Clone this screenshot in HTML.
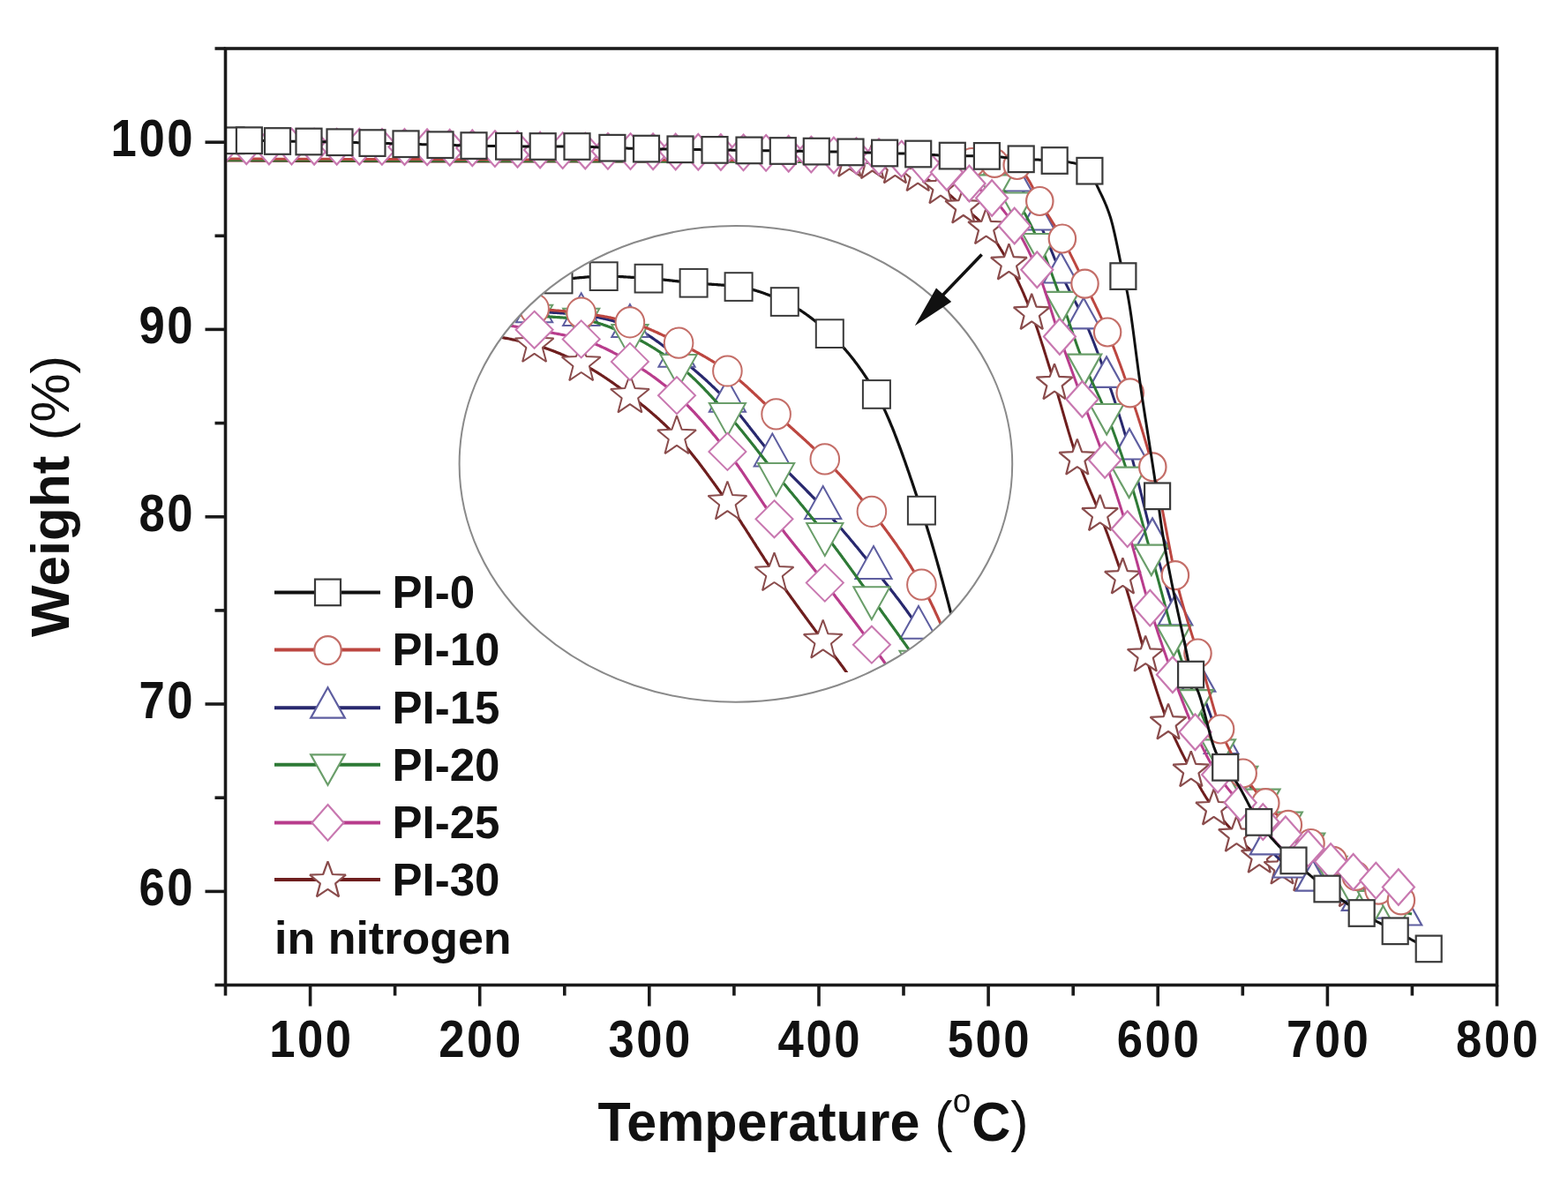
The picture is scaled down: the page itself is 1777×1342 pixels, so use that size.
<!DOCTYPE html>
<html><head><meta charset="utf-8"><title>TGA curves</title>
<style>html,body{margin:0;padding:0;background:#fff;}svg{display:block;}</style></head>
<body>
<svg width="1777" height="1342" viewBox="0 0 1777 1342">
<rect width="1777" height="1342" fill="#ffffff"/>
<defs>
<clipPath id="cp"><rect x="255.5" y="55.0" width="1441.0" height="1061.5"/></clipPath>
<clipPath id="ce"><ellipse cx="833.9" cy="525.9" rx="313.3" ry="269.8"/></clipPath>
<clipPath id="cr"><rect x="0" y="0" width="1777" height="762"/></clipPath>
</defs>
<g clip-path="url(#cp)">
<path d="M250.0,182.0 L251.0,182.0 L252.0,182.0 L253.0,182.0 L254.0,182.0 L255.0,182.0 L256.0,182.0 L257.0,182.0 L258.0,182.0 L259.0,182.0 L260.0,182.0 L261.0,182.0 L262.0,182.1 L263.0,182.1 L264.0,182.1 L265.0,182.1 L266.0,182.1 L267.0,182.1 L268.0,182.1 L269.0,182.1 L270.0,182.1 L271.0,182.1 L272.0,182.1 L273.0,182.1 L274.0,182.1 L275.0,182.1 L276.0,182.1 L277.0,182.1 L278.0,182.1 L279.0,182.1 L280.0,182.1 L281.0,182.1 L282.0,182.1 L283.0,182.1 L284.0,182.1 L285.0,182.2 L286.0,182.2 L287.0,182.2 L288.0,182.2 L289.0,182.2 L290.0,182.2 L291.0,182.2 L292.0,182.2 L293.0,182.2 L294.0,182.2 L295.0,182.2 L296.0,182.2 L297.0,182.2 L298.0,182.2 L299.0,182.2 L300.0,182.2 L301.0,182.2 L302.0,182.2 L303.0,182.2 L304.0,182.2 L305.0,182.2 L306.0,182.2 L307.0,182.2 L308.0,182.3 L309.0,182.3 L310.0,182.3 L311.0,182.3 L312.0,182.3 L313.0,182.3 L314.0,182.3 L315.0,182.3 L316.0,182.3 L317.0,182.3 L318.0,182.3 L319.0,182.3 L320.0,182.3 L321.0,182.3 L322.0,182.3 L323.0,182.3 L324.0,182.3 L325.0,182.3 L326.0,182.3 L327.0,182.3 L328.0,182.3 L329.0,182.3 L330.0,182.3 L331.0,182.3 L332.0,182.4 L333.0,182.4 L334.0,182.4 L335.0,182.4 L336.0,182.4 L337.0,182.4 L338.0,182.4 L339.0,182.4 L340.0,182.4 L341.0,182.4 L342.0,182.4 L343.0,182.4 L344.0,182.4 L345.0,182.4 L346.0,182.4 L347.0,182.4 L348.0,182.4 L349.0,182.4 L350.0,182.4 L351.0,182.4 L352.0,182.4 L353.0,182.4 L354.0,182.4 L355.0,182.4 L356.0,182.4 L357.0,182.4 L358.0,182.5 L359.0,182.5 L360.0,182.5 L361.0,182.5 L362.0,182.5 L363.0,182.5 L364.0,182.5 L365.0,182.5 L366.0,182.5 L367.0,182.5 L368.0,182.5 L369.0,182.5 L370.0,182.5 L371.0,182.5 L372.0,182.5 L373.0,182.5 L374.0,182.5 L375.0,182.5 L376.0,182.5 L377.0,182.5 L378.0,182.5 L379.0,182.5 L380.0,182.5 L381.0,182.5 L382.0,182.5 L383.0,182.5 L384.0,182.6 L385.0,182.6 L386.0,182.6 L387.0,182.6 L388.0,182.6 L389.0,182.6 L390.0,182.6 L391.0,182.6 L392.0,182.6 L393.0,182.6 L394.0,182.6 L395.0,182.6 L396.0,182.6 L397.0,182.6 L398.0,182.6 L399.0,182.6 L400.0,182.6 L401.0,182.6 L402.0,182.6 L403.0,182.6 L404.0,182.6 L405.0,182.6 L406.0,182.6 L407.0,182.6 L408.0,182.6 L409.0,182.6 L410.0,182.6 L411.0,182.6 L412.0,182.6 L413.0,182.7 L414.0,182.7 L415.0,182.7 L416.0,182.7 L417.0,182.7 L418.0,182.7 L419.0,182.7 L420.0,182.7 L421.0,182.7 L422.0,182.7 L423.0,182.7 L424.0,182.7 L425.0,182.7 L426.0,182.7 L427.0,182.7 L428.0,182.7 L429.0,182.7 L430.0,182.7 L431.0,182.7 L432.0,182.7 L433.0,182.7 L434.0,182.7 L435.0,182.7 L436.0,182.7 L437.0,182.7 L438.0,182.7 L439.0,182.7 L440.0,182.7 L441.0,182.7 L442.0,182.7 L443.0,182.7 L444.0,182.8 L445.0,182.8 L446.0,182.8 L447.0,182.8 L448.0,182.8 L449.0,182.8 L450.0,182.8 L451.0,182.8 L452.0,182.8 L453.0,182.8 L454.0,182.8 L455.0,182.8 L456.0,182.8 L457.0,182.8 L458.0,182.8 L459.0,182.8 L460.0,182.8 L461.0,182.8 L462.0,182.8 L463.0,182.8 L464.0,182.8 L465.0,182.8 L466.0,182.8 L467.0,182.8 L468.0,182.8 L469.0,182.8 L470.0,182.8 L471.0,182.8 L472.0,182.8 L473.0,182.8 L474.0,182.8 L475.0,182.8 L476.0,182.8 L477.0,182.8 L478.0,182.8 L479.0,182.8 L480.0,182.8 L481.0,182.8 L482.0,182.9 L483.0,182.9 L484.0,182.9 L485.0,182.9 L486.0,182.9 L487.0,182.9 L488.0,182.9 L489.0,182.9 L490.0,182.9 L491.0,182.9 L492.0,182.9 L493.0,182.9 L494.0,182.9 L495.0,182.9 L496.0,182.9 L497.0,182.9 L498.0,182.9 L499.0,182.9 L500.0,182.9 L501.0,182.9 L502.0,182.9 L503.0,182.9 L504.0,182.9 L505.0,182.9 L506.0,182.9 L507.0,182.9 L508.0,182.9 L509.0,182.9 L510.0,182.9 L511.0,182.9 L512.0,182.9 L513.0,182.9 L514.0,182.9 L515.0,182.9 L516.0,182.9 L517.0,182.9 L518.0,182.9 L519.0,182.9 L520.0,182.9 L521.0,182.9 L522.0,182.9 L523.0,182.9 L524.0,182.9 L525.0,182.9 L526.0,182.9 L527.0,182.9 L528.0,182.9 L529.0,182.9 L530.0,182.9 L531.0,182.9 L532.0,182.9 L533.0,182.9 L534.0,183.0 L535.0,183.0 L536.0,183.0 L537.0,183.0 L538.0,183.0 L539.0,183.0 L540.0,183.0 L541.0,183.0 L542.0,183.0 L543.0,183.0 L544.0,183.0 L545.0,183.0 L546.0,183.0 L547.0,183.0 L548.0,183.0 L549.0,183.0 L550.0,183.0 L551.0,183.0 L552.0,183.0 L553.0,183.0 L554.0,183.0 L555.0,183.0 L556.0,183.0 L557.0,183.0 L558.0,183.0 L559.0,183.0 L560.0,183.0 L561.0,183.0 L562.0,183.0 L563.0,183.0 L564.0,183.0 L565.0,183.0 L566.0,183.0 L567.0,183.0 L568.0,183.0 L569.0,183.0 L570.0,183.0 L571.0,183.0 L572.0,183.0 L573.0,183.0 L574.0,183.0 L575.0,183.0 L576.0,183.0 L577.0,183.0 L578.0,183.0 L579.0,183.0 L580.0,183.0 L581.0,183.0 L582.0,183.0 L583.0,183.0 L584.0,183.0 L585.0,183.0 L586.0,183.0 L587.0,183.0 L588.0,183.0 L589.0,183.0 L590.0,183.0 L591.0,183.0 L592.0,183.0 L593.0,183.0 L594.0,183.0 L595.0,183.0 L596.0,183.0 L597.0,183.0 L598.0,183.0 L599.0,183.0 L600.0,183.0 L601.0,183.0 L602.0,183.0 L603.0,183.0 L604.0,183.0 L605.0,183.0 L606.0,183.0 L607.0,183.0 L608.0,183.0 L609.0,183.0 L610.0,183.0 L611.0,183.0 L612.0,183.0 L613.0,183.0 L614.0,183.0 L615.0,183.0 L616.0,183.0 L617.0,183.0 L618.0,183.0 L619.0,183.0 L620.0,183.0 L621.0,183.0 L622.0,183.0 L623.0,183.0 L624.0,183.0 L625.0,183.0 L626.0,183.0 L627.0,183.0 L628.0,183.0 L629.0,183.0 L630.0,183.0 L631.0,183.0 L632.0,183.0 L633.0,183.0 L634.0,183.0 L635.0,183.0 L636.0,183.0 L637.0,183.0 L638.0,183.0 L639.0,183.0 L640.0,183.0 L641.0,183.0 L642.0,183.0 L643.0,183.0 L644.0,183.0 L645.0,183.0 L646.0,183.0 L647.0,183.0 L648.0,183.0 L649.0,183.0 L650.0,183.0 L651.0,183.0 L652.0,183.0 L653.0,183.0 L654.0,183.0 L655.0,183.0 L656.0,183.0 L657.0,183.0 L658.0,183.0 L659.0,183.0 L660.0,183.0 L661.0,183.0 L662.0,183.0 L663.0,183.0 L664.0,183.0 L665.0,183.0 L666.0,183.0 L667.0,183.0 L668.0,183.0 L669.0,183.0 L670.0,183.0 L671.0,183.0 L672.0,183.0 L673.0,183.0 L674.0,183.0 L675.0,183.0 L676.0,183.0 L677.0,183.0 L678.0,183.0 L679.0,183.0 L680.0,183.0 L681.0,183.0 L682.0,183.0 L683.0,183.0 L684.0,183.0 L685.0,183.0 L686.0,183.0 L687.0,183.0 L688.0,183.0 L689.0,183.0 L690.0,183.0 L691.0,183.0 L692.0,183.0 L693.0,183.0 L694.0,183.0 L695.0,183.0 L696.0,183.0 L697.0,183.0 L698.0,183.0 L699.0,183.0 L700.0,183.0 L701.0,183.0 L702.0,183.0 L703.0,183.0 L704.0,183.0 L705.0,183.0 L706.0,183.0 L707.0,183.0 L708.0,183.0 L709.0,183.0 L710.0,183.0 L711.0,183.0 L712.0,183.0 L713.0,183.0 L714.0,183.0 L715.0,183.0 L716.0,183.0 L717.0,183.0 L718.0,183.0 L719.0,183.0 L720.0,183.0 L721.0,183.0 L722.0,183.0 L723.0,183.0 L724.0,183.0 L725.0,183.0 L726.0,183.0 L727.0,183.0 L728.0,183.0 L729.0,183.0 L730.0,183.0 L731.0,183.0 L732.0,183.0 L733.0,183.0 L734.0,183.0 L735.0,183.0 L736.0,183.0 L737.0,183.0 L738.0,183.0 L739.0,183.0 L740.0,183.0 L741.0,183.0 L742.0,183.0 L743.0,183.0 L744.0,183.0 L745.0,183.0 L746.0,183.0 L747.0,183.0 L748.0,183.0 L749.0,183.0 L750.0,183.0 L751.0,183.0 L752.0,183.0 L753.0,183.0 L754.0,183.0 L755.0,183.0 L756.0,183.0 L757.0,183.0 L758.0,183.0 L759.0,183.0 L760.0,183.0 L761.0,183.0 L762.0,183.0 L763.0,183.0 L764.0,183.0 L765.0,183.0 L766.0,183.0 L767.0,183.0 L768.0,183.0 L769.0,183.0 L770.0,183.0 L771.0,183.0 L772.0,183.0 L773.0,183.0 L774.0,183.0 L775.0,183.0 L776.0,183.0 L777.0,183.0 L778.0,183.0 L779.0,183.0 L780.0,183.0 L781.0,183.0 L782.0,183.0 L783.0,183.0 L784.0,183.0 L785.0,183.0 L786.0,183.0 L787.0,183.0 L788.0,183.0 L789.0,183.0 L790.0,183.0 L791.0,183.0 L792.0,183.0 L793.0,183.0 L794.0,183.0 L795.0,183.0 L796.0,183.0 L797.0,183.0 L798.0,183.0 L799.0,183.0 L800.0,183.0 L801.0,183.0 L802.0,183.0 L803.0,183.0 L804.0,183.0 L805.0,183.0 L806.0,183.0 L807.0,183.0 L808.0,183.0 L809.0,183.0 L810.0,183.0 L811.0,183.0 L812.0,183.0 L813.0,183.0 L814.0,183.0 L815.0,183.0 L816.0,183.0 L817.0,183.0 L818.0,183.0 L819.0,183.0 L820.0,183.0 L821.0,183.0 L822.0,183.0 L823.0,183.0 L824.0,183.0 L825.0,183.0 L826.0,183.0 L827.0,183.0 L828.0,183.0 L829.0,183.0 L830.0,183.0 L831.0,183.0 L832.0,183.0 L833.0,183.0 L834.0,183.0 L835.0,183.0 L836.0,183.0 L837.0,183.0 L838.0,183.0 L839.0,183.0 L840.0,183.0 L841.0,183.0 L842.0,183.0 L843.0,183.0 L844.0,183.0 L845.0,183.0 L846.0,183.0 L847.0,183.0 L848.0,183.0 L849.0,183.0 L850.0,183.0 L851.0,183.0 L852.0,183.0 L853.0,183.0 L854.0,183.0 L855.0,183.0 L856.0,183.0 L857.0,183.0 L858.0,183.0 L859.0,183.0 L860.0,183.0 L861.0,183.0 L862.0,183.0 L863.0,183.0 L864.0,183.0 L865.0,183.0 L866.0,183.0 L867.0,183.0 L868.0,183.0 L869.0,183.0 L870.0,183.0 L871.0,183.0 L872.0,183.0 L873.0,183.0 L874.0,183.0 L875.0,183.0 L876.0,183.0 L877.0,183.0 L878.0,183.0 L879.0,183.0 L880.0,183.0 L881.0,183.0 L882.0,183.0 L883.0,183.0 L884.0,183.0 L885.0,183.0 L886.0,183.0 L887.0,183.0 L888.0,183.0 L889.0,183.0 L890.0,183.0 L891.0,183.0 L892.0,183.0 L893.0,183.0 L894.0,183.0 L895.0,183.0 L896.0,183.0 L897.0,183.0 L898.0,183.0 L899.0,183.0 L900.0,183.0 L901.0,183.0 L902.0,183.0 L903.0,183.0 L904.0,183.0 L905.0,183.0 L906.0,183.0 L907.0,183.0 L908.0,183.0 L909.0,182.9 L910.0,182.9 L911.0,182.9 L912.0,182.9 L913.0,182.9 L914.0,182.9 L915.0,182.8 L916.0,182.8 L917.0,182.8 L918.0,182.8 L919.0,182.8 L920.0,182.7 L921.0,182.7 L922.0,182.7 L923.0,182.7 L924.0,182.7 L925.0,182.6 L926.0,182.6 L927.0,182.6 L928.0,182.6 L929.0,182.5 L930.0,182.5 L931.0,182.5 L932.0,182.5 L933.0,182.4 L934.0,182.4 L935.0,182.4 L936.0,182.4 L937.0,182.3 L938.0,182.3 L939.0,182.3 L940.0,182.3 L941.0,182.2 L942.0,182.2 L943.0,182.2 L944.0,182.2 L945.0,182.2 L946.0,182.1 L947.0,182.1 L948.0,182.1 L949.0,182.1 L950.0,182.1 L951.0,182.1 L952.0,182.1 L953.0,182.0 L954.0,182.0 L955.0,182.0 L956.0,182.0 L957.0,182.0 L958.0,182.0 L959.0,182.0 L960.0,182.0 L961.0,182.0 L962.0,182.0 L963.0,182.0 L964.0,182.0 L965.0,182.1 L966.0,182.1 L967.0,182.2 L968.0,182.2 L969.0,182.3 L970.0,182.3 L971.0,182.4 L972.0,182.5 L973.0,182.6 L974.0,182.7 L975.0,182.8 L976.0,182.9 L977.0,183.0 L978.0,183.1 L979.0,183.2 L980.0,183.3 L981.0,183.4 L982.0,183.5 L983.0,183.6 L984.0,183.7 L985.0,183.8 L986.0,183.9 L987.0,184.0 L988.0,184.2 L989.0,184.3 L990.0,184.4 L991.0,184.6 L992.0,184.7 L993.0,184.9 L994.0,185.0 L995.0,185.2 L996.0,185.4 L997.0,185.6 L998.0,185.8 L999.0,186.0 L1000.0,186.2 L1001.0,186.4 L1002.0,186.6 L1003.0,186.8 L1004.0,187.0 L1005.0,187.3 L1006.0,187.5 L1007.0,187.7 L1008.0,187.9 L1009.0,188.2 L1010.0,188.4 L1011.0,188.7 L1012.0,188.9 L1013.0,189.1 L1014.0,189.4 L1015.0,189.7 L1016.0,189.9 L1017.0,190.2 L1018.0,190.5 L1019.0,190.8 L1020.0,191.1 L1021.0,191.4 L1022.0,191.7 L1023.0,192.0 L1024.0,192.3 L1025.0,192.6 L1026.0,193.0 L1027.0,193.3 L1028.0,193.7 L1029.0,194.0 L1030.0,194.4 L1031.0,194.7 L1032.0,195.1 L1033.0,195.5 L1034.0,195.8 L1035.0,196.2 L1036.0,196.6 L1037.0,197.0 L1038.0,197.4 L1039.0,197.8 L1040.0,198.2 L1041.0,198.7 L1042.0,199.1 L1043.0,199.5 L1044.0,200.0 L1045.0,200.5 L1046.0,200.9 L1047.0,201.4 L1048.0,201.9 L1049.0,202.4 L1050.0,202.9 L1051.0,203.4 L1052.0,203.9 L1053.0,204.5 L1054.0,205.0 L1055.0,205.6 L1056.0,206.1 L1057.0,206.7 L1058.0,207.3 L1059.0,207.9 L1060.0,208.5 L1061.0,209.1 L1062.0,209.7 L1063.0,210.4 L1064.0,211.0 L1065.0,211.7 L1066.0,212.4 L1067.0,213.1 L1068.0,213.8 L1069.0,214.6 L1070.0,215.4 L1071.0,216.2 L1072.0,217.0 L1073.0,217.9 L1074.0,218.7 L1075.0,219.6 L1076.0,220.5 L1077.0,221.4 L1078.0,222.3 L1079.0,223.2 L1080.0,224.1 L1081.0,225.0 L1082.0,225.9 L1083.0,226.9 L1084.0,227.8 L1085.0,228.7 L1086.0,229.6 L1087.0,230.5 L1088.0,231.4 L1089.0,232.3 L1090.0,233.2 L1091.0,234.0 L1092.0,234.9 L1093.0,235.7 L1094.0,236.6 L1095.0,237.4 L1096.0,238.2 L1097.0,239.0 L1098.0,239.8 L1099.0,240.6 L1100.0,241.5 L1101.0,242.3 L1102.0,243.1 L1103.0,243.9 L1104.0,244.8 L1105.0,245.7 L1106.0,246.5 L1107.0,247.4 L1108.0,248.3 L1109.0,249.3 L1110.0,250.2 L1111.0,251.2 L1112.0,252.2 L1113.0,253.2 L1114.0,254.2 L1115.0,255.3 L1116.0,256.5 L1117.0,257.6 L1118.0,258.8 L1119.0,260.0 L1120.0,261.3 L1121.0,262.6 L1122.0,264.0 L1123.0,265.3 L1124.0,266.7 L1125.0,268.2 L1126.0,269.6 L1127.0,271.1 L1128.0,272.6 L1129.0,274.2 L1130.0,275.8 L1131.0,277.3 L1132.0,279.0 L1133.0,280.6 L1134.0,282.3 L1135.0,283.9 L1136.0,285.6 L1137.0,287.3 L1138.0,289.0 L1139.0,290.8 L1140.0,292.5 L1141.0,294.3 L1142.0,296.1 L1143.0,297.9 L1144.0,299.7 L1145.0,301.5 L1146.0,303.4 L1147.0,305.3 L1148.0,307.3 L1149.0,309.2 L1150.0,311.2 L1151.0,313.3 L1152.0,315.3 L1153.0,317.4 L1154.0,319.5 L1155.0,321.6 L1156.0,323.8 L1157.0,326.0 L1158.0,328.2 L1159.0,330.5 L1160.0,332.7 L1161.0,335.1 L1162.0,337.4 L1163.0,339.8 L1164.0,342.1 L1165.0,344.6 L1166.0,347.0 L1167.0,349.5 L1168.0,352.0 L1169.0,354.6 L1170.0,357.3 L1171.0,360.0 L1172.0,362.7 L1173.0,365.6 L1174.0,368.4 L1175.0,371.4 L1176.0,374.3 L1177.0,377.3 L1178.0,380.4 L1179.0,383.5 L1180.0,386.6 L1181.0,389.7 L1182.0,392.8 L1183.0,396.0 L1184.0,399.2 L1185.0,402.4 L1186.0,405.6 L1187.0,408.8 L1188.0,412.0 L1189.0,415.2 L1190.0,418.4 L1191.0,421.6 L1192.0,424.8 L1193.0,428.0 L1194.0,431.2 L1195.0,434.4 L1196.0,437.7 L1197.0,441.1 L1198.0,444.4 L1199.0,447.8 L1200.0,451.3 L1201.0,454.7 L1202.0,458.2 L1203.0,461.7 L1204.0,465.1 L1205.0,468.6 L1206.0,472.1 L1207.0,475.6 L1208.0,479.0 L1209.0,482.5 L1210.0,485.9 L1211.0,489.3 L1212.0,492.6 L1213.0,495.9 L1214.0,499.2 L1215.0,502.4 L1216.0,505.6 L1217.0,508.6 L1218.0,511.7 L1219.0,514.6 L1220.0,517.5 L1221.0,520.3 L1222.0,523.1 L1223.0,525.7 L1224.0,528.4 L1225.0,531.0 L1226.0,533.5 L1227.0,536.0 L1228.0,538.5 L1229.0,541.0 L1230.0,543.4 L1231.0,545.8 L1232.0,548.2 L1233.0,550.5 L1234.0,552.9 L1235.0,555.2 L1236.0,557.5 L1237.0,559.9 L1238.0,562.2 L1239.0,564.6 L1240.0,566.9 L1241.0,569.3 L1242.0,571.7 L1243.0,574.1 L1244.0,576.6 L1245.0,579.0 L1246.0,581.6 L1247.0,584.1 L1248.0,586.7 L1249.0,589.3 L1250.0,592.0 L1251.0,594.6 L1252.0,597.3 L1253.0,600.0 L1254.0,602.6 L1255.0,605.3 L1256.0,608.0 L1257.0,610.7 L1258.0,613.4 L1259.0,616.2 L1260.0,618.9 L1261.0,621.7 L1262.0,624.5 L1263.0,627.3 L1264.0,630.1 L1265.0,632.9 L1266.0,635.8 L1267.0,638.7 L1268.0,641.6 L1269.0,644.5 L1270.0,647.5 L1271.0,650.4 L1272.0,653.4 L1273.0,656.5 L1274.0,659.5 L1275.0,662.6 L1276.0,665.7 L1277.0,668.9 L1278.0,672.2 L1279.0,675.5 L1280.0,678.9 L1281.0,682.3 L1282.0,685.8 L1283.0,689.3 L1284.0,692.8 L1285.0,696.4 L1286.0,700.0 L1287.0,703.6 L1288.0,707.1 L1289.0,710.7 L1290.0,714.3 L1291.0,717.9 L1292.0,721.5 L1293.0,725.0 L1294.0,728.5 L1295.0,732.0 L1296.0,735.4 L1297.0,738.8 L1298.0,742.1 L1299.0,745.4 L1300.0,748.6 L1301.0,751.8 L1302.0,755.1 L1303.0,758.3 L1304.0,761.5 L1305.0,764.7 L1306.0,767.9 L1307.0,771.0 L1308.0,774.2 L1309.0,777.3 L1310.0,780.5 L1311.0,783.6 L1312.0,786.6 L1313.0,789.6 L1314.0,792.6 L1315.0,795.6 L1316.0,798.5 L1317.0,801.3 L1318.0,804.1 L1319.0,806.9 L1320.0,809.6 L1321.0,812.2 L1322.0,814.7 L1323.0,817.2 L1324.0,819.7 L1325.0,822.1 L1326.0,824.5 L1327.0,826.8 L1328.0,829.1 L1329.0,831.4 L1330.0,833.6 L1331.0,835.8 L1332.0,838.0 L1333.0,840.1 L1334.0,842.2 L1335.0,844.3 L1336.0,846.4 L1337.0,848.4 L1338.0,850.5 L1339.0,852.5 L1340.0,854.5 L1341.0,856.4 L1342.0,858.4 L1343.0,860.4 L1344.0,862.3 L1345.0,864.2 L1346.0,866.2 L1347.0,868.1 L1348.0,870.0 L1349.0,871.9 L1350.0,873.8 L1351.0,875.7 L1352.0,877.6 L1353.0,879.5 L1354.0,881.4 L1355.0,883.3 L1356.0,885.1 L1357.0,887.0 L1358.0,888.8 L1359.0,890.6 L1360.0,892.4 L1361.0,894.1 L1362.0,895.9 L1363.0,897.6 L1364.0,899.3 L1365.0,900.9 L1366.0,902.5 L1367.0,904.1 L1368.0,905.7 L1369.0,907.2 L1370.0,908.7 L1371.0,910.2 L1372.0,911.6 L1373.0,913.0 L1374.0,914.4 L1375.0,915.7 L1376.0,917.1 L1377.0,918.4 L1378.0,919.7 L1379.0,921.0 L1380.0,922.2 L1381.0,923.5 L1382.0,924.7 L1383.0,925.9 L1384.0,927.1 L1385.0,928.3 L1386.0,929.5 L1387.0,930.6 L1388.0,931.8 L1389.0,932.9 L1390.0,934.1 L1391.0,935.2 L1392.0,936.3 L1393.0,937.4 L1394.0,938.6 L1395.0,939.7 L1396.0,940.8 L1397.0,941.9 L1398.0,943.0 L1399.0,944.2 L1400.0,945.3 L1401.0,946.4 L1402.0,947.6 L1403.0,948.7 L1404.0,949.8 L1405.0,951.0 L1406.0,952.1 L1407.0,953.2 L1408.0,954.3 L1409.0,955.3 L1410.0,956.4 L1411.0,957.5 L1412.0,958.5 L1413.0,959.5 L1414.0,960.5 L1415.0,961.4 L1416.0,962.4 L1417.0,963.3 L1418.0,964.1 L1419.0,965.0 L1420.0,965.8 L1421.0,966.6 L1422.0,967.3 L1423.0,968.0 L1424.0,968.7 L1425.0,969.4 L1426.0,970.1 L1427.0,970.8 L1428.0,971.4 L1429.0,972.1 L1430.0,972.7 L1431.0,973.3 L1432.0,974.0 L1433.0,974.6 L1434.0,975.1 L1435.0,975.7 L1436.0,976.3 L1437.0,976.8 L1438.0,977.4 L1439.0,977.9 L1440.0,978.4 L1441.0,978.9 L1442.0,979.4 L1443.0,979.8 L1444.0,980.3 L1445.0,980.7 L1446.0,981.2 L1447.0,981.6 L1448.0,982.0 L1449.0,982.4 L1450.0,982.8 L1451.0,983.1 L1452.0,983.5 L1453.0,983.8 L1454.0,984.2 L1455.0,984.5 L1456.0,984.8 L1457.0,985.1 L1458.0,985.4 L1459.0,985.7 L1460.0,986.0 L1461.0,986.2 L1462.0,986.5 L1463.0,986.8 L1464.0,987.1 L1465.0,987.3 L1466.0,987.6 L1467.0,987.9 L1468.0,988.2 L1469.0,988.5 L1470.0,988.8 L1471.0,989.1 L1472.0,989.4 L1473.0,989.7 L1474.0,990.0 L1475.0,990.3 L1476.0,990.7 L1477.0,991.0 L1478.0,991.3 L1479.0,991.7 L1480.0,992.0 L1481.0,992.3 L1482.0,992.7 L1483.0,993.0 L1484.0,993.4 L1485.0,993.7 L1486.0,994.1 L1487.0,994.4 L1488.0,994.8 L1489.0,995.1 L1490.0,995.5 L1491.0,995.8 L1492.0,996.2 L1493.0,996.5 L1494.0,996.9 L1495.0,997.3 L1496.0,997.6 L1497.0,998.0 L1498.0,998.3 L1499.0,998.7 L1500.0,999.0 L1501.0,999.3 L1502.0,999.7 L1503.0,1000.0 L1504.0,1000.4 L1505.0,1000.7 L1506.0,1001.1 L1507.0,1001.5 L1508.0,1001.8 L1509.0,1002.2 L1510.0,1002.5 L1511.0,1002.9 L1512.0,1003.2 L1513.0,1003.6 L1514.0,1003.9 L1515.0,1004.3 L1516.0,1004.6 L1517.0,1005.0 L1518.0,1005.3 L1519.0,1005.7 L1520.0,1006.0 L1521.0,1006.3 L1522.0,1006.7 L1523.0,1007.0 L1524.0,1007.3 L1525.0,1007.7 L1526.0,1008.0 L1527.0,1008.3 L1528.0,1008.7 L1529.0,1009.0 L1530.0,1009.3 L1531.0,1009.6 L1532.0,1010.0 L1533.0,1010.3 L1534.0,1010.6 L1535.0,1010.9 L1536.0,1011.2 L1537.0,1011.6 L1538.0,1011.9 L1539.0,1012.2 L1540.0,1012.5 L1541.0,1012.8 L1542.0,1013.1 L1543.0,1013.4 L1544.0,1013.7 L1545.0,1014.0 L1546.0,1014.3 L1547.0,1014.6 L1548.0,1014.9 L1549.0,1015.2 L1550.0,1015.5 L1551.0,1015.7 L1552.0,1016.0 L1553.0,1016.3 L1554.0,1016.5 L1555.0,1016.8 L1556.0,1017.0 L1557.0,1017.3 L1558.0,1017.5 L1559.0,1017.8 L1560.0,1018.0 L1561.0,1018.3 L1562.0,1018.5 L1563.0,1018.7 L1564.0,1019.0 L1565.0,1019.2 L1566.0,1019.4 L1567.0,1019.7 L1568.0,1019.9 L1569.0,1020.1 L1570.0,1020.3 L1571.0,1020.5 L1572.0,1020.8 L1573.0,1021.0 L1574.0,1021.2 L1575.0,1021.4 L1576.0,1021.6 L1577.0,1021.8 L1578.0,1022.0 L1579.0,1022.2 L1580.0,1022.4 L1581.0,1022.6 L1582.0,1022.8 L1583.0,1023.0 L1584.0,1023.2 L1585.0,1023.4 L1586.0,1023.6 L1587.0,1023.8 L1588.0,1023.9 L1589.0,1024.1 L1590.0,1024.3 L1591.0,1024.5 L1592.0,1024.7 L1593.0,1024.8 L1594.0,1025.0 L1595.0,1025.2 L1596.0,1025.3 L1597.0,1025.5 L1598.0,1025.7 L1599.0,1025.8 L1600.0,1026.0" fill="none" stroke="#6e1e1e" stroke-width="3"/>
<polygon points="962.8,159.9 968.1,174.5 983.2,175.2 971.4,184.9 975.4,199.9 962.8,191.3 950.2,199.9 954.2,184.9 942.4,175.2 957.5,174.5" fill="#fff" stroke="#8a4c4c" stroke-width="2.2" stroke-linejoin="bevel"/>
<polygon points="988.6,162.1 993.9,176.7 1009.0,177.4 997.2,187.1 1001.2,202.2 988.6,193.5 976.0,202.2 980.0,187.1 968.2,177.4 983.3,176.7" fill="#fff" stroke="#8a4c4c" stroke-width="2.2" stroke-linejoin="bevel"/>
<polygon points="1014.4,167.4 1019.7,182.0 1034.8,182.7 1023.0,192.4 1027.0,207.4 1014.4,198.8 1001.8,207.4 1005.8,192.4 994.0,182.7 1009.1,182.0" fill="#fff" stroke="#8a4c4c" stroke-width="2.2" stroke-linejoin="bevel"/>
<polygon points="1040.2,176.2 1045.5,190.8 1060.6,191.5 1048.8,201.2 1052.8,216.2 1040.2,207.6 1027.6,216.2 1031.6,201.2 1019.8,191.5 1034.9,190.8" fill="#fff" stroke="#8a4c4c" stroke-width="2.2" stroke-linejoin="bevel"/>
<polygon points="1066.0,190.2 1071.3,204.8 1086.4,205.5 1074.6,215.2 1078.6,230.3 1066.0,221.7 1053.4,230.3 1057.4,215.2 1045.6,205.5 1060.7,204.8" fill="#fff" stroke="#8a4c4c" stroke-width="2.2" stroke-linejoin="bevel"/>
<polygon points="1091.8,212.6 1097.1,227.2 1112.2,227.9 1100.4,237.6 1104.4,252.6 1091.8,244.0 1079.2,252.6 1083.2,237.6 1071.4,227.9 1086.5,227.2" fill="#fff" stroke="#8a4c4c" stroke-width="2.2" stroke-linejoin="bevel"/>
<polygon points="1117.6,236.2 1122.9,250.8 1138.0,251.5 1126.2,261.2 1130.2,276.2 1117.6,267.6 1105.0,276.2 1109.0,261.2 1097.2,251.5 1112.3,250.8" fill="#fff" stroke="#8a4c4c" stroke-width="2.2" stroke-linejoin="bevel"/>
<polygon points="1143.4,276.4 1148.7,291.1 1163.8,291.8 1152.0,301.5 1156.0,316.5 1143.4,307.9 1130.8,316.5 1134.8,301.5 1123.0,291.8 1138.1,291.1" fill="#fff" stroke="#8a4c4c" stroke-width="2.2" stroke-linejoin="bevel"/>
<polygon points="1169.2,333.0 1174.5,347.6 1189.6,348.3 1177.8,358.0 1181.8,373.1 1169.2,364.4 1156.6,373.1 1160.6,358.0 1148.8,348.3 1163.9,347.6" fill="#fff" stroke="#8a4c4c" stroke-width="2.2" stroke-linejoin="bevel"/>
<polygon points="1195.0,412.3 1200.3,426.9 1215.4,427.6 1203.6,437.3 1207.6,452.3 1195.0,443.7 1182.4,452.3 1186.4,437.3 1174.6,427.6 1189.7,426.9" fill="#fff" stroke="#8a4c4c" stroke-width="2.2" stroke-linejoin="bevel"/>
<polygon points="1220.8,497.6 1226.1,512.2 1241.2,512.9 1229.4,522.6 1233.4,537.7 1220.8,529.1 1208.2,537.7 1212.2,522.6 1200.4,512.9 1215.5,512.2" fill="#fff" stroke="#8a4c4c" stroke-width="2.2" stroke-linejoin="bevel"/>
<polygon points="1246.6,560.9 1251.9,575.6 1267.0,576.2 1255.2,586.0 1259.2,601.0 1246.6,592.4 1234.0,601.0 1238.0,586.0 1226.2,576.2 1241.3,575.6" fill="#fff" stroke="#8a4c4c" stroke-width="2.2" stroke-linejoin="bevel"/>
<polygon points="1272.4,632.5 1277.7,647.1 1292.8,647.8 1281.0,657.5 1285.0,672.6 1272.4,663.9 1259.8,672.6 1263.8,657.5 1252.0,647.8 1267.1,647.1" fill="#fff" stroke="#8a4c4c" stroke-width="2.2" stroke-linejoin="bevel"/>
<polygon points="1298.2,720.7 1303.5,735.3 1318.6,736.0 1306.8,745.7 1310.8,760.7 1298.2,752.1 1285.6,760.7 1289.6,745.7 1277.8,736.0 1292.9,735.3" fill="#fff" stroke="#8a4c4c" stroke-width="2.2" stroke-linejoin="bevel"/>
<polygon points="1324.0,797.5 1329.3,812.2 1344.4,812.8 1332.6,822.6 1336.6,837.6 1324.0,829.0 1311.4,837.6 1315.4,822.6 1303.6,812.8 1318.7,812.2" fill="#fff" stroke="#8a4c4c" stroke-width="2.2" stroke-linejoin="bevel"/>
<polygon points="1349.8,851.3 1355.1,865.9 1370.2,866.6 1358.4,876.3 1362.4,891.4 1349.8,882.7 1337.2,891.4 1341.2,876.3 1329.4,866.6 1344.5,865.9" fill="#fff" stroke="#8a4c4c" stroke-width="2.2" stroke-linejoin="bevel"/>
<polygon points="1375.6,894.4 1380.9,909.0 1396.0,909.7 1384.2,919.4 1388.2,934.5 1375.6,925.8 1363.0,934.5 1367.0,919.4 1355.2,909.7 1370.3,909.0" fill="#fff" stroke="#8a4c4c" stroke-width="2.2" stroke-linejoin="bevel"/>
<polygon points="1401.4,924.8 1406.7,939.4 1421.8,940.1 1410.0,949.8 1414.0,964.8 1401.4,956.2 1388.8,964.8 1392.8,949.8 1381.0,940.1 1396.1,939.4" fill="#fff" stroke="#8a4c4c" stroke-width="2.2" stroke-linejoin="bevel"/>
<polygon points="1427.2,948.8 1432.5,963.4 1447.6,964.1 1435.8,973.8 1439.8,988.8 1427.2,980.2 1414.6,988.8 1418.6,973.8 1406.8,964.1 1421.9,963.4" fill="#fff" stroke="#8a4c4c" stroke-width="2.2" stroke-linejoin="bevel"/>
<polygon points="1453.0,961.7 1458.3,976.3 1473.4,977.0 1461.6,986.7 1465.6,1001.7 1453.0,993.1 1440.4,1001.7 1444.4,986.7 1432.6,977.0 1447.7,976.3" fill="#fff" stroke="#8a4c4c" stroke-width="2.2" stroke-linejoin="bevel"/>
<polygon points="1478.8,969.5 1484.1,984.1 1499.2,984.8 1487.4,994.5 1491.4,1009.5 1478.8,1000.9 1466.2,1009.5 1470.2,994.5 1458.4,984.8 1473.5,984.1" fill="#fff" stroke="#8a4c4c" stroke-width="2.2" stroke-linejoin="bevel"/>
<polygon points="1504.6,978.5 1509.9,993.1 1525.0,993.8 1513.2,1003.5 1517.2,1018.5 1504.6,1009.9 1492.0,1018.5 1496.0,1003.5 1484.2,993.8 1499.3,993.1" fill="#fff" stroke="#8a4c4c" stroke-width="2.2" stroke-linejoin="bevel"/>
<polygon points="1530.4,987.3 1535.7,1001.9 1550.8,1002.6 1539.0,1012.3 1543.0,1027.4 1530.4,1018.7 1517.8,1027.4 1521.8,1012.3 1510.0,1002.6 1525.1,1001.9" fill="#fff" stroke="#8a4c4c" stroke-width="2.2" stroke-linejoin="bevel"/>
<polygon points="1556.2,994.9 1561.5,1009.6 1576.6,1010.2 1564.8,1020.0 1568.8,1035.0 1556.2,1026.4 1543.6,1035.0 1547.6,1020.0 1535.8,1010.2 1550.9,1009.6" fill="#fff" stroke="#8a4c4c" stroke-width="2.2" stroke-linejoin="bevel"/>
<polygon points="1582.0,1000.7 1587.3,1015.3 1602.4,1016.0 1590.6,1025.7 1594.6,1040.7 1582.0,1032.1 1569.4,1040.7 1573.4,1025.7 1561.6,1016.0 1576.7,1015.3" fill="#fff" stroke="#8a4c4c" stroke-width="2.2" stroke-linejoin="bevel"/>
<path d="M250.0,181.0 L251.0,181.0 L252.0,181.0 L253.0,181.0 L254.0,181.0 L255.0,181.0 L256.0,181.0 L257.0,181.0 L258.0,181.0 L259.0,181.0 L260.0,181.0 L261.0,181.0 L262.0,181.0 L263.0,181.0 L264.0,181.0 L265.0,181.0 L266.0,181.0 L267.0,181.0 L268.0,181.0 L269.0,181.0 L270.0,181.1 L271.0,181.1 L272.0,181.1 L273.0,181.1 L274.0,181.1 L275.0,181.1 L276.0,181.1 L277.0,181.1 L278.0,181.1 L279.0,181.1 L280.0,181.1 L281.0,181.1 L282.0,181.1 L283.0,181.1 L284.0,181.1 L285.0,181.1 L286.0,181.1 L287.0,181.1 L288.0,181.1 L289.0,181.1 L290.0,181.1 L291.0,181.1 L292.0,181.1 L293.0,181.1 L294.0,181.1 L295.0,181.1 L296.0,181.1 L297.0,181.1 L298.0,181.1 L299.0,181.1 L300.0,181.1 L301.0,181.1 L302.0,181.1 L303.0,181.1 L304.0,181.1 L305.0,181.1 L306.0,181.1 L307.0,181.2 L308.0,181.2 L309.0,181.2 L310.0,181.2 L311.0,181.2 L312.0,181.2 L313.0,181.2 L314.0,181.2 L315.0,181.2 L316.0,181.2 L317.0,181.2 L318.0,181.2 L319.0,181.2 L320.0,181.2 L321.0,181.2 L322.0,181.2 L323.0,181.2 L324.0,181.2 L325.0,181.2 L326.0,181.2 L327.0,181.2 L328.0,181.2 L329.0,181.2 L330.0,181.2 L331.0,181.2 L332.0,181.2 L333.0,181.2 L334.0,181.2 L335.0,181.2 L336.0,181.2 L337.0,181.2 L338.0,181.2 L339.0,181.2 L340.0,181.2 L341.0,181.2 L342.0,181.2 L343.0,181.2 L344.0,181.3 L345.0,181.3 L346.0,181.3 L347.0,181.3 L348.0,181.3 L349.0,181.3 L350.0,181.3 L351.0,181.3 L352.0,181.3 L353.0,181.3 L354.0,181.3 L355.0,181.3 L356.0,181.3 L357.0,181.3 L358.0,181.3 L359.0,181.3 L360.0,181.3 L361.0,181.3 L362.0,181.3 L363.0,181.3 L364.0,181.3 L365.0,181.3 L366.0,181.3 L367.0,181.3 L368.0,181.3 L369.0,181.3 L370.0,181.3 L371.0,181.3 L372.0,181.3 L373.0,181.3 L374.0,181.3 L375.0,181.3 L376.0,181.3 L377.0,181.3 L378.0,181.3 L379.0,181.3 L380.0,181.4 L381.0,181.4 L382.0,181.4 L383.0,181.4 L384.0,181.4 L385.0,181.4 L386.0,181.4 L387.0,181.4 L388.0,181.4 L389.0,181.4 L390.0,181.4 L391.0,181.4 L392.0,181.4 L393.0,181.4 L394.0,181.4 L395.0,181.4 L396.0,181.4 L397.0,181.4 L398.0,181.4 L399.0,181.4 L400.0,181.4 L401.0,181.4 L402.0,181.4 L403.0,181.4 L404.0,181.4 L405.0,181.4 L406.0,181.4 L407.0,181.4 L408.0,181.4 L409.0,181.4 L410.0,181.4 L411.0,181.4 L412.0,181.4 L413.0,181.4 L414.0,181.4 L415.0,181.5 L416.0,181.5 L417.0,181.5 L418.0,181.5 L419.0,181.5 L420.0,181.5 L421.0,181.5 L422.0,181.5 L423.0,181.5 L424.0,181.5 L425.0,181.5 L426.0,181.5 L427.0,181.5 L428.0,181.5 L429.0,181.5 L430.0,181.5 L431.0,181.5 L432.0,181.5 L433.0,181.5 L434.0,181.5 L435.0,181.5 L436.0,181.5 L437.0,181.5 L438.0,181.5 L439.0,181.5 L440.0,181.5 L441.0,181.5 L442.0,181.5 L443.0,181.5 L444.0,181.5 L445.0,181.5 L446.0,181.5 L447.0,181.5 L448.0,181.5 L449.0,181.5 L450.0,181.6 L451.0,181.6 L452.0,181.6 L453.0,181.6 L454.0,181.6 L455.0,181.6 L456.0,181.6 L457.0,181.6 L458.0,181.6 L459.0,181.6 L460.0,181.6 L461.0,181.6 L462.0,181.6 L463.0,181.6 L464.0,181.6 L465.0,181.6 L466.0,181.6 L467.0,181.6 L468.0,181.6 L469.0,181.6 L470.0,181.6 L471.0,181.6 L472.0,181.6 L473.0,181.6 L474.0,181.6 L475.0,181.6 L476.0,181.6 L477.0,181.6 L478.0,181.6 L479.0,181.6 L480.0,181.6 L481.0,181.6 L482.0,181.6 L483.0,181.6 L484.0,181.7 L485.0,181.7 L486.0,181.7 L487.0,181.7 L488.0,181.7 L489.0,181.7 L490.0,181.7 L491.0,181.7 L492.0,181.7 L493.0,181.7 L494.0,181.7 L495.0,181.7 L496.0,181.7 L497.0,181.7 L498.0,181.7 L499.0,181.7 L500.0,181.7 L501.0,181.7 L502.0,181.7 L503.0,181.7 L504.0,181.7 L505.0,181.7 L506.0,181.7 L507.0,181.7 L508.0,181.7 L509.0,181.7 L510.0,181.7 L511.0,181.7 L512.0,181.7 L513.0,181.7 L514.0,181.7 L515.0,181.7 L516.0,181.7 L517.0,181.7 L518.0,181.8 L519.0,181.8 L520.0,181.8 L521.0,181.8 L522.0,181.8 L523.0,181.8 L524.0,181.8 L525.0,181.8 L526.0,181.8 L527.0,181.8 L528.0,181.8 L529.0,181.8 L530.0,181.8 L531.0,181.8 L532.0,181.8 L533.0,181.8 L534.0,181.8 L535.0,181.8 L536.0,181.8 L537.0,181.8 L538.0,181.8 L539.0,181.8 L540.0,181.8 L541.0,181.8 L542.0,181.8 L543.0,181.8 L544.0,181.8 L545.0,181.8 L546.0,181.8 L547.0,181.8 L548.0,181.8 L549.0,181.8 L550.0,181.8 L551.0,181.9 L552.0,181.9 L553.0,181.9 L554.0,181.9 L555.0,181.9 L556.0,181.9 L557.0,181.9 L558.0,181.9 L559.0,181.9 L560.0,181.9 L561.0,181.9 L562.0,181.9 L563.0,181.9 L564.0,181.9 L565.0,181.9 L566.0,181.9 L567.0,181.9 L568.0,181.9 L569.0,181.9 L570.0,181.9 L571.0,181.9 L572.0,181.9 L573.0,181.9 L574.0,181.9 L575.0,181.9 L576.0,181.9 L577.0,181.9 L578.0,181.9 L579.0,181.9 L580.0,181.9 L581.0,181.9 L582.0,181.9 L583.0,181.9 L584.0,182.0 L585.0,182.0 L586.0,182.0 L587.0,182.0 L588.0,182.0 L589.0,182.0 L590.0,182.0 L591.0,182.0 L592.0,182.0 L593.0,182.0 L594.0,182.0 L595.0,182.0 L596.0,182.0 L597.0,182.0 L598.0,182.0 L599.0,182.0 L600.0,182.0 L601.0,182.0 L602.0,182.0 L603.0,182.0 L604.0,182.0 L605.0,182.0 L606.0,182.0 L607.0,182.0 L608.0,182.0 L609.0,182.0 L610.0,182.0 L611.0,182.0 L612.0,182.0 L613.0,182.0 L614.0,182.0 L615.0,182.0 L616.0,182.0 L617.0,182.1 L618.0,182.1 L619.0,182.1 L620.0,182.1 L621.0,182.1 L622.0,182.1 L623.0,182.1 L624.0,182.1 L625.0,182.1 L626.0,182.1 L627.0,182.1 L628.0,182.1 L629.0,182.1 L630.0,182.1 L631.0,182.1 L632.0,182.1 L633.0,182.1 L634.0,182.1 L635.0,182.1 L636.0,182.1 L637.0,182.1 L638.0,182.1 L639.0,182.1 L640.0,182.1 L641.0,182.1 L642.0,182.1 L643.0,182.1 L644.0,182.1 L645.0,182.1 L646.0,182.1 L647.0,182.1 L648.0,182.1 L649.0,182.1 L650.0,182.1 L651.0,182.1 L652.0,182.1 L653.0,182.2 L654.0,182.2 L655.0,182.2 L656.0,182.2 L657.0,182.2 L658.0,182.2 L659.0,182.2 L660.0,182.2 L661.0,182.2 L662.0,182.2 L663.0,182.2 L664.0,182.2 L665.0,182.2 L666.0,182.2 L667.0,182.2 L668.0,182.2 L669.0,182.2 L670.0,182.2 L671.0,182.2 L672.0,182.2 L673.0,182.2 L674.0,182.2 L675.0,182.2 L676.0,182.2 L677.0,182.2 L678.0,182.2 L679.0,182.2 L680.0,182.2 L681.0,182.2 L682.0,182.2 L683.0,182.2 L684.0,182.2 L685.0,182.2 L686.0,182.2 L687.0,182.2 L688.0,182.2 L689.0,182.2 L690.0,182.2 L691.0,182.3 L692.0,182.3 L693.0,182.3 L694.0,182.3 L695.0,182.3 L696.0,182.3 L697.0,182.3 L698.0,182.3 L699.0,182.3 L700.0,182.3 L701.0,182.3 L702.0,182.3 L703.0,182.3 L704.0,182.3 L705.0,182.3 L706.0,182.3 L707.0,182.3 L708.0,182.3 L709.0,182.3 L710.0,182.3 L711.0,182.3 L712.0,182.3 L713.0,182.3 L714.0,182.3 L715.0,182.3 L716.0,182.3 L717.0,182.3 L718.0,182.3 L719.0,182.3 L720.0,182.3 L721.0,182.3 L722.0,182.3 L723.0,182.3 L724.0,182.3 L725.0,182.3 L726.0,182.3 L727.0,182.3 L728.0,182.3 L729.0,182.4 L730.0,182.4 L731.0,182.4 L732.0,182.4 L733.0,182.4 L734.0,182.4 L735.0,182.4 L736.0,182.4 L737.0,182.4 L738.0,182.4 L739.0,182.4 L740.0,182.4 L741.0,182.4 L742.0,182.4 L743.0,182.4 L744.0,182.4 L745.0,182.4 L746.0,182.4 L747.0,182.4 L748.0,182.4 L749.0,182.4 L750.0,182.4 L751.0,182.4 L752.0,182.4 L753.0,182.4 L754.0,182.4 L755.0,182.4 L756.0,182.4 L757.0,182.4 L758.0,182.4 L759.0,182.4 L760.0,182.4 L761.0,182.4 L762.0,182.4 L763.0,182.4 L764.0,182.5 L765.0,182.5 L766.0,182.5 L767.0,182.5 L768.0,182.5 L769.0,182.5 L770.0,182.5 L771.0,182.5 L772.0,182.5 L773.0,182.5 L774.0,182.5 L775.0,182.5 L776.0,182.5 L777.0,182.5 L778.0,182.5 L779.0,182.5 L780.0,182.5 L781.0,182.5 L782.0,182.5 L783.0,182.5 L784.0,182.5 L785.0,182.5 L786.0,182.5 L787.0,182.5 L788.0,182.5 L789.0,182.5 L790.0,182.5 L791.0,182.5 L792.0,182.5 L793.0,182.5 L794.0,182.5 L795.0,182.5 L796.0,182.6 L797.0,182.6 L798.0,182.6 L799.0,182.6 L800.0,182.6 L801.0,182.6 L802.0,182.6 L803.0,182.6 L804.0,182.6 L805.0,182.6 L806.0,182.6 L807.0,182.6 L808.0,182.6 L809.0,182.6 L810.0,182.6 L811.0,182.6 L812.0,182.6 L813.0,182.6 L814.0,182.6 L815.0,182.6 L816.0,182.6 L817.0,182.6 L818.0,182.6 L819.0,182.6 L820.0,182.6 L821.0,182.6 L822.0,182.6 L823.0,182.6 L824.0,182.7 L825.0,182.7 L826.0,182.7 L827.0,182.7 L828.0,182.7 L829.0,182.7 L830.0,182.7 L831.0,182.7 L832.0,182.7 L833.0,182.7 L834.0,182.7 L835.0,182.7 L836.0,182.7 L837.0,182.7 L838.0,182.7 L839.0,182.7 L840.0,182.7 L841.0,182.7 L842.0,182.7 L843.0,182.7 L844.0,182.7 L845.0,182.7 L846.0,182.7 L847.0,182.7 L848.0,182.7 L849.0,182.8 L850.0,182.8 L851.0,182.8 L852.0,182.8 L853.0,182.8 L854.0,182.8 L855.0,182.8 L856.0,182.8 L857.0,182.8 L858.0,182.8 L859.0,182.8 L860.0,182.8 L861.0,182.8 L862.0,182.8 L863.0,182.8 L864.0,182.8 L865.0,182.8 L866.0,182.8 L867.0,182.8 L868.0,182.8 L869.0,182.8 L870.0,182.8 L871.0,182.9 L872.0,182.9 L873.0,182.9 L874.0,182.9 L875.0,182.9 L876.0,182.9 L877.0,182.9 L878.0,182.9 L879.0,182.9 L880.0,182.9 L881.0,182.9 L882.0,182.9 L883.0,182.9 L884.0,182.9 L885.0,182.9 L886.0,182.9 L887.0,182.9 L888.0,182.9 L889.0,182.9 L890.0,182.9 L891.0,183.0 L892.0,183.0 L893.0,183.0 L894.0,183.0 L895.0,183.0 L896.0,183.0 L897.0,183.0 L898.0,183.0 L899.0,183.0 L900.0,183.0 L901.0,183.0 L902.0,183.0 L903.0,183.0 L904.0,183.0 L905.0,183.0 L906.0,183.0 L907.0,183.0 L908.0,183.0 L909.0,183.1 L910.0,183.1 L911.0,183.1 L912.0,183.1 L913.0,183.1 L914.0,183.1 L915.0,183.1 L916.0,183.1 L917.0,183.1 L918.0,183.1 L919.0,183.1 L920.0,183.1 L921.0,183.1 L922.0,183.1 L923.0,183.2 L924.0,183.2 L925.0,183.2 L926.0,183.2 L927.0,183.2 L928.0,183.2 L929.0,183.2 L930.0,183.2 L931.0,183.2 L932.0,183.2 L933.0,183.2 L934.0,183.3 L935.0,183.3 L936.0,183.3 L937.0,183.3 L938.0,183.3 L939.0,183.3 L940.0,183.3 L941.0,183.3 L942.0,183.3 L943.0,183.3 L944.0,183.3 L945.0,183.4 L946.0,183.4 L947.0,183.4 L948.0,183.4 L949.0,183.4 L950.0,183.4 L951.0,183.4 L952.0,183.4 L953.0,183.4 L954.0,183.5 L955.0,183.5 L956.0,183.5 L957.0,183.5 L958.0,183.5 L959.0,183.5 L960.0,183.5 L961.0,183.5 L962.0,183.5 L963.0,183.6 L964.0,183.6 L965.0,183.6 L966.0,183.6 L967.0,183.6 L968.0,183.6 L969.0,183.6 L970.0,183.6 L971.0,183.6 L972.0,183.7 L973.0,183.7 L974.0,183.7 L975.0,183.7 L976.0,183.7 L977.0,183.7 L978.0,183.7 L979.0,183.7 L980.0,183.8 L981.0,183.8 L982.0,183.8 L983.0,183.8 L984.0,183.8 L985.0,183.8 L986.0,183.8 L987.0,183.8 L988.0,183.8 L989.0,183.9 L990.0,183.9 L991.0,183.9 L992.0,183.9 L993.0,183.9 L994.0,183.9 L995.0,183.9 L996.0,183.9 L997.0,184.0 L998.0,184.0 L999.0,184.0 L1000.0,184.0 L1001.0,184.0 L1002.0,184.0 L1003.0,184.0 L1004.0,184.1 L1005.0,184.1 L1006.0,184.1 L1007.0,184.1 L1008.0,184.1 L1009.0,184.1 L1010.0,184.1 L1011.0,184.1 L1012.0,184.1 L1013.0,184.2 L1014.0,184.2 L1015.0,184.2 L1016.0,184.2 L1017.0,184.2 L1018.0,184.2 L1019.0,184.2 L1020.0,184.2 L1021.0,184.3 L1022.0,184.3 L1023.0,184.3 L1024.0,184.3 L1025.0,184.3 L1026.0,184.3 L1027.0,184.3 L1028.0,184.4 L1029.0,184.4 L1030.0,184.4 L1031.0,184.4 L1032.0,184.4 L1033.0,184.4 L1034.0,184.4 L1035.0,184.5 L1036.0,184.5 L1037.0,184.5 L1038.0,184.5 L1039.0,184.5 L1040.0,184.5 L1041.0,184.6 L1042.0,184.6 L1043.0,184.6 L1044.0,184.6 L1045.0,184.6 L1046.0,184.7 L1047.0,184.7 L1048.0,184.7 L1049.0,184.7 L1050.0,184.7 L1051.0,184.8 L1052.0,184.8 L1053.0,184.8 L1054.0,184.8 L1055.0,184.9 L1056.0,184.9 L1057.0,184.9 L1058.0,184.9 L1059.0,185.0 L1060.0,185.0 L1061.0,185.0 L1062.0,185.1 L1063.0,185.1 L1064.0,185.1 L1065.0,185.2 L1066.0,185.2 L1067.0,185.3 L1068.0,185.3 L1069.0,185.4 L1070.0,185.4 L1071.0,185.5 L1072.0,185.5 L1073.0,185.6 L1074.0,185.7 L1075.0,185.7 L1076.0,185.8 L1077.0,185.9 L1078.0,185.9 L1079.0,186.0 L1080.0,186.1 L1081.0,186.2 L1082.0,186.2 L1083.0,186.3 L1084.0,186.4 L1085.0,186.5 L1086.0,186.6 L1087.0,186.7 L1088.0,186.8 L1089.0,186.9 L1090.0,186.9 L1091.0,187.0 L1092.0,187.1 L1093.0,187.2 L1094.0,187.3 L1095.0,187.5 L1096.0,187.6 L1097.0,187.7 L1098.0,187.8 L1099.0,187.9 L1100.0,188.0 L1101.0,188.1 L1102.0,188.2 L1103.0,188.4 L1104.0,188.5 L1105.0,188.7 L1106.0,188.8 L1107.0,189.0 L1108.0,189.1 L1109.0,189.3 L1110.0,189.5 L1111.0,189.7 L1112.0,189.9 L1113.0,190.1 L1114.0,190.3 L1115.0,190.5 L1116.0,190.7 L1117.0,190.9 L1118.0,191.2 L1119.0,191.4 L1120.0,191.7 L1121.0,191.9 L1122.0,192.2 L1123.0,192.4 L1124.0,192.7 L1125.0,193.0 L1126.0,193.3 L1127.0,193.6 L1128.0,193.9 L1129.0,194.2 L1130.0,194.6 L1131.0,194.9 L1132.0,195.3 L1133.0,195.6 L1134.0,196.0 L1135.0,196.5 L1136.0,196.9 L1137.0,197.3 L1138.0,197.8 L1139.0,198.3 L1140.0,198.8 L1141.0,199.3 L1142.0,199.8 L1143.0,200.4 L1144.0,201.0 L1145.0,201.6 L1146.0,202.2 L1147.0,202.9 L1148.0,203.6 L1149.0,204.3 L1150.0,205.0 L1151.0,205.8 L1152.0,206.7 L1153.0,207.8 L1154.0,208.9 L1155.0,210.2 L1156.0,211.5 L1157.0,212.9 L1158.0,214.4 L1159.0,216.0 L1160.0,217.7 L1161.0,219.4 L1162.0,221.2 L1163.0,223.0 L1164.0,224.9 L1165.0,226.8 L1166.0,228.8 L1167.0,230.8 L1168.0,232.8 L1169.0,234.8 L1170.0,236.9 L1171.0,238.9 L1172.0,241.0 L1173.0,243.0 L1174.0,245.0 L1175.0,247.0 L1176.0,249.0 L1177.0,251.0 L1178.0,253.0 L1179.0,255.1 L1180.0,257.2 L1181.0,259.4 L1182.0,261.6 L1183.0,263.8 L1184.0,266.1 L1185.0,268.4 L1186.0,270.8 L1187.0,273.2 L1188.0,275.6 L1189.0,278.0 L1190.0,280.4 L1191.0,282.8 L1192.0,285.3 L1193.0,287.7 L1194.0,290.1 L1195.0,292.6 L1196.0,295.0 L1197.0,297.4 L1198.0,299.8 L1199.0,302.1 L1200.0,304.4 L1201.0,306.7 L1202.0,309.0 L1203.0,311.2 L1204.0,313.4 L1205.0,315.6 L1206.0,317.7 L1207.0,319.7 L1208.0,321.7 L1209.0,323.7 L1210.0,325.7 L1211.0,327.7 L1212.0,329.6 L1213.0,331.5 L1214.0,333.4 L1215.0,335.3 L1216.0,337.2 L1217.0,339.1 L1218.0,341.0 L1219.0,342.9 L1220.0,344.8 L1221.0,346.7 L1222.0,348.6 L1223.0,350.6 L1224.0,352.6 L1225.0,354.6 L1226.0,356.6 L1227.0,358.7 L1228.0,360.8 L1229.0,363.0 L1230.0,365.2 L1231.0,367.5 L1232.0,369.8 L1233.0,372.1 L1234.0,374.4 L1235.0,376.8 L1236.0,379.3 L1237.0,381.7 L1238.0,384.2 L1239.0,386.7 L1240.0,389.3 L1241.0,391.9 L1242.0,394.5 L1243.0,397.1 L1244.0,399.7 L1245.0,402.4 L1246.0,405.1 L1247.0,407.8 L1248.0,410.6 L1249.0,413.3 L1250.0,416.1 L1251.0,418.9 L1252.0,421.7 L1253.0,424.5 L1254.0,427.4 L1255.0,430.2 L1256.0,433.1 L1257.0,436.0 L1258.0,438.9 L1259.0,441.8 L1260.0,444.8 L1261.0,447.8 L1262.0,450.8 L1263.0,453.8 L1264.0,456.8 L1265.0,459.9 L1266.0,463.0 L1267.0,466.1 L1268.0,469.3 L1269.0,472.4 L1270.0,475.6 L1271.0,478.8 L1272.0,482.1 L1273.0,485.4 L1274.0,488.7 L1275.0,492.0 L1276.0,495.3 L1277.0,498.7 L1278.0,502.1 L1279.0,505.6 L1280.0,509.0 L1281.0,512.5 L1282.0,516.0 L1283.0,519.6 L1284.0,523.2 L1285.0,526.9 L1286.0,530.7 L1287.0,534.6 L1288.0,538.5 L1289.0,542.5 L1290.0,546.5 L1291.0,550.5 L1292.0,554.6 L1293.0,558.6 L1294.0,562.7 L1295.0,566.8 L1296.0,570.9 L1297.0,575.0 L1298.0,579.1 L1299.0,583.2 L1300.0,587.2 L1301.0,591.2 L1302.0,595.1 L1303.0,599.0 L1304.0,602.9 L1305.0,606.7 L1306.0,610.4 L1307.0,614.0 L1308.0,617.6 L1309.0,621.1 L1310.0,624.7 L1311.0,628.2 L1312.0,631.6 L1313.0,635.1 L1314.0,638.5 L1315.0,641.9 L1316.0,645.3 L1317.0,648.7 L1318.0,652.0 L1319.0,655.3 L1320.0,658.7 L1321.0,661.9 L1322.0,665.2 L1323.0,668.4 L1324.0,671.7 L1325.0,674.9 L1326.0,678.1 L1327.0,681.3 L1328.0,684.4 L1329.0,687.6 L1330.0,690.7 L1331.0,693.8 L1332.0,696.9 L1333.0,700.0 L1334.0,703.1 L1335.0,706.1 L1336.0,709.1 L1337.0,712.2 L1338.0,715.1 L1339.0,718.1 L1340.0,721.1 L1341.0,724.0 L1342.0,726.9 L1343.0,729.8 L1344.0,732.7 L1345.0,735.6 L1346.0,738.5 L1347.0,741.3 L1348.0,744.2 L1349.0,747.0 L1350.0,749.8 L1351.0,752.6 L1352.0,755.5 L1353.0,758.3 L1354.0,761.1 L1355.0,763.8 L1356.0,766.6 L1357.0,769.4 L1358.0,772.2 L1359.0,775.0 L1360.0,777.8 L1361.0,780.6 L1362.0,783.4 L1363.0,786.1 L1364.0,788.9 L1365.0,791.7 L1366.0,794.5 L1367.0,797.2 L1368.0,800.0 L1369.0,802.8 L1370.0,805.5 L1371.0,808.2 L1372.0,811.0 L1373.0,813.7 L1374.0,816.4 L1375.0,819.1 L1376.0,821.8 L1377.0,824.4 L1378.0,827.1 L1379.0,829.7 L1380.0,832.3 L1381.0,834.9 L1382.0,837.4 L1383.0,840.0 L1384.0,842.5 L1385.0,845.0 L1386.0,847.5 L1387.0,849.9 L1388.0,852.4 L1389.0,854.8 L1390.0,857.3 L1391.0,859.7 L1392.0,862.1 L1393.0,864.5 L1394.0,866.9 L1395.0,869.2 L1396.0,871.6 L1397.0,873.9 L1398.0,876.3 L1399.0,878.6 L1400.0,880.9 L1401.0,883.1 L1402.0,885.4 L1403.0,887.6 L1404.0,889.9 L1405.0,892.1 L1406.0,894.3 L1407.0,896.5 L1408.0,898.6 L1409.0,900.8 L1410.0,902.9 L1411.0,905.0 L1412.0,907.1 L1413.0,909.2 L1414.0,911.4 L1415.0,913.6 L1416.0,915.8 L1417.0,918.0 L1418.0,920.2 L1419.0,922.4 L1420.0,924.6 L1421.0,926.8 L1422.0,929.0 L1423.0,931.2 L1424.0,933.3 L1425.0,935.5 L1426.0,937.6 L1427.0,939.7 L1428.0,941.8 L1429.0,943.8 L1430.0,945.8 L1431.0,947.8 L1432.0,949.7 L1433.0,951.6 L1434.0,953.4 L1435.0,955.2 L1436.0,956.9 L1437.0,958.5 L1438.0,960.1 L1439.0,961.6 L1440.0,963.1 L1441.0,964.4 L1442.0,965.7 L1443.0,966.9 L1444.0,968.0 L1445.0,969.0 L1446.0,970.1 L1447.0,971.1 L1448.0,972.0 L1449.0,972.9 L1450.0,973.8 L1451.0,974.7 L1452.0,975.6 L1453.0,976.4 L1454.0,977.2 L1455.0,978.0 L1456.0,978.8 L1457.0,979.5 L1458.0,980.3 L1459.0,981.0 L1460.0,981.7 L1461.0,982.4 L1462.0,983.0 L1463.0,983.7 L1464.0,984.3 L1465.0,985.0 L1466.0,985.6 L1467.0,986.2 L1468.0,986.8 L1469.0,987.4 L1470.0,988.0 L1471.0,988.6 L1472.0,989.2 L1473.0,989.8 L1474.0,990.4 L1475.0,991.0 L1476.0,991.6 L1477.0,992.2 L1478.0,992.7 L1479.0,993.3 L1480.0,993.9 L1481.0,994.4 L1482.0,995.0 L1483.0,995.5 L1484.0,996.0 L1485.0,996.6 L1486.0,997.1 L1487.0,997.6 L1488.0,998.1 L1489.0,998.6 L1490.0,999.1 L1491.0,999.6 L1492.0,1000.1 L1493.0,1000.6 L1494.0,1001.1 L1495.0,1001.6 L1496.0,1002.0 L1497.0,1002.5 L1498.0,1003.0 L1499.0,1003.4 L1500.0,1003.9 L1501.0,1004.4 L1502.0,1004.8 L1503.0,1005.3 L1504.0,1005.7 L1505.0,1006.2 L1506.0,1006.6 L1507.0,1007.0 L1508.0,1007.5 L1509.0,1007.9 L1510.0,1008.3 L1511.0,1008.8 L1512.0,1009.2 L1513.0,1009.6 L1514.0,1010.0 L1515.0,1010.5 L1516.0,1010.9 L1517.0,1011.3 L1518.0,1011.7 L1519.0,1012.2 L1520.0,1012.6 L1521.0,1013.0 L1522.0,1013.4 L1523.0,1013.8 L1524.0,1014.2 L1525.0,1014.7 L1526.0,1015.1 L1527.0,1015.5 L1528.0,1015.9 L1529.0,1016.3 L1530.0,1016.6 L1531.0,1017.0 L1532.0,1017.4 L1533.0,1017.8 L1534.0,1018.2 L1535.0,1018.6 L1536.0,1019.0 L1537.0,1019.3 L1538.0,1019.7 L1539.0,1020.1 L1540.0,1020.4 L1541.0,1020.8 L1542.0,1021.2 L1543.0,1021.5 L1544.0,1021.9 L1545.0,1022.2 L1546.0,1022.6 L1547.0,1023.0 L1548.0,1023.3 L1549.0,1023.7 L1550.0,1024.0 L1551.0,1024.3 L1552.0,1024.7 L1553.0,1025.0 L1554.0,1025.4 L1555.0,1025.7 L1556.0,1026.0 L1557.0,1026.4 L1558.0,1026.7 L1559.0,1027.0 L1560.0,1027.3 L1561.0,1027.7 L1562.0,1028.0 L1563.0,1028.3 L1564.0,1028.6 L1565.0,1028.9 L1566.0,1029.2 L1567.0,1029.6 L1568.0,1029.9 L1569.0,1030.2 L1570.0,1030.5 L1571.0,1030.8 L1572.0,1031.1 L1573.0,1031.4 L1574.0,1031.7 L1575.0,1032.0 L1576.0,1032.3 L1577.0,1032.6 L1578.0,1032.9 L1579.0,1033.2 L1580.0,1033.5 L1581.0,1033.8 L1582.0,1034.1 L1583.0,1034.4 L1584.0,1034.7 L1585.0,1035.0 L1586.0,1035.3 L1587.0,1035.5 L1588.0,1035.8 L1589.0,1036.1 L1590.0,1036.4 L1591.0,1036.7 L1592.0,1037.0 L1593.0,1037.3 L1594.0,1037.5 L1595.0,1037.8 L1596.0,1038.1 L1597.0,1038.4 L1598.0,1038.6 L1599.0,1038.9 L1600.0,1039.2" fill="none" stroke="#28286e" stroke-width="3"/>
<polygon points="1124.0,169.7 1143.2,204.2 1104.8,204.2" fill="#fff" stroke="#5e5ea0" stroke-width="2.2" stroke-linejoin="miter"/>
<polygon points="1150.0,182.0 1169.2,216.5 1130.8,216.5" fill="#fff" stroke="#5e5ea0" stroke-width="2.2" stroke-linejoin="miter"/>
<polygon points="1176.0,226.0 1195.2,260.5 1156.8,260.5" fill="#fff" stroke="#5e5ea0" stroke-width="2.2" stroke-linejoin="miter"/>
<polygon points="1202.0,286.0 1221.2,320.5 1182.8,320.5" fill="#fff" stroke="#5e5ea0" stroke-width="2.2" stroke-linejoin="miter"/>
<polygon points="1228.0,337.8 1247.2,372.3 1208.8,372.3" fill="#fff" stroke="#5e5ea0" stroke-width="2.2" stroke-linejoin="miter"/>
<polygon points="1254.0,404.4 1273.2,438.9 1234.8,438.9" fill="#fff" stroke="#5e5ea0" stroke-width="2.2" stroke-linejoin="miter"/>
<polygon points="1280.0,486.0 1299.2,520.5 1260.8,520.5" fill="#fff" stroke="#5e5ea0" stroke-width="2.2" stroke-linejoin="miter"/>
<polygon points="1306.0,587.4 1325.2,621.9 1286.8,621.9" fill="#fff" stroke="#5e5ea0" stroke-width="2.2" stroke-linejoin="miter"/>
<polygon points="1332.0,673.9 1351.2,708.4 1312.8,708.4" fill="#fff" stroke="#5e5ea0" stroke-width="2.2" stroke-linejoin="miter"/>
<polygon points="1358.0,749.2 1377.2,783.7 1338.8,783.7" fill="#fff" stroke="#5e5ea0" stroke-width="2.2" stroke-linejoin="miter"/>
<polygon points="1384.0,819.5 1403.2,854.0 1364.8,854.0" fill="#fff" stroke="#5e5ea0" stroke-width="2.2" stroke-linejoin="miter"/>
<polygon points="1410.0,879.9 1429.2,914.4 1390.8,914.4" fill="#fff" stroke="#5e5ea0" stroke-width="2.2" stroke-linejoin="miter"/>
<polygon points="1436.0,933.9 1455.2,968.4 1416.8,968.4" fill="#fff" stroke="#5e5ea0" stroke-width="2.2" stroke-linejoin="miter"/>
<polygon points="1462.0,960.0 1481.2,994.5 1442.8,994.5" fill="#fff" stroke="#5e5ea0" stroke-width="2.2" stroke-linejoin="miter"/>
<polygon points="1488.0,975.1 1507.2,1009.6 1468.8,1009.6" fill="#fff" stroke="#5e5ea0" stroke-width="2.2" stroke-linejoin="miter"/>
<polygon points="1514.0,987.0 1533.2,1021.5 1494.8,1021.5" fill="#fff" stroke="#5e5ea0" stroke-width="2.2" stroke-linejoin="miter"/>
<polygon points="1540.0,997.4 1559.2,1031.9 1520.8,1031.9" fill="#fff" stroke="#5e5ea0" stroke-width="2.2" stroke-linejoin="miter"/>
<polygon points="1566.0,1006.2 1585.2,1040.7 1546.8,1040.7" fill="#fff" stroke="#5e5ea0" stroke-width="2.2" stroke-linejoin="miter"/>
<polygon points="1592.0,1014.0 1611.2,1048.5 1572.8,1048.5" fill="#fff" stroke="#5e5ea0" stroke-width="2.2" stroke-linejoin="miter"/>
<path d="M250.0,181.5 L251.0,181.5 L252.0,181.5 L253.0,181.5 L254.0,181.5 L255.0,181.5 L256.0,181.5 L257.0,181.5 L258.0,181.5 L259.0,181.5 L260.0,181.5 L261.0,181.5 L262.0,181.5 L263.0,181.5 L264.0,181.5 L265.0,181.5 L266.0,181.5 L267.0,181.5 L268.0,181.5 L269.0,181.5 L270.0,181.6 L271.0,181.6 L272.0,181.6 L273.0,181.6 L274.0,181.6 L275.0,181.6 L276.0,181.6 L277.0,181.6 L278.0,181.6 L279.0,181.6 L280.0,181.6 L281.0,181.6 L282.0,181.6 L283.0,181.6 L284.0,181.6 L285.0,181.6 L286.0,181.6 L287.0,181.6 L288.0,181.6 L289.0,181.6 L290.0,181.6 L291.0,181.6 L292.0,181.6 L293.0,181.6 L294.0,181.6 L295.0,181.6 L296.0,181.6 L297.0,181.6 L298.0,181.6 L299.0,181.6 L300.0,181.6 L301.0,181.6 L302.0,181.6 L303.0,181.6 L304.0,181.6 L305.0,181.6 L306.0,181.6 L307.0,181.7 L308.0,181.7 L309.0,181.7 L310.0,181.7 L311.0,181.7 L312.0,181.7 L313.0,181.7 L314.0,181.7 L315.0,181.7 L316.0,181.7 L317.0,181.7 L318.0,181.7 L319.0,181.7 L320.0,181.7 L321.0,181.7 L322.0,181.7 L323.0,181.7 L324.0,181.7 L325.0,181.7 L326.0,181.7 L327.0,181.7 L328.0,181.7 L329.0,181.7 L330.0,181.7 L331.0,181.7 L332.0,181.7 L333.0,181.7 L334.0,181.7 L335.0,181.7 L336.0,181.7 L337.0,181.7 L338.0,181.7 L339.0,181.7 L340.0,181.7 L341.0,181.7 L342.0,181.7 L343.0,181.7 L344.0,181.8 L345.0,181.8 L346.0,181.8 L347.0,181.8 L348.0,181.8 L349.0,181.8 L350.0,181.8 L351.0,181.8 L352.0,181.8 L353.0,181.8 L354.0,181.8 L355.0,181.8 L356.0,181.8 L357.0,181.8 L358.0,181.8 L359.0,181.8 L360.0,181.8 L361.0,181.8 L362.0,181.8 L363.0,181.8 L364.0,181.8 L365.0,181.8 L366.0,181.8 L367.0,181.8 L368.0,181.8 L369.0,181.8 L370.0,181.8 L371.0,181.8 L372.0,181.8 L373.0,181.8 L374.0,181.8 L375.0,181.8 L376.0,181.8 L377.0,181.8 L378.0,181.8 L379.0,181.8 L380.0,181.9 L381.0,181.9 L382.0,181.9 L383.0,181.9 L384.0,181.9 L385.0,181.9 L386.0,181.9 L387.0,181.9 L388.0,181.9 L389.0,181.9 L390.0,181.9 L391.0,181.9 L392.0,181.9 L393.0,181.9 L394.0,181.9 L395.0,181.9 L396.0,181.9 L397.0,181.9 L398.0,181.9 L399.0,181.9 L400.0,181.9 L401.0,181.9 L402.0,181.9 L403.0,181.9 L404.0,181.9 L405.0,181.9 L406.0,181.9 L407.0,181.9 L408.0,181.9 L409.0,181.9 L410.0,181.9 L411.0,181.9 L412.0,181.9 L413.0,181.9 L414.0,181.9 L415.0,182.0 L416.0,182.0 L417.0,182.0 L418.0,182.0 L419.0,182.0 L420.0,182.0 L421.0,182.0 L422.0,182.0 L423.0,182.0 L424.0,182.0 L425.0,182.0 L426.0,182.0 L427.0,182.0 L428.0,182.0 L429.0,182.0 L430.0,182.0 L431.0,182.0 L432.0,182.0 L433.0,182.0 L434.0,182.0 L435.0,182.0 L436.0,182.0 L437.0,182.0 L438.0,182.0 L439.0,182.0 L440.0,182.0 L441.0,182.0 L442.0,182.0 L443.0,182.0 L444.0,182.0 L445.0,182.0 L446.0,182.0 L447.0,182.0 L448.0,182.0 L449.0,182.0 L450.0,182.1 L451.0,182.1 L452.0,182.1 L453.0,182.1 L454.0,182.1 L455.0,182.1 L456.0,182.1 L457.0,182.1 L458.0,182.1 L459.0,182.1 L460.0,182.1 L461.0,182.1 L462.0,182.1 L463.0,182.1 L464.0,182.1 L465.0,182.1 L466.0,182.1 L467.0,182.1 L468.0,182.1 L469.0,182.1 L470.0,182.1 L471.0,182.1 L472.0,182.1 L473.0,182.1 L474.0,182.1 L475.0,182.1 L476.0,182.1 L477.0,182.1 L478.0,182.1 L479.0,182.1 L480.0,182.1 L481.0,182.1 L482.0,182.1 L483.0,182.1 L484.0,182.2 L485.0,182.2 L486.0,182.2 L487.0,182.2 L488.0,182.2 L489.0,182.2 L490.0,182.2 L491.0,182.2 L492.0,182.2 L493.0,182.2 L494.0,182.2 L495.0,182.2 L496.0,182.2 L497.0,182.2 L498.0,182.2 L499.0,182.2 L500.0,182.2 L501.0,182.2 L502.0,182.2 L503.0,182.2 L504.0,182.2 L505.0,182.2 L506.0,182.2 L507.0,182.2 L508.0,182.2 L509.0,182.2 L510.0,182.2 L511.0,182.2 L512.0,182.2 L513.0,182.2 L514.0,182.2 L515.0,182.2 L516.0,182.2 L517.0,182.2 L518.0,182.3 L519.0,182.3 L520.0,182.3 L521.0,182.3 L522.0,182.3 L523.0,182.3 L524.0,182.3 L525.0,182.3 L526.0,182.3 L527.0,182.3 L528.0,182.3 L529.0,182.3 L530.0,182.3 L531.0,182.3 L532.0,182.3 L533.0,182.3 L534.0,182.3 L535.0,182.3 L536.0,182.3 L537.0,182.3 L538.0,182.3 L539.0,182.3 L540.0,182.3 L541.0,182.3 L542.0,182.3 L543.0,182.3 L544.0,182.3 L545.0,182.3 L546.0,182.3 L547.0,182.3 L548.0,182.3 L549.0,182.3 L550.0,182.3 L551.0,182.4 L552.0,182.4 L553.0,182.4 L554.0,182.4 L555.0,182.4 L556.0,182.4 L557.0,182.4 L558.0,182.4 L559.0,182.4 L560.0,182.4 L561.0,182.4 L562.0,182.4 L563.0,182.4 L564.0,182.4 L565.0,182.4 L566.0,182.4 L567.0,182.4 L568.0,182.4 L569.0,182.4 L570.0,182.4 L571.0,182.4 L572.0,182.4 L573.0,182.4 L574.0,182.4 L575.0,182.4 L576.0,182.4 L577.0,182.4 L578.0,182.4 L579.0,182.4 L580.0,182.4 L581.0,182.4 L582.0,182.4 L583.0,182.4 L584.0,182.5 L585.0,182.5 L586.0,182.5 L587.0,182.5 L588.0,182.5 L589.0,182.5 L590.0,182.5 L591.0,182.5 L592.0,182.5 L593.0,182.5 L594.0,182.5 L595.0,182.5 L596.0,182.5 L597.0,182.5 L598.0,182.5 L599.0,182.5 L600.0,182.5 L601.0,182.5 L602.0,182.5 L603.0,182.5 L604.0,182.5 L605.0,182.5 L606.0,182.5 L607.0,182.5 L608.0,182.5 L609.0,182.5 L610.0,182.5 L611.0,182.5 L612.0,182.5 L613.0,182.5 L614.0,182.5 L615.0,182.5 L616.0,182.5 L617.0,182.6 L618.0,182.6 L619.0,182.6 L620.0,182.6 L621.0,182.6 L622.0,182.6 L623.0,182.6 L624.0,182.6 L625.0,182.6 L626.0,182.6 L627.0,182.6 L628.0,182.6 L629.0,182.6 L630.0,182.6 L631.0,182.6 L632.0,182.6 L633.0,182.6 L634.0,182.6 L635.0,182.6 L636.0,182.6 L637.0,182.6 L638.0,182.6 L639.0,182.6 L640.0,182.6 L641.0,182.6 L642.0,182.6 L643.0,182.6 L644.0,182.6 L645.0,182.6 L646.0,182.6 L647.0,182.6 L648.0,182.6 L649.0,182.6 L650.0,182.6 L651.0,182.6 L652.0,182.6 L653.0,182.6 L654.0,182.6 L655.0,182.7 L656.0,182.7 L657.0,182.7 L658.0,182.7 L659.0,182.7 L660.0,182.7 L661.0,182.7 L662.0,182.7 L663.0,182.7 L664.0,182.7 L665.0,182.7 L666.0,182.7 L667.0,182.7 L668.0,182.7 L669.0,182.7 L670.0,182.7 L671.0,182.7 L672.0,182.7 L673.0,182.7 L674.0,182.7 L675.0,182.7 L676.0,182.7 L677.0,182.7 L678.0,182.7 L679.0,182.7 L680.0,182.7 L681.0,182.7 L682.0,182.7 L683.0,182.7 L684.0,182.7 L685.0,182.7 L686.0,182.7 L687.0,182.7 L688.0,182.7 L689.0,182.7 L690.0,182.7 L691.0,182.7 L692.0,182.7 L693.0,182.7 L694.0,182.7 L695.0,182.7 L696.0,182.8 L697.0,182.8 L698.0,182.8 L699.0,182.8 L700.0,182.8 L701.0,182.8 L702.0,182.8 L703.0,182.8 L704.0,182.8 L705.0,182.8 L706.0,182.8 L707.0,182.8 L708.0,182.8 L709.0,182.8 L710.0,182.8 L711.0,182.8 L712.0,182.8 L713.0,182.8 L714.0,182.8 L715.0,182.8 L716.0,182.8 L717.0,182.8 L718.0,182.8 L719.0,182.8 L720.0,182.8 L721.0,182.8 L722.0,182.8 L723.0,182.8 L724.0,182.8 L725.0,182.8 L726.0,182.8 L727.0,182.8 L728.0,182.8 L729.0,182.8 L730.0,182.8 L731.0,182.8 L732.0,182.8 L733.0,182.8 L734.0,182.8 L735.0,182.8 L736.0,182.8 L737.0,182.9 L738.0,182.9 L739.0,182.9 L740.0,182.9 L741.0,182.9 L742.0,182.9 L743.0,182.9 L744.0,182.9 L745.0,182.9 L746.0,182.9 L747.0,182.9 L748.0,182.9 L749.0,182.9 L750.0,182.9 L751.0,182.9 L752.0,182.9 L753.0,182.9 L754.0,182.9 L755.0,182.9 L756.0,182.9 L757.0,182.9 L758.0,182.9 L759.0,182.9 L760.0,182.9 L761.0,182.9 L762.0,182.9 L763.0,182.9 L764.0,182.9 L765.0,182.9 L766.0,182.9 L767.0,182.9 L768.0,182.9 L769.0,182.9 L770.0,182.9 L771.0,182.9 L772.0,182.9 L773.0,183.0 L774.0,183.0 L775.0,183.0 L776.0,183.0 L777.0,183.0 L778.0,183.0 L779.0,183.0 L780.0,183.0 L781.0,183.0 L782.0,183.0 L783.0,183.0 L784.0,183.0 L785.0,183.0 L786.0,183.0 L787.0,183.0 L788.0,183.0 L789.0,183.0 L790.0,183.0 L791.0,183.0 L792.0,183.0 L793.0,183.0 L794.0,183.0 L795.0,183.0 L796.0,183.0 L797.0,183.0 L798.0,183.0 L799.0,183.0 L800.0,183.0 L801.0,183.0 L802.0,183.0 L803.0,183.0 L804.0,183.1 L805.0,183.1 L806.0,183.1 L807.0,183.1 L808.0,183.1 L809.0,183.1 L810.0,183.1 L811.0,183.1 L812.0,183.1 L813.0,183.1 L814.0,183.1 L815.0,183.1 L816.0,183.1 L817.0,183.1 L818.0,183.1 L819.0,183.1 L820.0,183.1 L821.0,183.1 L822.0,183.1 L823.0,183.1 L824.0,183.1 L825.0,183.1 L826.0,183.1 L827.0,183.1 L828.0,183.1 L829.0,183.1 L830.0,183.1 L831.0,183.2 L832.0,183.2 L833.0,183.2 L834.0,183.2 L835.0,183.2 L836.0,183.2 L837.0,183.2 L838.0,183.2 L839.0,183.2 L840.0,183.2 L841.0,183.2 L842.0,183.2 L843.0,183.2 L844.0,183.2 L845.0,183.2 L846.0,183.2 L847.0,183.2 L848.0,183.2 L849.0,183.2 L850.0,183.2 L851.0,183.2 L852.0,183.2 L853.0,183.2 L854.0,183.3 L855.0,183.3 L856.0,183.3 L857.0,183.3 L858.0,183.3 L859.0,183.3 L860.0,183.3 L861.0,183.3 L862.0,183.3 L863.0,183.3 L864.0,183.3 L865.0,183.3 L866.0,183.3 L867.0,183.3 L868.0,183.3 L869.0,183.3 L870.0,183.3 L871.0,183.3 L872.0,183.3 L873.0,183.3 L874.0,183.4 L875.0,183.4 L876.0,183.4 L877.0,183.4 L878.0,183.4 L879.0,183.4 L880.0,183.4 L881.0,183.4 L882.0,183.4 L883.0,183.4 L884.0,183.4 L885.0,183.4 L886.0,183.4 L887.0,183.4 L888.0,183.4 L889.0,183.4 L890.0,183.4 L891.0,183.4 L892.0,183.5 L893.0,183.5 L894.0,183.5 L895.0,183.5 L896.0,183.5 L897.0,183.5 L898.0,183.5 L899.0,183.5 L900.0,183.5 L901.0,183.5 L902.0,183.5 L903.0,183.5 L904.0,183.5 L905.0,183.5 L906.0,183.5 L907.0,183.5 L908.0,183.6 L909.0,183.6 L910.0,183.6 L911.0,183.6 L912.0,183.6 L913.0,183.6 L914.0,183.6 L915.0,183.6 L916.0,183.6 L917.0,183.6 L918.0,183.6 L919.0,183.6 L920.0,183.7 L921.0,183.7 L922.0,183.7 L923.0,183.7 L924.0,183.7 L925.0,183.7 L926.0,183.7 L927.0,183.7 L928.0,183.7 L929.0,183.8 L930.0,183.8 L931.0,183.8 L932.0,183.8 L933.0,183.8 L934.0,183.8 L935.0,183.8 L936.0,183.8 L937.0,183.8 L938.0,183.9 L939.0,183.9 L940.0,183.9 L941.0,183.9 L942.0,183.9 L943.0,183.9 L944.0,183.9 L945.0,184.0 L946.0,184.0 L947.0,184.0 L948.0,184.0 L949.0,184.0 L950.0,184.0 L951.0,184.0 L952.0,184.1 L953.0,184.1 L954.0,184.1 L955.0,184.1 L956.0,184.1 L957.0,184.1 L958.0,184.1 L959.0,184.2 L960.0,184.2 L961.0,184.2 L962.0,184.2 L963.0,184.2 L964.0,184.3 L965.0,184.3 L966.0,184.3 L967.0,184.3 L968.0,184.3 L969.0,184.3 L970.0,184.4 L971.0,184.4 L972.0,184.4 L973.0,184.4 L974.0,184.4 L975.0,184.5 L976.0,184.5 L977.0,184.5 L978.0,184.5 L979.0,184.5 L980.0,184.6 L981.0,184.6 L982.0,184.6 L983.0,184.6 L984.0,184.6 L985.0,184.7 L986.0,184.7 L987.0,184.7 L988.0,184.7 L989.0,184.7 L990.0,184.8 L991.0,184.8 L992.0,184.8 L993.0,184.8 L994.0,184.9 L995.0,184.9 L996.0,184.9 L997.0,184.9 L998.0,185.0 L999.0,185.0 L1000.0,185.0 L1001.0,185.0 L1002.0,185.0 L1003.0,185.1 L1004.0,185.1 L1005.0,185.1 L1006.0,185.2 L1007.0,185.2 L1008.0,185.2 L1009.0,185.2 L1010.0,185.3 L1011.0,185.3 L1012.0,185.3 L1013.0,185.4 L1014.0,185.4 L1015.0,185.4 L1016.0,185.5 L1017.0,185.5 L1018.0,185.5 L1019.0,185.6 L1020.0,185.6 L1021.0,185.7 L1022.0,185.7 L1023.0,185.7 L1024.0,185.8 L1025.0,185.8 L1026.0,185.9 L1027.0,185.9 L1028.0,186.0 L1029.0,186.0 L1030.0,186.1 L1031.0,186.1 L1032.0,186.2 L1033.0,186.2 L1034.0,186.3 L1035.0,186.3 L1036.0,186.4 L1037.0,186.4 L1038.0,186.5 L1039.0,186.5 L1040.0,186.6 L1041.0,186.6 L1042.0,186.7 L1043.0,186.8 L1044.0,186.8 L1045.0,186.9 L1046.0,187.0 L1047.0,187.0 L1048.0,187.1 L1049.0,187.2 L1050.0,187.2 L1051.0,187.3 L1052.0,187.4 L1053.0,187.4 L1054.0,187.5 L1055.0,187.6 L1056.0,187.7 L1057.0,187.8 L1058.0,187.8 L1059.0,187.9 L1060.0,188.0 L1061.0,188.1 L1062.0,188.2 L1063.0,188.3 L1064.0,188.4 L1065.0,188.5 L1066.0,188.6 L1067.0,188.8 L1068.0,188.9 L1069.0,189.0 L1070.0,189.2 L1071.0,189.3 L1072.0,189.5 L1073.0,189.6 L1074.0,189.8 L1075.0,190.0 L1076.0,190.2 L1077.0,190.4 L1078.0,190.5 L1079.0,190.7 L1080.0,191.0 L1081.0,191.2 L1082.0,191.4 L1083.0,191.6 L1084.0,191.8 L1085.0,192.0 L1086.0,192.3 L1087.0,192.5 L1088.0,192.8 L1089.0,193.0 L1090.0,193.3 L1091.0,193.5 L1092.0,193.8 L1093.0,194.0 L1094.0,194.3 L1095.0,194.6 L1096.0,194.9 L1097.0,195.1 L1098.0,195.4 L1099.0,195.7 L1100.0,196.0 L1101.0,196.3 L1102.0,196.6 L1103.0,197.0 L1104.0,197.3 L1105.0,197.7 L1106.0,198.1 L1107.0,198.5 L1108.0,199.0 L1109.0,199.4 L1110.0,199.9 L1111.0,200.4 L1112.0,200.8 L1113.0,201.3 L1114.0,201.9 L1115.0,202.4 L1116.0,202.9 L1117.0,203.5 L1118.0,204.0 L1119.0,204.6 L1120.0,205.2 L1121.0,205.8 L1122.0,206.4 L1123.0,206.9 L1124.0,207.6 L1125.0,208.2 L1126.0,208.8 L1127.0,209.4 L1128.0,210.0 L1129.0,210.6 L1130.0,211.2 L1131.0,211.9 L1132.0,212.5 L1133.0,213.2 L1134.0,213.8 L1135.0,214.5 L1136.0,215.2 L1137.0,215.9 L1138.0,216.6 L1139.0,217.3 L1140.0,218.1 L1141.0,218.8 L1142.0,219.6 L1143.0,220.4 L1144.0,221.3 L1145.0,222.1 L1146.0,223.0 L1147.0,223.9 L1148.0,224.9 L1149.0,225.8 L1150.0,226.8 L1151.0,227.8 L1152.0,228.9 L1153.0,230.0 L1154.0,231.2 L1155.0,232.4 L1156.0,233.7 L1157.0,235.1 L1158.0,236.6 L1159.0,238.1 L1160.0,239.7 L1161.0,241.4 L1162.0,243.1 L1163.0,244.9 L1164.0,246.8 L1165.0,248.6 L1166.0,250.6 L1167.0,252.5 L1168.0,254.5 L1169.0,256.6 L1170.0,258.6 L1171.0,260.7 L1172.0,262.9 L1173.0,265.0 L1174.0,267.1 L1175.0,269.3 L1176.0,271.5 L1177.0,273.7 L1178.0,275.8 L1179.0,278.0 L1180.0,280.2 L1181.0,282.5 L1182.0,284.8 L1183.0,287.2 L1184.0,289.6 L1185.0,292.1 L1186.0,294.6 L1187.0,297.2 L1188.0,299.8 L1189.0,302.4 L1190.0,305.1 L1191.0,307.8 L1192.0,310.5 L1193.0,313.2 L1194.0,316.0 L1195.0,318.7 L1196.0,321.5 L1197.0,324.3 L1198.0,327.0 L1199.0,329.8 L1200.0,332.5 L1201.0,335.3 L1202.0,338.0 L1203.0,340.7 L1204.0,343.5 L1205.0,346.3 L1206.0,349.2 L1207.0,352.0 L1208.0,354.9 L1209.0,357.9 L1210.0,360.8 L1211.0,363.7 L1212.0,366.7 L1213.0,369.6 L1214.0,372.6 L1215.0,375.5 L1216.0,378.4 L1217.0,381.3 L1218.0,384.2 L1219.0,387.1 L1220.0,389.9 L1221.0,392.7 L1222.0,395.4 L1223.0,398.2 L1224.0,400.8 L1225.0,403.4 L1226.0,406.0 L1227.0,408.5 L1228.0,411.0 L1229.0,413.4 L1230.0,415.7 L1231.0,418.1 L1232.0,420.3 L1233.0,422.6 L1234.0,424.8 L1235.0,427.0 L1236.0,429.2 L1237.0,431.4 L1238.0,433.5 L1239.0,435.7 L1240.0,437.8 L1241.0,439.9 L1242.0,442.1 L1243.0,444.2 L1244.0,446.3 L1245.0,448.5 L1246.0,450.7 L1247.0,452.9 L1248.0,455.1 L1249.0,457.3 L1250.0,459.6 L1251.0,461.9 L1252.0,464.2 L1253.0,466.6 L1254.0,469.0 L1255.0,471.5 L1256.0,474.0 L1257.0,476.6 L1258.0,479.2 L1259.0,481.8 L1260.0,484.4 L1261.0,487.1 L1262.0,489.8 L1263.0,492.5 L1264.0,495.3 L1265.0,498.1 L1266.0,500.9 L1267.0,503.7 L1268.0,506.6 L1269.0,509.5 L1270.0,512.4 L1271.0,515.3 L1272.0,518.3 L1273.0,521.2 L1274.0,524.2 L1275.0,527.3 L1276.0,530.3 L1277.0,533.4 L1278.0,536.5 L1279.0,539.6 L1280.0,542.7 L1281.0,545.8 L1282.0,549.0 L1283.0,552.2 L1284.0,555.4 L1285.0,558.7 L1286.0,562.1 L1287.0,565.5 L1288.0,568.9 L1289.0,572.3 L1290.0,575.8 L1291.0,579.3 L1292.0,582.9 L1293.0,586.4 L1294.0,590.0 L1295.0,593.6 L1296.0,597.2 L1297.0,600.9 L1298.0,604.5 L1299.0,608.1 L1300.0,611.8 L1301.0,615.4 L1302.0,619.0 L1303.0,622.7 L1304.0,626.3 L1305.0,629.9 L1306.0,633.4 L1307.0,637.0 L1308.0,640.6 L1309.0,644.2 L1310.0,647.8 L1311.0,651.5 L1312.0,655.1 L1313.0,658.8 L1314.0,662.5 L1315.0,666.3 L1316.0,670.0 L1317.0,673.7 L1318.0,677.4 L1319.0,681.1 L1320.0,684.8 L1321.0,688.5 L1322.0,692.2 L1323.0,695.8 L1324.0,699.4 L1325.0,703.0 L1326.0,706.6 L1327.0,710.1 L1328.0,713.5 L1329.0,716.9 L1330.0,720.3 L1331.0,723.6 L1332.0,726.8 L1333.0,730.0 L1334.0,733.1 L1335.0,736.2 L1336.0,739.3 L1337.0,742.4 L1338.0,745.4 L1339.0,748.4 L1340.0,751.4 L1341.0,754.3 L1342.0,757.3 L1343.0,760.1 L1344.0,763.0 L1345.0,765.9 L1346.0,768.7 L1347.0,771.5 L1348.0,774.2 L1349.0,776.9 L1350.0,779.6 L1351.0,782.3 L1352.0,784.9 L1353.0,787.5 L1354.0,790.1 L1355.0,792.6 L1356.0,795.1 L1357.0,797.6 L1358.0,800.0 L1359.0,802.4 L1360.0,804.8 L1361.0,807.2 L1362.0,809.7 L1363.0,812.1 L1364.0,814.4 L1365.0,816.8 L1366.0,819.2 L1367.0,821.5 L1368.0,823.8 L1369.0,826.1 L1370.0,828.4 L1371.0,830.6 L1372.0,832.8 L1373.0,834.9 L1374.0,837.0 L1375.0,839.1 L1376.0,841.1 L1377.0,843.1 L1378.0,845.0 L1379.0,846.8 L1380.0,848.6 L1381.0,850.3 L1382.0,851.9 L1383.0,853.5 L1384.0,855.0 L1385.0,856.4 L1386.0,857.8 L1387.0,859.2 L1388.0,860.5 L1389.0,861.8 L1390.0,863.1 L1391.0,864.3 L1392.0,865.5 L1393.0,866.7 L1394.0,867.9 L1395.0,869.0 L1396.0,870.1 L1397.0,871.2 L1398.0,872.3 L1399.0,873.3 L1400.0,874.4 L1401.0,875.4 L1402.0,876.4 L1403.0,877.4 L1404.0,878.4 L1405.0,879.3 L1406.0,880.3 L1407.0,881.2 L1408.0,882.2 L1409.0,883.2 L1410.0,884.1 L1411.0,885.1 L1412.0,886.0 L1413.0,887.0 L1414.0,887.9 L1415.0,888.9 L1416.0,889.9 L1417.0,890.8 L1418.0,891.8 L1419.0,892.8 L1420.0,893.9 L1421.0,894.9 L1422.0,895.9 L1423.0,897.0 L1424.0,898.1 L1425.0,899.2 L1426.0,900.3 L1427.0,901.3 L1428.0,902.4 L1429.0,903.5 L1430.0,904.6 L1431.0,905.8 L1432.0,906.9 L1433.0,908.0 L1434.0,909.1 L1435.0,910.2 L1436.0,911.3 L1437.0,912.4 L1438.0,913.4 L1439.0,914.5 L1440.0,915.6 L1441.0,916.7 L1442.0,917.8 L1443.0,918.8 L1444.0,919.9 L1445.0,920.9 L1446.0,922.0 L1447.0,923.0 L1448.0,924.0 L1449.0,925.0 L1450.0,926.0 L1451.0,927.0 L1452.0,927.9 L1453.0,928.9 L1454.0,929.8 L1455.0,930.8 L1456.0,931.7 L1457.0,932.6 L1458.0,933.5 L1459.0,934.4 L1460.0,935.3 L1461.0,936.2 L1462.0,937.1 L1463.0,938.0 L1464.0,938.9 L1465.0,939.8 L1466.0,940.7 L1467.0,941.6 L1468.0,942.5 L1469.0,943.4 L1470.0,944.3 L1471.0,945.2 L1472.0,946.2 L1473.0,947.1 L1474.0,948.1 L1475.0,949.0 L1476.0,950.0 L1477.0,951.0 L1478.0,952.0 L1479.0,953.0 L1480.0,954.0 L1481.0,955.1 L1482.0,956.1 L1483.0,957.1 L1484.0,958.2 L1485.0,959.3 L1486.0,960.3 L1487.0,961.4 L1488.0,962.4 L1489.0,963.5 L1490.0,964.6 L1491.0,965.6 L1492.0,966.7 L1493.0,967.8 L1494.0,968.8 L1495.0,969.9 L1496.0,970.9 L1497.0,971.9 L1498.0,973.0 L1499.0,974.0 L1500.0,975.0 L1501.0,976.0 L1502.0,977.0 L1503.0,978.0 L1504.0,979.0 L1505.0,980.1 L1506.0,981.1 L1507.0,982.1 L1508.0,983.1 L1509.0,984.1 L1510.0,985.1 L1511.0,986.1 L1512.0,987.1 L1513.0,988.1 L1514.0,989.1 L1515.0,990.1 L1516.0,991.1 L1517.0,992.0 L1518.0,993.0 L1519.0,993.9 L1520.0,994.8 L1521.0,995.7 L1522.0,996.6 L1523.0,997.5 L1524.0,998.3 L1525.0,999.2 L1526.0,1000.0 L1527.0,1000.8 L1528.0,1001.6 L1529.0,1002.4 L1530.0,1003.2 L1531.0,1004.0 L1532.0,1004.7 L1533.0,1005.5 L1534.0,1006.3 L1535.0,1007.0 L1536.0,1007.8 L1537.0,1008.5 L1538.0,1009.3 L1539.0,1010.0 L1540.0,1010.7 L1541.0,1011.4 L1542.0,1012.1 L1543.0,1012.8 L1544.0,1013.4 L1545.0,1014.1 L1546.0,1014.8 L1547.0,1015.4 L1548.0,1016.0 L1549.0,1016.6 L1550.0,1017.2 L1551.0,1017.8 L1552.0,1018.4 L1553.0,1018.9 L1554.0,1019.5 L1555.0,1020.0 L1556.0,1020.5 L1557.0,1021.0 L1558.0,1021.5 L1559.0,1022.0 L1560.0,1022.5 L1561.0,1023.0 L1562.0,1023.5 L1563.0,1023.9 L1564.0,1024.4 L1565.0,1024.8 L1566.0,1025.3 L1567.0,1025.7 L1568.0,1026.1 L1569.0,1026.6 L1570.0,1027.0 L1571.0,1027.4 L1572.0,1027.8 L1573.0,1028.2 L1574.0,1028.6 L1575.0,1028.9 L1576.0,1029.3 L1577.0,1029.7 L1578.0,1030.0 L1579.0,1030.4 L1580.0,1030.7 L1581.0,1031.1 L1582.0,1031.4 L1583.0,1031.7 L1584.0,1032.0 L1585.0,1032.3 L1586.0,1032.6 L1587.0,1032.9 L1588.0,1033.2 L1589.0,1033.4 L1590.0,1033.7 L1591.0,1034.0 L1592.0,1034.2 L1593.0,1034.5 L1594.0,1034.7 L1595.0,1034.9 L1596.0,1035.2 L1597.0,1035.4 L1598.0,1035.6 L1599.0,1035.8 L1600.0,1036.0" fill="none" stroke="#2e7a36" stroke-width="3"/>
<polygon points="1102.4,219.8 1121.7,185.3 1083.2,185.3" fill="#fff" stroke="#6a9e6a" stroke-width="2.2" stroke-linejoin="miter"/>
<polygon points="1127.7,232.8 1147.0,198.3 1108.5,198.3" fill="#fff" stroke="#6a9e6a" stroke-width="2.2" stroke-linejoin="miter"/>
<polygon points="1153.0,253.0 1172.2,218.5 1133.8,218.5" fill="#fff" stroke="#6a9e6a" stroke-width="2.2" stroke-linejoin="miter"/>
<polygon points="1178.3,299.5 1197.5,265.0 1159.0,265.0" fill="#fff" stroke="#6a9e6a" stroke-width="2.2" stroke-linejoin="miter"/>
<polygon points="1203.6,365.4 1222.8,330.9 1184.3,330.9" fill="#fff" stroke="#6a9e6a" stroke-width="2.2" stroke-linejoin="miter"/>
<polygon points="1228.9,436.1 1248.2,401.6 1209.7,401.6" fill="#fff" stroke="#6a9e6a" stroke-width="2.2" stroke-linejoin="miter"/>
<polygon points="1254.2,492.5 1273.5,458.0 1235.0,458.0" fill="#fff" stroke="#6a9e6a" stroke-width="2.2" stroke-linejoin="miter"/>
<polygon points="1279.5,564.1 1298.8,529.6 1260.2,529.6" fill="#fff" stroke="#6a9e6a" stroke-width="2.2" stroke-linejoin="miter"/>
<polygon points="1304.8,652.1 1324.0,617.6 1285.5,617.6" fill="#fff" stroke="#6a9e6a" stroke-width="2.2" stroke-linejoin="miter"/>
<polygon points="1330.1,743.6 1349.3,709.1 1310.8,709.1" fill="#fff" stroke="#6a9e6a" stroke-width="2.2" stroke-linejoin="miter"/>
<polygon points="1355.4,816.6 1374.7,782.1 1336.2,782.1" fill="#fff" stroke="#6a9e6a" stroke-width="2.2" stroke-linejoin="miter"/>
<polygon points="1380.7,872.8 1400.0,838.3 1361.5,838.3" fill="#fff" stroke="#6a9e6a" stroke-width="2.2" stroke-linejoin="miter"/>
<polygon points="1406.0,903.3 1425.2,868.8 1386.8,868.8" fill="#fff" stroke="#6a9e6a" stroke-width="2.2" stroke-linejoin="miter"/>
<polygon points="1431.3,929.1 1450.5,894.6 1412.0,894.6" fill="#fff" stroke="#6a9e6a" stroke-width="2.2" stroke-linejoin="miter"/>
<polygon points="1456.6,955.2 1475.8,920.7 1437.3,920.7" fill="#fff" stroke="#6a9e6a" stroke-width="2.2" stroke-linejoin="miter"/>
<polygon points="1481.9,979.0 1501.2,944.5 1462.7,944.5" fill="#fff" stroke="#6a9e6a" stroke-width="2.2" stroke-linejoin="miter"/>
<polygon points="1507.2,1005.3 1526.5,970.8 1488.0,970.8" fill="#fff" stroke="#6a9e6a" stroke-width="2.2" stroke-linejoin="miter"/>
<polygon points="1532.5,1028.1 1551.8,993.6 1513.2,993.6" fill="#fff" stroke="#6a9e6a" stroke-width="2.2" stroke-linejoin="miter"/>
<polygon points="1557.8,1044.4 1577.0,1009.9 1538.5,1009.9" fill="#fff" stroke="#6a9e6a" stroke-width="2.2" stroke-linejoin="miter"/>
<polygon points="1583.1,1054.7 1602.3,1020.2 1563.8,1020.2" fill="#fff" stroke="#6a9e6a" stroke-width="2.2" stroke-linejoin="miter"/>
<path d="M250.0,180.0 L251.0,180.0 L252.0,180.0 L253.0,180.0 L254.0,180.0 L255.0,180.0 L256.0,180.0 L257.0,180.0 L258.0,180.0 L259.0,180.0 L260.0,180.0 L261.0,180.0 L262.0,180.0 L263.0,180.0 L264.0,180.0 L265.0,180.0 L266.0,180.0 L267.0,180.0 L268.0,180.0 L269.0,180.0 L270.0,180.1 L271.0,180.1 L272.0,180.1 L273.0,180.1 L274.0,180.1 L275.0,180.1 L276.0,180.1 L277.0,180.1 L278.0,180.1 L279.0,180.1 L280.0,180.1 L281.0,180.1 L282.0,180.1 L283.0,180.1 L284.0,180.1 L285.0,180.1 L286.0,180.1 L287.0,180.1 L288.0,180.1 L289.0,180.1 L290.0,180.1 L291.0,180.1 L292.0,180.1 L293.0,180.1 L294.0,180.1 L295.0,180.1 L296.0,180.1 L297.0,180.1 L298.0,180.1 L299.0,180.1 L300.0,180.1 L301.0,180.1 L302.0,180.1 L303.0,180.1 L304.0,180.1 L305.0,180.1 L306.0,180.1 L307.0,180.2 L308.0,180.2 L309.0,180.2 L310.0,180.2 L311.0,180.2 L312.0,180.2 L313.0,180.2 L314.0,180.2 L315.0,180.2 L316.0,180.2 L317.0,180.2 L318.0,180.2 L319.0,180.2 L320.0,180.2 L321.0,180.2 L322.0,180.2 L323.0,180.2 L324.0,180.2 L325.0,180.2 L326.0,180.2 L327.0,180.2 L328.0,180.2 L329.0,180.2 L330.0,180.2 L331.0,180.2 L332.0,180.2 L333.0,180.2 L334.0,180.2 L335.0,180.2 L336.0,180.2 L337.0,180.2 L338.0,180.2 L339.0,180.2 L340.0,180.2 L341.0,180.2 L342.0,180.2 L343.0,180.2 L344.0,180.3 L345.0,180.3 L346.0,180.3 L347.0,180.3 L348.0,180.3 L349.0,180.3 L350.0,180.3 L351.0,180.3 L352.0,180.3 L353.0,180.3 L354.0,180.3 L355.0,180.3 L356.0,180.3 L357.0,180.3 L358.0,180.3 L359.0,180.3 L360.0,180.3 L361.0,180.3 L362.0,180.3 L363.0,180.3 L364.0,180.3 L365.0,180.3 L366.0,180.3 L367.0,180.3 L368.0,180.3 L369.0,180.3 L370.0,180.3 L371.0,180.3 L372.0,180.3 L373.0,180.3 L374.0,180.3 L375.0,180.3 L376.0,180.3 L377.0,180.3 L378.0,180.3 L379.0,180.3 L380.0,180.4 L381.0,180.4 L382.0,180.4 L383.0,180.4 L384.0,180.4 L385.0,180.4 L386.0,180.4 L387.0,180.4 L388.0,180.4 L389.0,180.4 L390.0,180.4 L391.0,180.4 L392.0,180.4 L393.0,180.4 L394.0,180.4 L395.0,180.4 L396.0,180.4 L397.0,180.4 L398.0,180.4 L399.0,180.4 L400.0,180.4 L401.0,180.4 L402.0,180.4 L403.0,180.4 L404.0,180.4 L405.0,180.4 L406.0,180.4 L407.0,180.4 L408.0,180.4 L409.0,180.4 L410.0,180.4 L411.0,180.4 L412.0,180.4 L413.0,180.4 L414.0,180.4 L415.0,180.5 L416.0,180.5 L417.0,180.5 L418.0,180.5 L419.0,180.5 L420.0,180.5 L421.0,180.5 L422.0,180.5 L423.0,180.5 L424.0,180.5 L425.0,180.5 L426.0,180.5 L427.0,180.5 L428.0,180.5 L429.0,180.5 L430.0,180.5 L431.0,180.5 L432.0,180.5 L433.0,180.5 L434.0,180.5 L435.0,180.5 L436.0,180.5 L437.0,180.5 L438.0,180.5 L439.0,180.5 L440.0,180.5 L441.0,180.5 L442.0,180.5 L443.0,180.5 L444.0,180.5 L445.0,180.5 L446.0,180.5 L447.0,180.5 L448.0,180.5 L449.0,180.5 L450.0,180.6 L451.0,180.6 L452.0,180.6 L453.0,180.6 L454.0,180.6 L455.0,180.6 L456.0,180.6 L457.0,180.6 L458.0,180.6 L459.0,180.6 L460.0,180.6 L461.0,180.6 L462.0,180.6 L463.0,180.6 L464.0,180.6 L465.0,180.6 L466.0,180.6 L467.0,180.6 L468.0,180.6 L469.0,180.6 L470.0,180.6 L471.0,180.6 L472.0,180.6 L473.0,180.6 L474.0,180.6 L475.0,180.6 L476.0,180.6 L477.0,180.6 L478.0,180.6 L479.0,180.6 L480.0,180.6 L481.0,180.6 L482.0,180.6 L483.0,180.6 L484.0,180.7 L485.0,180.7 L486.0,180.7 L487.0,180.7 L488.0,180.7 L489.0,180.7 L490.0,180.7 L491.0,180.7 L492.0,180.7 L493.0,180.7 L494.0,180.7 L495.0,180.7 L496.0,180.7 L497.0,180.7 L498.0,180.7 L499.0,180.7 L500.0,180.7 L501.0,180.7 L502.0,180.7 L503.0,180.7 L504.0,180.7 L505.0,180.7 L506.0,180.7 L507.0,180.7 L508.0,180.7 L509.0,180.7 L510.0,180.7 L511.0,180.7 L512.0,180.7 L513.0,180.7 L514.0,180.7 L515.0,180.7 L516.0,180.7 L517.0,180.7 L518.0,180.8 L519.0,180.8 L520.0,180.8 L521.0,180.8 L522.0,180.8 L523.0,180.8 L524.0,180.8 L525.0,180.8 L526.0,180.8 L527.0,180.8 L528.0,180.8 L529.0,180.8 L530.0,180.8 L531.0,180.8 L532.0,180.8 L533.0,180.8 L534.0,180.8 L535.0,180.8 L536.0,180.8 L537.0,180.8 L538.0,180.8 L539.0,180.8 L540.0,180.8 L541.0,180.8 L542.0,180.8 L543.0,180.8 L544.0,180.8 L545.0,180.8 L546.0,180.8 L547.0,180.8 L548.0,180.8 L549.0,180.8 L550.0,180.8 L551.0,180.9 L552.0,180.9 L553.0,180.9 L554.0,180.9 L555.0,180.9 L556.0,180.9 L557.0,180.9 L558.0,180.9 L559.0,180.9 L560.0,180.9 L561.0,180.9 L562.0,180.9 L563.0,180.9 L564.0,180.9 L565.0,180.9 L566.0,180.9 L567.0,180.9 L568.0,180.9 L569.0,180.9 L570.0,180.9 L571.0,180.9 L572.0,180.9 L573.0,180.9 L574.0,180.9 L575.0,180.9 L576.0,180.9 L577.0,180.9 L578.0,180.9 L579.0,180.9 L580.0,180.9 L581.0,180.9 L582.0,180.9 L583.0,180.9 L584.0,181.0 L585.0,181.0 L586.0,181.0 L587.0,181.0 L588.0,181.0 L589.0,181.0 L590.0,181.0 L591.0,181.0 L592.0,181.0 L593.0,181.0 L594.0,181.0 L595.0,181.0 L596.0,181.0 L597.0,181.0 L598.0,181.0 L599.0,181.0 L600.0,181.0 L601.0,181.0 L602.0,181.0 L603.0,181.0 L604.0,181.0 L605.0,181.0 L606.0,181.0 L607.0,181.0 L608.0,181.0 L609.0,181.0 L610.0,181.0 L611.0,181.0 L612.0,181.0 L613.0,181.0 L614.0,181.0 L615.0,181.0 L616.0,181.0 L617.0,181.1 L618.0,181.1 L619.0,181.1 L620.0,181.1 L621.0,181.1 L622.0,181.1 L623.0,181.1 L624.0,181.1 L625.0,181.1 L626.0,181.1 L627.0,181.1 L628.0,181.1 L629.0,181.1 L630.0,181.1 L631.0,181.1 L632.0,181.1 L633.0,181.1 L634.0,181.1 L635.0,181.1 L636.0,181.1 L637.0,181.1 L638.0,181.1 L639.0,181.1 L640.0,181.1 L641.0,181.1 L642.0,181.1 L643.0,181.1 L644.0,181.1 L645.0,181.1 L646.0,181.1 L647.0,181.1 L648.0,181.1 L649.0,181.1 L650.0,181.1 L651.0,181.1 L652.0,181.1 L653.0,181.2 L654.0,181.2 L655.0,181.2 L656.0,181.2 L657.0,181.2 L658.0,181.2 L659.0,181.2 L660.0,181.2 L661.0,181.2 L662.0,181.2 L663.0,181.2 L664.0,181.2 L665.0,181.2 L666.0,181.2 L667.0,181.2 L668.0,181.2 L669.0,181.2 L670.0,181.2 L671.0,181.2 L672.0,181.2 L673.0,181.2 L674.0,181.2 L675.0,181.2 L676.0,181.2 L677.0,181.2 L678.0,181.2 L679.0,181.2 L680.0,181.2 L681.0,181.2 L682.0,181.2 L683.0,181.2 L684.0,181.2 L685.0,181.2 L686.0,181.2 L687.0,181.2 L688.0,181.2 L689.0,181.2 L690.0,181.2 L691.0,181.3 L692.0,181.3 L693.0,181.3 L694.0,181.3 L695.0,181.3 L696.0,181.3 L697.0,181.3 L698.0,181.3 L699.0,181.3 L700.0,181.3 L701.0,181.3 L702.0,181.3 L703.0,181.3 L704.0,181.3 L705.0,181.3 L706.0,181.3 L707.0,181.3 L708.0,181.3 L709.0,181.3 L710.0,181.3 L711.0,181.3 L712.0,181.3 L713.0,181.3 L714.0,181.3 L715.0,181.3 L716.0,181.3 L717.0,181.3 L718.0,181.3 L719.0,181.3 L720.0,181.3 L721.0,181.3 L722.0,181.3 L723.0,181.3 L724.0,181.3 L725.0,181.3 L726.0,181.3 L727.0,181.3 L728.0,181.3 L729.0,181.4 L730.0,181.4 L731.0,181.4 L732.0,181.4 L733.0,181.4 L734.0,181.4 L735.0,181.4 L736.0,181.4 L737.0,181.4 L738.0,181.4 L739.0,181.4 L740.0,181.4 L741.0,181.4 L742.0,181.4 L743.0,181.4 L744.0,181.4 L745.0,181.4 L746.0,181.4 L747.0,181.4 L748.0,181.4 L749.0,181.4 L750.0,181.4 L751.0,181.4 L752.0,181.4 L753.0,181.4 L754.0,181.4 L755.0,181.4 L756.0,181.4 L757.0,181.4 L758.0,181.4 L759.0,181.4 L760.0,181.4 L761.0,181.4 L762.0,181.4 L763.0,181.4 L764.0,181.5 L765.0,181.5 L766.0,181.5 L767.0,181.5 L768.0,181.5 L769.0,181.5 L770.0,181.5 L771.0,181.5 L772.0,181.5 L773.0,181.5 L774.0,181.5 L775.0,181.5 L776.0,181.5 L777.0,181.5 L778.0,181.5 L779.0,181.5 L780.0,181.5 L781.0,181.5 L782.0,181.5 L783.0,181.5 L784.0,181.5 L785.0,181.5 L786.0,181.5 L787.0,181.5 L788.0,181.5 L789.0,181.5 L790.0,181.5 L791.0,181.5 L792.0,181.5 L793.0,181.5 L794.0,181.5 L795.0,181.5 L796.0,181.6 L797.0,181.6 L798.0,181.6 L799.0,181.6 L800.0,181.6 L801.0,181.6 L802.0,181.6 L803.0,181.6 L804.0,181.6 L805.0,181.6 L806.0,181.6 L807.0,181.6 L808.0,181.6 L809.0,181.6 L810.0,181.6 L811.0,181.6 L812.0,181.6 L813.0,181.6 L814.0,181.6 L815.0,181.6 L816.0,181.6 L817.0,181.6 L818.0,181.6 L819.0,181.6 L820.0,181.6 L821.0,181.6 L822.0,181.6 L823.0,181.6 L824.0,181.7 L825.0,181.7 L826.0,181.7 L827.0,181.7 L828.0,181.7 L829.0,181.7 L830.0,181.7 L831.0,181.7 L832.0,181.7 L833.0,181.7 L834.0,181.7 L835.0,181.7 L836.0,181.7 L837.0,181.7 L838.0,181.7 L839.0,181.7 L840.0,181.7 L841.0,181.7 L842.0,181.7 L843.0,181.7 L844.0,181.7 L845.0,181.7 L846.0,181.7 L847.0,181.7 L848.0,181.7 L849.0,181.8 L850.0,181.8 L851.0,181.8 L852.0,181.8 L853.0,181.8 L854.0,181.8 L855.0,181.8 L856.0,181.8 L857.0,181.8 L858.0,181.8 L859.0,181.8 L860.0,181.8 L861.0,181.8 L862.0,181.8 L863.0,181.8 L864.0,181.8 L865.0,181.8 L866.0,181.8 L867.0,181.8 L868.0,181.8 L869.0,181.8 L870.0,181.8 L871.0,181.9 L872.0,181.9 L873.0,181.9 L874.0,181.9 L875.0,181.9 L876.0,181.9 L877.0,181.9 L878.0,181.9 L879.0,181.9 L880.0,181.9 L881.0,181.9 L882.0,181.9 L883.0,181.9 L884.0,181.9 L885.0,181.9 L886.0,181.9 L887.0,181.9 L888.0,181.9 L889.0,181.9 L890.0,181.9 L891.0,182.0 L892.0,182.0 L893.0,182.0 L894.0,182.0 L895.0,182.0 L896.0,182.0 L897.0,182.0 L898.0,182.0 L899.0,182.0 L900.0,182.0 L901.0,182.0 L902.0,182.0 L903.0,182.0 L904.0,182.0 L905.0,182.0 L906.0,182.0 L907.0,182.0 L908.0,182.0 L909.0,182.1 L910.0,182.1 L911.0,182.1 L912.0,182.1 L913.0,182.1 L914.0,182.1 L915.0,182.1 L916.0,182.1 L917.0,182.1 L918.0,182.1 L919.0,182.1 L920.0,182.1 L921.0,182.2 L922.0,182.2 L923.0,182.2 L924.0,182.2 L925.0,182.2 L926.0,182.2 L927.0,182.2 L928.0,182.2 L929.0,182.2 L930.0,182.2 L931.0,182.2 L932.0,182.3 L933.0,182.3 L934.0,182.3 L935.0,182.3 L936.0,182.3 L937.0,182.3 L938.0,182.3 L939.0,182.3 L940.0,182.3 L941.0,182.4 L942.0,182.4 L943.0,182.4 L944.0,182.4 L945.0,182.4 L946.0,182.4 L947.0,182.4 L948.0,182.4 L949.0,182.4 L950.0,182.5 L951.0,182.5 L952.0,182.5 L953.0,182.5 L954.0,182.5 L955.0,182.5 L956.0,182.5 L957.0,182.5 L958.0,182.5 L959.0,182.6 L960.0,182.6 L961.0,182.6 L962.0,182.6 L963.0,182.6 L964.0,182.6 L965.0,182.6 L966.0,182.6 L967.0,182.7 L968.0,182.7 L969.0,182.7 L970.0,182.7 L971.0,182.7 L972.0,182.7 L973.0,182.7 L974.0,182.7 L975.0,182.7 L976.0,182.8 L977.0,182.8 L978.0,182.8 L979.0,182.8 L980.0,182.8 L981.0,182.8 L982.0,182.8 L983.0,182.8 L984.0,182.8 L985.0,182.9 L986.0,182.9 L987.0,182.9 L988.0,182.9 L989.0,182.9 L990.0,182.9 L991.0,182.9 L992.0,182.9 L993.0,182.9 L994.0,182.9 L995.0,183.0 L996.0,183.0 L997.0,183.0 L998.0,183.0 L999.0,183.0 L1000.0,183.0 L1001.0,183.0 L1002.0,183.0 L1003.0,183.0 L1004.0,183.0 L1005.0,183.0 L1006.0,183.1 L1007.0,183.1 L1008.0,183.1 L1009.0,183.1 L1010.0,183.1 L1011.0,183.1 L1012.0,183.1 L1013.0,183.1 L1014.0,183.1 L1015.0,183.1 L1016.0,183.1 L1017.0,183.1 L1018.0,183.1 L1019.0,183.2 L1020.0,183.2 L1021.0,183.2 L1022.0,183.2 L1023.0,183.2 L1024.0,183.2 L1025.0,183.2 L1026.0,183.2 L1027.0,183.2 L1028.0,183.2 L1029.0,183.2 L1030.0,183.2 L1031.0,183.2 L1032.0,183.3 L1033.0,183.3 L1034.0,183.3 L1035.0,183.3 L1036.0,183.3 L1037.0,183.3 L1038.0,183.3 L1039.0,183.3 L1040.0,183.3 L1041.0,183.3 L1042.0,183.3 L1043.0,183.3 L1044.0,183.4 L1045.0,183.4 L1046.0,183.4 L1047.0,183.4 L1048.0,183.4 L1049.0,183.4 L1050.0,183.4 L1051.0,183.4 L1052.0,183.4 L1053.0,183.4 L1054.0,183.4 L1055.0,183.5 L1056.0,183.5 L1057.0,183.5 L1058.0,183.5 L1059.0,183.5 L1060.0,183.5 L1061.0,183.5 L1062.0,183.5 L1063.0,183.5 L1064.0,183.5 L1065.0,183.6 L1066.0,183.6 L1067.0,183.6 L1068.0,183.6 L1069.0,183.6 L1070.0,183.6 L1071.0,183.6 L1072.0,183.6 L1073.0,183.6 L1074.0,183.6 L1075.0,183.7 L1076.0,183.7 L1077.0,183.7 L1078.0,183.7 L1079.0,183.7 L1080.0,183.7 L1081.0,183.7 L1082.0,183.7 L1083.0,183.7 L1084.0,183.8 L1085.0,183.8 L1086.0,183.8 L1087.0,183.8 L1088.0,183.8 L1089.0,183.8 L1090.0,183.8 L1091.0,183.9 L1092.0,183.9 L1093.0,183.9 L1094.0,183.9 L1095.0,183.9 L1096.0,183.9 L1097.0,183.9 L1098.0,184.0 L1099.0,184.0 L1100.0,184.0 L1101.0,184.0 L1102.0,184.0 L1103.0,184.1 L1104.0,184.1 L1105.0,184.1 L1106.0,184.1 L1107.0,184.2 L1108.0,184.2 L1109.0,184.2 L1110.0,184.2 L1111.0,184.3 L1112.0,184.3 L1113.0,184.3 L1114.0,184.4 L1115.0,184.4 L1116.0,184.4 L1117.0,184.5 L1118.0,184.5 L1119.0,184.5 L1120.0,184.6 L1121.0,184.6 L1122.0,184.6 L1123.0,184.7 L1124.0,184.7 L1125.0,184.8 L1126.0,184.8 L1127.0,184.9 L1128.0,184.9 L1129.0,185.0 L1130.0,185.0 L1131.0,185.0 L1132.0,185.1 L1133.0,185.1 L1134.0,185.2 L1135.0,185.2 L1136.0,185.3 L1137.0,185.3 L1138.0,185.4 L1139.0,185.5 L1140.0,185.5 L1141.0,185.6 L1142.0,185.7 L1143.0,185.8 L1144.0,185.8 L1145.0,185.9 L1146.0,186.0 L1147.0,186.2 L1148.0,186.3 L1149.0,186.4 L1150.0,186.6 L1151.0,186.7 L1152.0,186.9 L1153.0,187.1 L1154.0,187.5 L1155.0,188.2 L1156.0,189.2 L1157.0,190.3 L1158.0,191.7 L1159.0,193.1 L1160.0,194.7 L1161.0,196.4 L1162.0,198.1 L1163.0,199.8 L1164.0,201.4 L1165.0,203.0 L1166.0,204.6 L1167.0,206.3 L1168.0,208.1 L1169.0,209.9 L1170.0,211.8 L1171.0,213.8 L1172.0,215.8 L1173.0,217.8 L1174.0,219.8 L1175.0,221.8 L1176.0,223.7 L1177.0,225.6 L1178.0,227.5 L1179.0,229.2 L1180.0,231.0 L1181.0,232.7 L1182.0,234.4 L1183.0,236.1 L1184.0,237.7 L1185.0,239.4 L1186.0,241.0 L1187.0,242.6 L1188.0,244.2 L1189.0,245.8 L1190.0,247.4 L1191.0,249.0 L1192.0,250.6 L1193.0,252.2 L1194.0,253.8 L1195.0,255.4 L1196.0,257.1 L1197.0,258.7 L1198.0,260.4 L1199.0,262.0 L1200.0,263.7 L1201.0,265.4 L1202.0,267.2 L1203.0,268.9 L1204.0,270.7 L1205.0,272.5 L1206.0,274.4 L1207.0,276.2 L1208.0,278.1 L1209.0,280.0 L1210.0,281.9 L1211.0,283.9 L1212.0,285.8 L1213.0,287.8 L1214.0,289.8 L1215.0,291.8 L1216.0,293.8 L1217.0,295.8 L1218.0,297.9 L1219.0,299.9 L1220.0,302.0 L1221.0,304.0 L1222.0,306.1 L1223.0,308.1 L1224.0,310.2 L1225.0,312.3 L1226.0,314.3 L1227.0,316.4 L1228.0,318.5 L1229.0,320.5 L1230.0,322.6 L1231.0,324.6 L1232.0,326.7 L1233.0,328.7 L1234.0,330.8 L1235.0,332.8 L1236.0,334.9 L1237.0,336.9 L1238.0,339.0 L1239.0,341.1 L1240.0,343.1 L1241.0,345.2 L1242.0,347.3 L1243.0,349.4 L1244.0,351.5 L1245.0,353.7 L1246.0,355.8 L1247.0,358.0 L1248.0,360.2 L1249.0,362.4 L1250.0,364.7 L1251.0,366.9 L1252.0,369.2 L1253.0,371.5 L1254.0,373.9 L1255.0,376.3 L1256.0,378.7 L1257.0,381.1 L1258.0,383.5 L1259.0,386.0 L1260.0,388.5 L1261.0,391.0 L1262.0,393.6 L1263.0,396.2 L1264.0,398.8 L1265.0,401.4 L1266.0,404.0 L1267.0,406.7 L1268.0,409.4 L1269.0,412.1 L1270.0,414.8 L1271.0,417.6 L1272.0,420.3 L1273.0,423.1 L1274.0,426.0 L1275.0,428.8 L1276.0,431.7 L1277.0,434.5 L1278.0,437.5 L1279.0,440.4 L1280.0,443.3 L1281.0,446.3 L1282.0,449.3 L1283.0,452.3 L1284.0,455.3 L1285.0,458.3 L1286.0,461.3 L1287.0,464.4 L1288.0,467.4 L1289.0,470.5 L1290.0,473.6 L1291.0,476.8 L1292.0,479.9 L1293.0,483.1 L1294.0,486.3 L1295.0,489.6 L1296.0,492.9 L1297.0,496.2 L1298.0,499.6 L1299.0,503.0 L1300.0,506.4 L1301.0,509.9 L1302.0,513.5 L1303.0,517.1 L1304.0,520.7 L1305.0,524.4 L1306.0,528.1 L1307.0,531.9 L1308.0,535.8 L1309.0,539.7 L1310.0,543.7 L1311.0,547.9 L1312.0,552.3 L1313.0,556.8 L1314.0,561.5 L1315.0,566.3 L1316.0,571.3 L1317.0,576.3 L1318.0,581.4 L1319.0,586.6 L1320.0,591.9 L1321.0,597.1 L1322.0,602.4 L1323.0,607.7 L1324.0,613.0 L1325.0,618.2 L1326.0,623.4 L1327.0,628.5 L1328.0,633.6 L1329.0,638.5 L1330.0,643.4 L1331.0,648.0 L1332.0,652.6 L1333.0,657.0 L1334.0,661.2 L1335.0,665.2 L1336.0,669.1 L1337.0,672.9 L1338.0,676.6 L1339.0,680.3 L1340.0,683.8 L1341.0,687.4 L1342.0,690.8 L1343.0,694.2 L1344.0,697.6 L1345.0,700.9 L1346.0,704.2 L1347.0,707.4 L1348.0,710.6 L1349.0,713.8 L1350.0,716.9 L1351.0,720.1 L1352.0,723.2 L1353.0,726.3 L1354.0,729.5 L1355.0,732.6 L1356.0,735.7 L1357.0,738.9 L1358.0,742.0 L1359.0,745.2 L1360.0,748.5 L1361.0,751.7 L1362.0,755.0 L1363.0,758.3 L1364.0,761.8 L1365.0,765.2 L1366.0,768.7 L1367.0,772.3 L1368.0,775.9 L1369.0,779.5 L1370.0,783.1 L1371.0,786.7 L1372.0,790.2 L1373.0,793.8 L1374.0,797.3 L1375.0,800.8 L1376.0,804.3 L1377.0,807.7 L1378.0,811.0 L1379.0,814.2 L1380.0,817.4 L1381.0,820.5 L1382.0,823.4 L1383.0,826.3 L1384.0,829.0 L1385.0,831.6 L1386.0,834.0 L1387.0,836.3 L1388.0,838.6 L1389.0,840.8 L1390.0,843.0 L1391.0,845.1 L1392.0,847.2 L1393.0,849.2 L1394.0,851.2 L1395.0,853.2 L1396.0,855.1 L1397.0,856.9 L1398.0,858.8 L1399.0,860.5 L1400.0,862.3 L1401.0,864.0 L1402.0,865.7 L1403.0,867.4 L1404.0,869.0 L1405.0,870.7 L1406.0,872.3 L1407.0,873.8 L1408.0,875.4 L1409.0,876.9 L1410.0,878.5 L1411.0,880.0 L1412.0,881.5 L1413.0,883.0 L1414.0,884.5 L1415.0,885.9 L1416.0,887.3 L1417.0,888.7 L1418.0,890.1 L1419.0,891.5 L1420.0,892.8 L1421.0,894.1 L1422.0,895.4 L1423.0,896.7 L1424.0,898.0 L1425.0,899.3 L1426.0,900.5 L1427.0,901.7 L1428.0,902.9 L1429.0,904.1 L1430.0,905.3 L1431.0,906.5 L1432.0,907.6 L1433.0,908.8 L1434.0,909.9 L1435.0,911.0 L1436.0,912.1 L1437.0,913.2 L1438.0,914.2 L1439.0,915.3 L1440.0,916.3 L1441.0,917.3 L1442.0,918.3 L1443.0,919.3 L1444.0,920.3 L1445.0,921.3 L1446.0,922.3 L1447.0,923.2 L1448.0,924.1 L1449.0,925.1 L1450.0,926.0 L1451.0,926.9 L1452.0,927.8 L1453.0,928.7 L1454.0,929.7 L1455.0,930.5 L1456.0,931.4 L1457.0,932.3 L1458.0,933.2 L1459.0,934.1 L1460.0,935.0 L1461.0,935.9 L1462.0,936.8 L1463.0,937.6 L1464.0,938.5 L1465.0,939.3 L1466.0,940.2 L1467.0,941.0 L1468.0,941.9 L1469.0,942.7 L1470.0,943.5 L1471.0,944.4 L1472.0,945.2 L1473.0,946.0 L1474.0,946.8 L1475.0,947.6 L1476.0,948.4 L1477.0,949.2 L1478.0,950.0 L1479.0,950.8 L1480.0,951.6 L1481.0,952.4 L1482.0,953.2 L1483.0,954.0 L1484.0,954.8 L1485.0,955.6 L1486.0,956.4 L1487.0,957.2 L1488.0,958.0 L1489.0,958.8 L1490.0,959.6 L1491.0,960.4 L1492.0,961.2 L1493.0,962.0 L1494.0,962.8 L1495.0,963.6 L1496.0,964.4 L1497.0,965.1 L1498.0,965.9 L1499.0,966.7 L1500.0,967.5 L1501.0,968.3 L1502.0,969.1 L1503.0,969.8 L1504.0,970.6 L1505.0,971.4 L1506.0,972.1 L1507.0,972.9 L1508.0,973.6 L1509.0,974.4 L1510.0,975.1 L1511.0,975.8 L1512.0,976.6 L1513.0,977.3 L1514.0,978.0 L1515.0,978.7 L1516.0,979.4 L1517.0,980.1 L1518.0,980.8 L1519.0,981.5 L1520.0,982.1 L1521.0,982.8 L1522.0,983.5 L1523.0,984.1 L1524.0,984.8 L1525.0,985.5 L1526.0,986.1 L1527.0,986.8 L1528.0,987.4 L1529.0,988.1 L1530.0,988.7 L1531.0,989.3 L1532.0,990.0 L1533.0,990.6 L1534.0,991.2 L1535.0,991.9 L1536.0,992.5 L1537.0,993.1 L1538.0,993.7 L1539.0,994.4 L1540.0,995.0 L1541.0,995.6 L1542.0,996.3 L1543.0,996.9 L1544.0,997.5 L1545.0,998.2 L1546.0,998.8 L1547.0,999.4 L1548.0,1000.1 L1549.0,1000.7 L1550.0,1001.3 L1551.0,1002.0 L1552.0,1002.6 L1553.0,1003.2 L1554.0,1003.8 L1555.0,1004.4 L1556.0,1005.0 L1557.0,1005.6 L1558.0,1006.2 L1559.0,1006.8 L1560.0,1007.3 L1561.0,1007.9 L1562.0,1008.4 L1563.0,1009.0 L1564.0,1009.5 L1565.0,1010.0 L1566.0,1010.5 L1567.0,1011.0 L1568.0,1011.5 L1569.0,1012.0 L1570.0,1012.5 L1571.0,1012.9 L1572.0,1013.4 L1573.0,1013.9 L1574.0,1014.4 L1575.0,1014.8 L1576.0,1015.3 L1577.0,1015.7 L1578.0,1016.2 L1579.0,1016.6 L1580.0,1017.1 L1581.0,1017.5 L1582.0,1017.9 L1583.0,1018.4 L1584.0,1018.8 L1585.0,1019.2 L1586.0,1019.6 L1587.0,1020.0 L1588.0,1020.4 L1589.0,1020.8 L1590.0,1021.2 L1591.0,1021.6 L1592.0,1021.9 L1593.0,1022.3 L1594.0,1022.6 L1595.0,1023.0 L1596.0,1023.3 L1597.0,1023.7 L1598.0,1024.0" fill="none" stroke="#bc4640" stroke-width="3"/>
<ellipse cx="1101.5" cy="184.0" rx="15.2" ry="16.0" fill="#fff" stroke="#c46e68" stroke-width="2.2"/>
<ellipse cx="1127.1" cy="184.9" rx="15.2" ry="16.0" fill="#fff" stroke="#c46e68" stroke-width="2.2"/>
<ellipse cx="1152.7" cy="187.0" rx="15.2" ry="16.0" fill="#fff" stroke="#c46e68" stroke-width="2.2"/>
<ellipse cx="1178.3" cy="228.0" rx="15.2" ry="16.0" fill="#fff" stroke="#c46e68" stroke-width="2.2"/>
<ellipse cx="1203.9" cy="270.5" rx="15.2" ry="16.0" fill="#fff" stroke="#c46e68" stroke-width="2.2"/>
<ellipse cx="1229.5" cy="321.6" rx="15.2" ry="16.0" fill="#fff" stroke="#c46e68" stroke-width="2.2"/>
<ellipse cx="1255.1" cy="376.5" rx="15.2" ry="16.0" fill="#fff" stroke="#c46e68" stroke-width="2.2"/>
<ellipse cx="1280.7" cy="445.4" rx="15.2" ry="16.0" fill="#fff" stroke="#c46e68" stroke-width="2.2"/>
<ellipse cx="1306.3" cy="529.3" rx="15.2" ry="16.0" fill="#fff" stroke="#c46e68" stroke-width="2.2"/>
<ellipse cx="1331.9" cy="652.1" rx="15.2" ry="16.0" fill="#fff" stroke="#c46e68" stroke-width="2.2"/>
<ellipse cx="1357.5" cy="740.5" rx="15.2" ry="16.0" fill="#fff" stroke="#c46e68" stroke-width="2.2"/>
<ellipse cx="1383.1" cy="826.5" rx="15.2" ry="16.0" fill="#fff" stroke="#c46e68" stroke-width="2.2"/>
<ellipse cx="1408.7" cy="876.5" rx="15.2" ry="16.0" fill="#fff" stroke="#c46e68" stroke-width="2.2"/>
<ellipse cx="1434.3" cy="910.2" rx="15.2" ry="16.0" fill="#fff" stroke="#c46e68" stroke-width="2.2"/>
<ellipse cx="1459.9" cy="934.9" rx="15.2" ry="16.0" fill="#fff" stroke="#c46e68" stroke-width="2.2"/>
<ellipse cx="1485.5" cy="956.0" rx="15.2" ry="16.0" fill="#fff" stroke="#c46e68" stroke-width="2.2"/>
<ellipse cx="1511.1" cy="975.9" rx="15.2" ry="16.0" fill="#fff" stroke="#c46e68" stroke-width="2.2"/>
<ellipse cx="1536.7" cy="992.9" rx="15.2" ry="16.0" fill="#fff" stroke="#c46e68" stroke-width="2.2"/>
<ellipse cx="1562.3" cy="1008.6" rx="15.2" ry="16.0" fill="#fff" stroke="#c46e68" stroke-width="2.2"/>
<ellipse cx="1587.9" cy="1020.4" rx="15.2" ry="16.0" fill="#fff" stroke="#c46e68" stroke-width="2.2"/>
<path d="M250.0,165.5 L251.0,165.5 L252.0,165.5 L253.0,165.5 L254.0,165.5 L255.0,165.6 L256.0,165.6 L257.0,165.6 L258.0,165.6 L259.0,165.6 L260.0,165.6 L261.0,165.6 L262.0,165.6 L263.0,165.7 L264.0,165.7 L265.0,165.7 L266.0,165.7 L267.0,165.7 L268.0,165.7 L269.0,165.7 L270.0,165.7 L271.0,165.7 L272.0,165.8 L273.0,165.8 L274.0,165.8 L275.0,165.8 L276.0,165.8 L277.0,165.8 L278.0,165.8 L279.0,165.8 L280.0,165.8 L281.0,165.9 L282.0,165.9 L283.0,165.9 L284.0,165.9 L285.0,165.9 L286.0,165.9 L287.0,165.9 L288.0,165.9 L289.0,165.9 L290.0,165.9 L291.0,165.9 L292.0,165.9 L293.0,166.0 L294.0,166.0 L295.0,166.0 L296.0,166.0 L297.0,166.0 L298.0,166.0 L299.0,166.0 L300.0,166.0 L301.0,166.0 L302.0,166.0 L303.0,166.0 L304.0,166.0 L305.0,166.0 L306.0,166.0 L307.0,166.0 L308.0,166.0 L309.0,166.0 L310.0,166.0 L311.0,166.1 L312.0,166.1 L313.0,166.1 L314.0,166.1 L315.0,166.1 L316.0,166.1 L317.0,166.1 L318.0,166.1 L319.0,166.1 L320.0,166.1 L321.0,166.1 L322.0,166.1 L323.0,166.1 L324.0,166.1 L325.0,166.1 L326.0,166.1 L327.0,166.1 L328.0,166.1 L329.0,166.1 L330.0,166.1 L331.0,166.1 L332.0,166.1 L333.0,166.1 L334.0,166.1 L335.0,166.1 L336.0,166.1 L337.0,166.1 L338.0,166.2 L339.0,166.2 L340.0,166.2 L341.0,166.2 L342.0,166.2 L343.0,166.2 L344.0,166.2 L345.0,166.2 L346.0,166.2 L347.0,166.2 L348.0,166.2 L349.0,166.2 L350.0,166.2 L351.0,166.2 L352.0,166.2 L353.0,166.2 L354.0,166.2 L355.0,166.2 L356.0,166.2 L357.0,166.2 L358.0,166.2 L359.0,166.2 L360.0,166.2 L361.0,166.2 L362.0,166.2 L363.0,166.2 L364.0,166.2 L365.0,166.2 L366.0,166.2 L367.0,166.2 L368.0,166.2 L369.0,166.2 L370.0,166.2 L371.0,166.2 L372.0,166.2 L373.0,166.2 L374.0,166.2 L375.0,166.2 L376.0,166.2 L377.0,166.2 L378.0,166.2 L379.0,166.2 L380.0,166.2 L381.0,166.3 L382.0,166.3 L383.0,166.3 L384.0,166.3 L385.0,166.3 L386.0,166.3 L387.0,166.3 L388.0,166.3 L389.0,166.3 L390.0,166.3 L391.0,166.3 L392.0,166.3 L393.0,166.3 L394.0,166.3 L395.0,166.3 L396.0,166.3 L397.0,166.3 L398.0,166.3 L399.0,166.3 L400.0,166.3 L401.0,166.3 L402.0,166.3 L403.0,166.3 L404.0,166.3 L405.0,166.3 L406.0,166.3 L407.0,166.3 L408.0,166.3 L409.0,166.3 L410.0,166.3 L411.0,166.3 L412.0,166.3 L413.0,166.3 L414.0,166.3 L415.0,166.3 L416.0,166.3 L417.0,166.3 L418.0,166.3 L419.0,166.3 L420.0,166.3 L421.0,166.3 L422.0,166.3 L423.0,166.3 L424.0,166.4 L425.0,166.4 L426.0,166.4 L427.0,166.4 L428.0,166.4 L429.0,166.4 L430.0,166.4 L431.0,166.4 L432.0,166.4 L433.0,166.4 L434.0,166.4 L435.0,166.4 L436.0,166.4 L437.0,166.4 L438.0,166.4 L439.0,166.4 L440.0,166.4 L441.0,166.4 L442.0,166.4 L443.0,166.4 L444.0,166.4 L445.0,166.4 L446.0,166.4 L447.0,166.4 L448.0,166.4 L449.0,166.4 L450.0,166.5 L451.0,166.5 L452.0,166.5 L453.0,166.5 L454.0,166.5 L455.0,166.5 L456.0,166.5 L457.0,166.5 L458.0,166.5 L459.0,166.5 L460.0,166.5 L461.0,166.5 L462.0,166.5 L463.0,166.5 L464.0,166.5 L465.0,166.5 L466.0,166.5 L467.0,166.5 L468.0,166.6 L469.0,166.6 L470.0,166.6 L471.0,166.6 L472.0,166.6 L473.0,166.6 L474.0,166.6 L475.0,166.6 L476.0,166.6 L477.0,166.6 L478.0,166.7 L479.0,166.7 L480.0,166.7 L481.0,166.7 L482.0,166.7 L483.0,166.7 L484.0,166.7 L485.0,166.8 L486.0,166.8 L487.0,166.8 L488.0,166.8 L489.0,166.8 L490.0,166.8 L491.0,166.9 L492.0,166.9 L493.0,166.9 L494.0,166.9 L495.0,166.9 L496.0,166.9 L497.0,167.0 L498.0,167.0 L499.0,167.0 L500.0,167.0 L501.0,167.0 L502.0,167.1 L503.0,167.1 L504.0,167.1 L505.0,167.1 L506.0,167.1 L507.0,167.2 L508.0,167.2 L509.0,167.2 L510.0,167.2 L511.0,167.2 L512.0,167.3 L513.0,167.3 L514.0,167.3 L515.0,167.3 L516.0,167.4 L517.0,167.4 L518.0,167.4 L519.0,167.4 L520.0,167.4 L521.0,167.5 L522.0,167.5 L523.0,167.5 L524.0,167.5 L525.0,167.6 L526.0,167.6 L527.0,167.6 L528.0,167.6 L529.0,167.7 L530.0,167.7 L531.0,167.7 L532.0,167.7 L533.0,167.8 L534.0,167.8 L535.0,167.8 L536.0,167.9 L537.0,167.9 L538.0,167.9 L539.0,167.9 L540.0,168.0 L541.0,168.0 L542.0,168.0 L543.0,168.0 L544.0,168.1 L545.0,168.1 L546.0,168.1 L547.0,168.2 L548.0,168.2 L549.0,168.2 L550.0,168.2 L551.0,168.3 L552.0,168.3 L553.0,168.3 L554.0,168.4 L555.0,168.4 L556.0,168.4 L557.0,168.4 L558.0,168.5 L559.0,168.5 L560.0,168.5 L561.0,168.6 L562.0,168.6 L563.0,168.6 L564.0,168.6 L565.0,168.7 L566.0,168.7 L567.0,168.7 L568.0,168.8 L569.0,168.8 L570.0,168.8 L571.0,168.8 L572.0,168.9 L573.0,168.9 L574.0,168.9 L575.0,169.0 L576.0,169.0 L577.0,169.0 L578.0,169.0 L579.0,169.1 L580.0,169.1 L581.0,169.1 L582.0,169.2 L583.0,169.2 L584.0,169.2 L585.0,169.3 L586.0,169.3 L587.0,169.3 L588.0,169.3 L589.0,169.4 L590.0,169.4 L591.0,169.4 L592.0,169.5 L593.0,169.5 L594.0,169.5 L595.0,169.5 L596.0,169.6 L597.0,169.6 L598.0,169.6 L599.0,169.6 L600.0,169.7 L601.0,169.7 L602.0,169.7 L603.0,169.8 L604.0,169.8 L605.0,169.8 L606.0,169.8 L607.0,169.9 L608.0,169.9 L609.0,169.9 L610.0,169.9 L611.0,170.0 L612.0,170.0 L613.0,170.0 L614.0,170.0 L615.0,170.1 L616.0,170.1 L617.0,170.1 L618.0,170.2 L619.0,170.2 L620.0,170.2 L621.0,170.2 L622.0,170.2 L623.0,170.3 L624.0,170.3 L625.0,170.3 L626.0,170.3 L627.0,170.4 L628.0,170.4 L629.0,170.4 L630.0,170.4 L631.0,170.5 L632.0,170.5 L633.0,170.5 L634.0,170.5 L635.0,170.5 L636.0,170.6 L637.0,170.6 L638.0,170.6 L639.0,170.6 L640.0,170.7 L641.0,170.7 L642.0,170.7 L643.0,170.7 L644.0,170.7 L645.0,170.7 L646.0,170.8 L647.0,170.8 L648.0,170.8 L649.0,170.8 L650.0,170.8 L651.0,170.9 L652.0,170.9 L653.0,170.9 L654.0,170.9 L655.0,170.9 L656.0,170.9 L657.0,171.0 L658.0,171.0 L659.0,171.0 L660.0,171.0 L661.0,171.0 L662.0,171.0 L663.0,171.0 L664.0,171.1 L665.0,171.1 L666.0,171.1 L667.0,171.1 L668.0,171.1 L669.0,171.1 L670.0,171.1 L671.0,171.1 L672.0,171.2 L673.0,171.2 L674.0,171.2 L675.0,171.2 L676.0,171.2 L677.0,171.2 L678.0,171.2 L679.0,171.2 L680.0,171.3 L681.0,171.3 L682.0,171.3 L683.0,171.3 L684.0,171.3 L685.0,171.3 L686.0,171.3 L687.0,171.3 L688.0,171.3 L689.0,171.4 L690.0,171.4 L691.0,171.4 L692.0,171.4 L693.0,171.4 L694.0,171.4 L695.0,171.4 L696.0,171.4 L697.0,171.4 L698.0,171.5 L699.0,171.5 L700.0,171.5 L701.0,171.5 L702.0,171.5 L703.0,171.5 L704.0,171.5 L705.0,171.5 L706.0,171.5 L707.0,171.5 L708.0,171.6 L709.0,171.6 L710.0,171.6 L711.0,171.6 L712.0,171.6 L713.0,171.6 L714.0,171.6 L715.0,171.6 L716.0,171.6 L717.0,171.6 L718.0,171.6 L719.0,171.6 L720.0,171.7 L721.0,171.7 L722.0,171.7 L723.0,171.7 L724.0,171.7 L725.0,171.7 L726.0,171.7 L727.0,171.7 L728.0,171.7 L729.0,171.7 L730.0,171.7 L731.0,171.7 L732.0,171.8 L733.0,171.8 L734.0,171.8 L735.0,171.8 L736.0,171.8 L737.0,171.8 L738.0,171.8 L739.0,171.8 L740.0,171.8 L741.0,171.8 L742.0,171.8 L743.0,171.8 L744.0,171.9 L745.0,171.9 L746.0,171.9 L747.0,171.9 L748.0,171.9 L749.0,171.9 L750.0,171.9 L751.0,171.9 L752.0,171.9 L753.0,171.9 L754.0,171.9 L755.0,171.9 L756.0,172.0 L757.0,172.0 L758.0,172.0 L759.0,172.0 L760.0,172.0 L761.0,172.0 L762.0,172.0 L763.0,172.0 L764.0,172.0 L765.0,172.0 L766.0,172.0 L767.0,172.0 L768.0,172.0 L769.0,172.1 L770.0,172.1 L771.0,172.1 L772.0,172.1 L773.0,172.1 L774.0,172.1 L775.0,172.1 L776.0,172.1 L777.0,172.1 L778.0,172.1 L779.0,172.1 L780.0,172.2 L781.0,172.2 L782.0,172.2 L783.0,172.2 L784.0,172.2 L785.0,172.2 L786.0,172.2 L787.0,172.2 L788.0,172.2 L789.0,172.2 L790.0,172.2 L791.0,172.3 L792.0,172.3 L793.0,172.3 L794.0,172.3 L795.0,172.3 L796.0,172.3 L797.0,172.3 L798.0,172.3 L799.0,172.3 L800.0,172.3 L801.0,172.4 L802.0,172.4 L803.0,172.4 L804.0,172.4 L805.0,172.4 L806.0,172.4 L807.0,172.4 L808.0,172.4 L809.0,172.4 L810.0,172.4 L811.0,172.5 L812.0,172.5 L813.0,172.5 L814.0,172.5 L815.0,172.5 L816.0,172.5 L817.0,172.5 L818.0,172.5 L819.0,172.6 L820.0,172.6 L821.0,172.6 L822.0,172.6 L823.0,172.6 L824.0,172.6 L825.0,172.6 L826.0,172.6 L827.0,172.7 L828.0,172.7 L829.0,172.7 L830.0,172.7 L831.0,172.7 L832.0,172.7 L833.0,172.7 L834.0,172.8 L835.0,172.8 L836.0,172.8 L837.0,172.8 L838.0,172.8 L839.0,172.8 L840.0,172.8 L841.0,172.9 L842.0,172.9 L843.0,172.9 L844.0,172.9 L845.0,172.9 L846.0,172.9 L847.0,173.0 L848.0,173.0 L849.0,173.0 L850.0,173.0 L851.0,173.0 L852.0,173.0 L853.0,173.1 L854.0,173.1 L855.0,173.1 L856.0,173.1 L857.0,173.1 L858.0,173.2 L859.0,173.2 L860.0,173.2 L861.0,173.2 L862.0,173.2 L863.0,173.3 L864.0,173.3 L865.0,173.3 L866.0,173.3 L867.0,173.4 L868.0,173.4 L869.0,173.4 L870.0,173.4 L871.0,173.5 L872.0,173.5 L873.0,173.5 L874.0,173.5 L875.0,173.6 L876.0,173.6 L877.0,173.6 L878.0,173.7 L879.0,173.7 L880.0,173.7 L881.0,173.8 L882.0,173.8 L883.0,173.8 L884.0,173.8 L885.0,173.9 L886.0,173.9 L887.0,173.9 L888.0,174.0 L889.0,174.0 L890.0,174.0 L891.0,174.1 L892.0,174.1 L893.0,174.1 L894.0,174.2 L895.0,174.2 L896.0,174.2 L897.0,174.3 L898.0,174.3 L899.0,174.3 L900.0,174.4 L901.0,174.4 L902.0,174.5 L903.0,174.5 L904.0,174.5 L905.0,174.6 L906.0,174.6 L907.0,174.6 L908.0,174.7 L909.0,174.7 L910.0,174.7 L911.0,174.8 L912.0,174.8 L913.0,174.8 L914.0,174.9 L915.0,174.9 L916.0,175.0 L917.0,175.0 L918.0,175.0 L919.0,175.1 L920.0,175.1 L921.0,175.1 L922.0,175.2 L923.0,175.2 L924.0,175.3 L925.0,175.3 L926.0,175.3 L927.0,175.4 L928.0,175.4 L929.0,175.4 L930.0,175.5 L931.0,175.5 L932.0,175.5 L933.0,175.6 L934.0,175.6 L935.0,175.7 L936.0,175.7 L937.0,175.7 L938.0,175.8 L939.0,175.8 L940.0,175.8 L941.0,175.9 L942.0,175.9 L943.0,175.9 L944.0,176.0 L945.0,176.0 L946.0,176.0 L947.0,176.1 L948.0,176.1 L949.0,176.1 L950.0,176.2 L951.0,176.2 L952.0,176.2 L953.0,176.3 L954.0,176.3 L955.0,176.3 L956.0,176.3 L957.0,176.4 L958.0,176.4 L959.0,176.4 L960.0,176.5 L961.0,176.5 L962.0,176.5 L963.0,176.6 L964.0,176.6 L965.0,176.6 L966.0,176.6 L967.0,176.7 L968.0,176.7 L969.0,176.7 L970.0,176.8 L971.0,176.8 L972.0,176.8 L973.0,176.9 L974.0,176.9 L975.0,176.9 L976.0,177.0 L977.0,177.0 L978.0,177.0 L979.0,177.1 L980.0,177.1 L981.0,177.1 L982.0,177.2 L983.0,177.2 L984.0,177.3 L985.0,177.3 L986.0,177.3 L987.0,177.4 L988.0,177.4 L989.0,177.5 L990.0,177.5 L991.0,177.5 L992.0,177.6 L993.0,177.6 L994.0,177.7 L995.0,177.7 L996.0,177.8 L997.0,177.8 L998.0,177.9 L999.0,177.9 L1000.0,178.0 L1001.0,178.1 L1002.0,178.1 L1003.0,178.2 L1004.0,178.3 L1005.0,178.3 L1006.0,178.4 L1007.0,178.5 L1008.0,178.6 L1009.0,178.6 L1010.0,178.7 L1011.0,178.8 L1012.0,178.9 L1013.0,179.0 L1014.0,179.1 L1015.0,179.2 L1016.0,179.3 L1017.0,179.5 L1018.0,179.6 L1019.0,179.7 L1020.0,179.8 L1021.0,180.0 L1022.0,180.1 L1023.0,180.2 L1024.0,180.4 L1025.0,180.6 L1026.0,180.7 L1027.0,180.9 L1028.0,181.1 L1029.0,181.3 L1030.0,181.6 L1031.0,181.8 L1032.0,182.0 L1033.0,182.3 L1034.0,182.5 L1035.0,182.7 L1036.0,183.0 L1037.0,183.3 L1038.0,183.5 L1039.0,183.8 L1040.0,184.1 L1041.0,184.3 L1042.0,184.6 L1043.0,184.9 L1044.0,185.2 L1045.0,185.5 L1046.0,185.7 L1047.0,186.0 L1048.0,186.3 L1049.0,186.6 L1050.0,186.9 L1051.0,187.2 L1052.0,187.5 L1053.0,187.8 L1054.0,188.1 L1055.0,188.5 L1056.0,188.8 L1057.0,189.1 L1058.0,189.5 L1059.0,189.8 L1060.0,190.2 L1061.0,190.5 L1062.0,190.9 L1063.0,191.3 L1064.0,191.6 L1065.0,192.0 L1066.0,192.4 L1067.0,192.8 L1068.0,193.2 L1069.0,193.6 L1070.0,194.0 L1071.0,194.4 L1072.0,194.8 L1073.0,195.2 L1074.0,195.6 L1075.0,196.1 L1076.0,196.5 L1077.0,196.9 L1078.0,197.4 L1079.0,197.9 L1080.0,198.3 L1081.0,198.8 L1082.0,199.3 L1083.0,199.8 L1084.0,200.3 L1085.0,200.8 L1086.0,201.3 L1087.0,201.8 L1088.0,202.3 L1089.0,202.8 L1090.0,203.3 L1091.0,203.9 L1092.0,204.4 L1093.0,205.0 L1094.0,205.5 L1095.0,206.0 L1096.0,206.6 L1097.0,207.2 L1098.0,207.7 L1099.0,208.3 L1100.0,208.8 L1101.0,209.4 L1102.0,210.0 L1103.0,210.5 L1104.0,211.1 L1105.0,211.6 L1106.0,212.2 L1107.0,212.8 L1108.0,213.4 L1109.0,214.0 L1110.0,214.6 L1111.0,215.2 L1112.0,215.8 L1113.0,216.4 L1114.0,217.0 L1115.0,217.7 L1116.0,218.4 L1117.0,219.1 L1118.0,219.8 L1119.0,220.5 L1120.0,221.2 L1121.0,222.0 L1122.0,222.8 L1123.0,223.6 L1124.0,224.4 L1125.0,225.3 L1126.0,226.2 L1127.0,227.1 L1128.0,228.1 L1129.0,229.1 L1130.0,230.1 L1131.0,231.2 L1132.0,232.3 L1133.0,233.4 L1134.0,234.6 L1135.0,235.8 L1136.0,237.0 L1137.0,238.3 L1138.0,239.5 L1139.0,240.8 L1140.0,242.1 L1141.0,243.5 L1142.0,244.9 L1143.0,246.2 L1144.0,247.7 L1145.0,249.1 L1146.0,250.5 L1147.0,252.0 L1148.0,253.5 L1149.0,254.9 L1150.0,256.5 L1151.0,258.0 L1152.0,259.6 L1153.0,261.2 L1154.0,262.8 L1155.0,264.5 L1156.0,266.2 L1157.0,268.0 L1158.0,269.7 L1159.0,271.6 L1160.0,273.4 L1161.0,275.3 L1162.0,277.2 L1163.0,279.2 L1164.0,281.2 L1165.0,283.2 L1166.0,285.2 L1167.0,287.3 L1168.0,289.4 L1169.0,291.5 L1170.0,293.7 L1171.0,295.9 L1172.0,298.2 L1173.0,300.4 L1174.0,302.7 L1175.0,305.0 L1176.0,307.4 L1177.0,309.8 L1178.0,312.3 L1179.0,314.9 L1180.0,317.6 L1181.0,320.4 L1182.0,323.3 L1183.0,326.2 L1184.0,329.1 L1185.0,332.2 L1186.0,335.2 L1187.0,338.3 L1188.0,341.4 L1189.0,344.6 L1190.0,347.8 L1191.0,350.9 L1192.0,354.1 L1193.0,357.3 L1194.0,360.5 L1195.0,363.6 L1196.0,366.8 L1197.0,369.9 L1198.0,372.9 L1199.0,375.9 L1200.0,378.9 L1201.0,381.8 L1202.0,384.7 L1203.0,387.6 L1204.0,390.4 L1205.0,393.2 L1206.0,396.1 L1207.0,398.9 L1208.0,401.7 L1209.0,404.5 L1210.0,407.2 L1211.0,410.0 L1212.0,412.8 L1213.0,415.6 L1214.0,418.3 L1215.0,421.1 L1216.0,423.8 L1217.0,426.6 L1218.0,429.3 L1219.0,432.0 L1220.0,434.8 L1221.0,437.5 L1222.0,440.2 L1223.0,443.0 L1224.0,445.7 L1225.0,448.4 L1226.0,451.2 L1227.0,453.9 L1228.0,456.6 L1229.0,459.3 L1230.0,462.0 L1231.0,464.7 L1232.0,467.3 L1233.0,470.0 L1234.0,472.6 L1235.0,475.3 L1236.0,477.9 L1237.0,480.5 L1238.0,483.2 L1239.0,485.8 L1240.0,488.4 L1241.0,491.1 L1242.0,493.7 L1243.0,496.4 L1244.0,499.1 L1245.0,501.8 L1246.0,504.5 L1247.0,507.2 L1248.0,509.9 L1249.0,512.7 L1250.0,515.5 L1251.0,518.3 L1252.0,521.1 L1253.0,524.0 L1254.0,526.9 L1255.0,529.7 L1256.0,532.7 L1257.0,535.6 L1258.0,538.5 L1259.0,541.5 L1260.0,544.4 L1261.0,547.4 L1262.0,550.4 L1263.0,553.4 L1264.0,556.5 L1265.0,559.5 L1266.0,562.6 L1267.0,565.7 L1268.0,568.7 L1269.0,571.9 L1270.0,575.0 L1271.0,578.1 L1272.0,581.3 L1273.0,584.5 L1274.0,587.6 L1275.0,590.9 L1276.0,594.1 L1277.0,597.3 L1278.0,600.6 L1279.0,603.9 L1280.0,607.2 L1281.0,610.6 L1282.0,614.0 L1283.0,617.5 L1284.0,621.0 L1285.0,624.6 L1286.0,628.2 L1287.0,631.8 L1288.0,635.4 L1289.0,639.0 L1290.0,642.6 L1291.0,646.3 L1292.0,649.9 L1293.0,653.5 L1294.0,657.1 L1295.0,660.7 L1296.0,664.3 L1297.0,667.8 L1298.0,671.3 L1299.0,674.7 L1300.0,678.2 L1301.0,681.5 L1302.0,684.9 L1303.0,688.1 L1304.0,691.3 L1305.0,694.5 L1306.0,697.7 L1307.0,700.8 L1308.0,703.9 L1309.0,707.0 L1310.0,710.1 L1311.0,713.1 L1312.0,716.2 L1313.0,719.2 L1314.0,722.2 L1315.0,725.2 L1316.0,728.1 L1317.0,731.1 L1318.0,734.0 L1319.0,736.9 L1320.0,739.8 L1321.0,742.6 L1322.0,745.5 L1323.0,748.3 L1324.0,751.2 L1325.0,754.0 L1326.0,756.7 L1327.0,759.5 L1328.0,762.3 L1329.0,765.0 L1330.0,767.7 L1331.0,770.5 L1332.0,773.2 L1333.0,775.9 L1334.0,778.6 L1335.0,781.3 L1336.0,784.0 L1337.0,786.7 L1338.0,789.3 L1339.0,792.0 L1340.0,794.6 L1341.0,797.2 L1342.0,799.8 L1343.0,802.4 L1344.0,804.9 L1345.0,807.5 L1346.0,809.9 L1347.0,812.4 L1348.0,814.8 L1349.0,817.2 L1350.0,819.6 L1351.0,821.9 L1352.0,824.2 L1353.0,826.5 L1354.0,828.7 L1355.0,830.9 L1356.0,833.0 L1357.0,835.2 L1358.0,837.3 L1359.0,839.4 L1360.0,841.5 L1361.0,843.6 L1362.0,845.6 L1363.0,847.7 L1364.0,849.7 L1365.0,851.7 L1366.0,853.6 L1367.0,855.6 L1368.0,857.5 L1369.0,859.4 L1370.0,861.2 L1371.0,863.1 L1372.0,864.9 L1373.0,866.6 L1374.0,868.4 L1375.0,870.1 L1376.0,871.7 L1377.0,873.3 L1378.0,874.9 L1379.0,876.5 L1380.0,878.0 L1381.0,879.5 L1382.0,880.9 L1383.0,882.4 L1384.0,883.8 L1385.0,885.2 L1386.0,886.6 L1387.0,887.9 L1388.0,889.2 L1389.0,890.5 L1390.0,891.8 L1391.0,893.1 L1392.0,894.4 L1393.0,895.6 L1394.0,896.8 L1395.0,898.0 L1396.0,899.2 L1397.0,900.3 L1398.0,901.5 L1399.0,902.6 L1400.0,903.7 L1401.0,904.8 L1402.0,905.9 L1403.0,906.9 L1404.0,908.0 L1405.0,909.0 L1406.0,910.0 L1407.0,911.0 L1408.0,912.0 L1409.0,913.0 L1410.0,913.9 L1411.0,914.9 L1412.0,915.8 L1413.0,916.8 L1414.0,917.7 L1415.0,918.6 L1416.0,919.5 L1417.0,920.4 L1418.0,921.2 L1419.0,922.1 L1420.0,922.9 L1421.0,923.8 L1422.0,924.6 L1423.0,925.4 L1424.0,926.2 L1425.0,927.0 L1426.0,927.7 L1427.0,928.5 L1428.0,929.2 L1429.0,929.9 L1430.0,930.6 L1431.0,931.3 L1432.0,932.0 L1433.0,932.7 L1434.0,933.3 L1435.0,933.9 L1436.0,934.5 L1437.0,935.1 L1438.0,935.7 L1439.0,936.2 L1440.0,936.8 L1441.0,937.3 L1442.0,937.9 L1443.0,938.4 L1444.0,938.9 L1445.0,939.4 L1446.0,939.9 L1447.0,940.4 L1448.0,940.9 L1449.0,941.5 L1450.0,942.0 L1451.0,942.5 L1452.0,943.0 L1453.0,943.5 L1454.0,944.1 L1455.0,944.6 L1456.0,945.2 L1457.0,945.8 L1458.0,946.4 L1459.0,946.9 L1460.0,947.5 L1461.0,948.2 L1462.0,948.8 L1463.0,949.4 L1464.0,950.0 L1465.0,950.6 L1466.0,951.3 L1467.0,951.9 L1468.0,952.5 L1469.0,953.2 L1470.0,953.8 L1471.0,954.5 L1472.0,955.1 L1473.0,955.7 L1474.0,956.4 L1475.0,957.0 L1476.0,957.7 L1477.0,958.3 L1478.0,958.9 L1479.0,959.6 L1480.0,960.2 L1481.0,960.8 L1482.0,961.4 L1483.0,962.0 L1484.0,962.6 L1485.0,963.2 L1486.0,963.8 L1487.0,964.4 L1488.0,965.0 L1489.0,965.6 L1490.0,966.2 L1491.0,966.8 L1492.0,967.4 L1493.0,968.0 L1494.0,968.6 L1495.0,969.2 L1496.0,969.8 L1497.0,970.4 L1498.0,971.0 L1499.0,971.5 L1500.0,972.1 L1501.0,972.7 L1502.0,973.2 L1503.0,973.8 L1504.0,974.4 L1505.0,974.9 L1506.0,975.4 L1507.0,976.0 L1508.0,976.5 L1509.0,977.0 L1510.0,977.5 L1511.0,978.0 L1512.0,978.5 L1513.0,979.0 L1514.0,979.5 L1515.0,980.0 L1516.0,980.4 L1517.0,980.9 L1518.0,981.4 L1519.0,981.9 L1520.0,982.3 L1521.0,982.8 L1522.0,983.2 L1523.0,983.7 L1524.0,984.1 L1525.0,984.6 L1526.0,985.0 L1527.0,985.4 L1528.0,985.9 L1529.0,986.3 L1530.0,986.7 L1531.0,987.2 L1532.0,987.6 L1533.0,988.0 L1534.0,988.4 L1535.0,988.8 L1536.0,989.3 L1537.0,989.7 L1538.0,990.1 L1539.0,990.5 L1540.0,990.9 L1541.0,991.3 L1542.0,991.7 L1543.0,992.1 L1544.0,992.5 L1545.0,992.9 L1546.0,993.3 L1547.0,993.7 L1548.0,994.1 L1549.0,994.4 L1550.0,994.8 L1551.0,995.2 L1552.0,995.6 L1553.0,995.9 L1554.0,996.3 L1555.0,996.6 L1556.0,997.0 L1557.0,997.3 L1558.0,997.7 L1559.0,998.0 L1560.0,998.3 L1561.0,998.7 L1562.0,999.0 L1563.0,999.4 L1564.0,999.7 L1565.0,1000.0 L1566.0,1000.4 L1567.0,1000.7 L1568.0,1001.1 L1569.0,1001.4 L1570.0,1001.7 L1571.0,1002.1 L1572.0,1002.4 L1573.0,1002.7 L1574.0,1003.0 L1575.0,1003.3 L1576.0,1003.6 L1577.0,1003.9 L1578.0,1004.1 L1579.0,1004.4 L1580.0,1004.6 L1581.0,1004.8 L1582.0,1005.0 L1583.0,1005.2 L1584.0,1005.4 L1585.0,1005.5 L1586.0,1005.6 L1587.0,1005.7 L1588.0,1005.8 L1589.0,1005.9 L1590.0,1006.0" fill="none" stroke="#b83c8c" stroke-width="3"/>
<polygon points="253.7,145.2 271.7,165.5 253.7,185.8 235.7,165.5" fill="#fff" stroke="#c878b0" stroke-width="2.2" stroke-linejoin="miter"/>
<polygon points="279.3,145.5 297.3,165.8 279.3,186.1 261.3,165.8" fill="#fff" stroke="#c878b0" stroke-width="2.2" stroke-linejoin="miter"/>
<polygon points="304.9,145.7 322.9,166.0 304.9,186.3 286.9,166.0" fill="#fff" stroke="#c878b0" stroke-width="2.2" stroke-linejoin="miter"/>
<polygon points="330.5,145.8 348.5,166.1 330.5,186.4 312.5,166.1" fill="#fff" stroke="#c878b0" stroke-width="2.2" stroke-linejoin="miter"/>
<polygon points="356.1,145.9 374.1,166.2 356.1,186.5 338.1,166.2" fill="#fff" stroke="#c878b0" stroke-width="2.2" stroke-linejoin="miter"/>
<polygon points="381.7,146.0 399.7,166.3 381.7,186.6 363.7,166.3" fill="#fff" stroke="#c878b0" stroke-width="2.2" stroke-linejoin="miter"/>
<polygon points="407.3,146.0 425.3,166.3 407.3,186.6 389.3,166.3" fill="#fff" stroke="#c878b0" stroke-width="2.2" stroke-linejoin="miter"/>
<polygon points="432.9,146.1 450.9,166.4 432.9,186.7 414.9,166.4" fill="#fff" stroke="#c878b0" stroke-width="2.2" stroke-linejoin="miter"/>
<polygon points="458.5,146.2 476.5,166.5 458.5,186.8 440.5,166.5" fill="#fff" stroke="#c878b0" stroke-width="2.2" stroke-linejoin="miter"/>
<polygon points="484.1,146.4 502.1,166.7 484.1,187.0 466.1,166.7" fill="#fff" stroke="#c878b0" stroke-width="2.2" stroke-linejoin="miter"/>
<polygon points="509.7,146.9 527.7,167.2 509.7,187.5 491.7,167.2" fill="#fff" stroke="#c878b0" stroke-width="2.2" stroke-linejoin="miter"/>
<polygon points="535.3,147.5 553.3,167.8 535.3,188.1 517.3,167.8" fill="#fff" stroke="#c878b0" stroke-width="2.2" stroke-linejoin="miter"/>
<polygon points="560.9,148.3 578.9,168.6 560.9,188.9 542.9,168.6" fill="#fff" stroke="#c878b0" stroke-width="2.2" stroke-linejoin="miter"/>
<polygon points="586.5,149.0 604.5,169.3 586.5,189.6 568.5,169.3" fill="#fff" stroke="#c878b0" stroke-width="2.2" stroke-linejoin="miter"/>
<polygon points="612.1,149.7 630.1,170.0 612.1,190.3 594.1,170.0" fill="#fff" stroke="#c878b0" stroke-width="2.2" stroke-linejoin="miter"/>
<polygon points="637.7,150.3 655.7,170.6 637.7,190.9 619.7,170.6" fill="#fff" stroke="#c878b0" stroke-width="2.2" stroke-linejoin="miter"/>
<polygon points="663.3,150.7 681.3,171.0 663.3,191.3 645.3,171.0" fill="#fff" stroke="#c878b0" stroke-width="2.2" stroke-linejoin="miter"/>
<polygon points="688.9,151.1 706.9,171.4 688.9,191.7 670.9,171.4" fill="#fff" stroke="#c878b0" stroke-width="2.2" stroke-linejoin="miter"/>
<polygon points="714.5,151.3 732.5,171.6 714.5,191.9 696.5,171.6" fill="#fff" stroke="#c878b0" stroke-width="2.2" stroke-linejoin="miter"/>
<polygon points="740.1,151.5 758.1,171.8 740.1,192.1 722.1,171.8" fill="#fff" stroke="#c878b0" stroke-width="2.2" stroke-linejoin="miter"/>
<polygon points="765.7,151.7 783.7,172.0 765.7,192.3 747.7,172.0" fill="#fff" stroke="#c878b0" stroke-width="2.2" stroke-linejoin="miter"/>
<polygon points="791.3,152.0 809.3,172.3 791.3,192.6 773.3,172.3" fill="#fff" stroke="#c878b0" stroke-width="2.2" stroke-linejoin="miter"/>
<polygon points="816.9,152.2 834.9,172.5 816.9,192.8 798.9,172.5" fill="#fff" stroke="#c878b0" stroke-width="2.2" stroke-linejoin="miter"/>
<polygon points="842.5,152.6 860.5,172.9 842.5,193.2 824.5,172.9" fill="#fff" stroke="#c878b0" stroke-width="2.2" stroke-linejoin="miter"/>
<polygon points="868.1,153.1 886.1,173.4 868.1,193.7 850.1,173.4" fill="#fff" stroke="#c878b0" stroke-width="2.2" stroke-linejoin="miter"/>
<polygon points="893.7,153.9 911.7,174.2 893.7,194.5 875.7,174.2" fill="#fff" stroke="#c878b0" stroke-width="2.2" stroke-linejoin="miter"/>
<polygon points="919.3,154.8 937.3,175.1 919.3,195.4 901.3,175.1" fill="#fff" stroke="#c878b0" stroke-width="2.2" stroke-linejoin="miter"/>
<polygon points="944.9,155.7 962.9,176.0 944.9,196.3 926.9,176.0" fill="#fff" stroke="#c878b0" stroke-width="2.2" stroke-linejoin="miter"/>
<polygon points="970.5,156.5 988.5,176.8 970.5,197.1 952.5,176.8" fill="#fff" stroke="#c878b0" stroke-width="2.2" stroke-linejoin="miter"/>
<polygon points="996.1,157.5 1014.1,177.8 996.1,198.1 978.1,177.8" fill="#fff" stroke="#c878b0" stroke-width="2.2" stroke-linejoin="miter"/>
<polygon points="1021.7,159.8 1039.7,180.1 1021.7,200.4 1003.7,180.1" fill="#fff" stroke="#c878b0" stroke-width="2.2" stroke-linejoin="miter"/>
<polygon points="1047.3,165.8 1065.3,186.1 1047.3,206.4 1029.3,186.1" fill="#fff" stroke="#c878b0" stroke-width="2.2" stroke-linejoin="miter"/>
<polygon points="1072.9,174.9 1090.9,195.2 1072.9,215.5 1054.9,195.2" fill="#fff" stroke="#c878b0" stroke-width="2.2" stroke-linejoin="miter"/>
<polygon points="1098.5,187.7 1116.5,208.0 1098.5,228.3 1080.5,208.0" fill="#fff" stroke="#c878b0" stroke-width="2.2" stroke-linejoin="miter"/>
<polygon points="1124.1,204.2 1142.1,224.5 1124.1,244.8 1106.1,224.5" fill="#fff" stroke="#c878b0" stroke-width="2.2" stroke-linejoin="miter"/>
<polygon points="1149.7,235.7 1167.7,256.0 1149.7,276.3 1131.7,256.0" fill="#fff" stroke="#c878b0" stroke-width="2.2" stroke-linejoin="miter"/>
<polygon points="1175.3,285.4 1193.3,305.7 1175.3,326.0 1157.3,305.7" fill="#fff" stroke="#c878b0" stroke-width="2.2" stroke-linejoin="miter"/>
<polygon points="1200.9,361.2 1218.9,381.5 1200.9,401.8 1182.9,381.5" fill="#fff" stroke="#c878b0" stroke-width="2.2" stroke-linejoin="miter"/>
<polygon points="1226.5,432.2 1244.5,452.5 1226.5,472.8 1208.5,452.5" fill="#fff" stroke="#c878b0" stroke-width="2.2" stroke-linejoin="miter"/>
<polygon points="1252.1,501.1 1270.1,521.4 1252.1,541.7 1234.1,521.4" fill="#fff" stroke="#c878b0" stroke-width="2.2" stroke-linejoin="miter"/>
<polygon points="1277.7,579.3 1295.7,599.6 1277.7,619.9 1259.7,599.6" fill="#fff" stroke="#c878b0" stroke-width="2.2" stroke-linejoin="miter"/>
<polygon points="1303.3,668.8 1321.3,689.1 1303.3,709.4 1285.3,689.1" fill="#fff" stroke="#c878b0" stroke-width="2.2" stroke-linejoin="miter"/>
<polygon points="1328.9,744.4 1346.9,764.7 1328.9,785.0 1310.9,764.7" fill="#fff" stroke="#c878b0" stroke-width="2.2" stroke-linejoin="miter"/>
<polygon points="1354.5,809.5 1372.5,829.8 1354.5,850.1 1336.5,829.8" fill="#fff" stroke="#c878b0" stroke-width="2.2" stroke-linejoin="miter"/>
<polygon points="1380.1,857.8 1398.1,878.1 1380.1,898.4 1362.1,878.1" fill="#fff" stroke="#c878b0" stroke-width="2.2" stroke-linejoin="miter"/>
<polygon points="1405.7,889.4 1423.7,909.7 1405.7,930.0 1387.7,909.7" fill="#fff" stroke="#c878b0" stroke-width="2.2" stroke-linejoin="miter"/>
<polygon points="1431.3,911.2 1449.3,931.5 1431.3,951.8 1413.3,931.5" fill="#fff" stroke="#c878b0" stroke-width="2.2" stroke-linejoin="miter"/>
<polygon points="1456.9,925.4 1474.9,945.7 1456.9,966.0 1438.9,945.7" fill="#fff" stroke="#c878b0" stroke-width="2.2" stroke-linejoin="miter"/>
<polygon points="1482.5,941.4 1500.5,961.7 1482.5,982.0 1464.5,961.7" fill="#fff" stroke="#c878b0" stroke-width="2.2" stroke-linejoin="miter"/>
<polygon points="1508.1,956.2 1526.1,976.5 1508.1,996.8 1490.1,976.5" fill="#fff" stroke="#c878b0" stroke-width="2.2" stroke-linejoin="miter"/>
<polygon points="1533.7,968.0 1551.7,988.3 1533.7,1008.6 1515.7,988.3" fill="#fff" stroke="#c878b0" stroke-width="2.2" stroke-linejoin="miter"/>
<polygon points="1559.3,977.8 1577.3,998.1 1559.3,1018.4 1541.3,998.1" fill="#fff" stroke="#c878b0" stroke-width="2.2" stroke-linejoin="miter"/>
<polygon points="1584.9,985.2 1602.9,1005.5 1584.9,1025.8 1566.9,1005.5" fill="#fff" stroke="#c878b0" stroke-width="2.2" stroke-linejoin="miter"/>
<path d="M250.0,159.5 L251.0,159.5 L252.0,159.5 L253.0,159.4 L254.0,159.4 L255.0,159.4 L256.0,159.4 L257.0,159.4 L258.0,159.3 L259.0,159.3 L260.0,159.3 L261.0,159.3 L262.0,159.3 L263.0,159.3 L264.0,159.3 L265.0,159.3 L266.0,159.2 L267.0,159.2 L268.0,159.2 L269.0,159.2 L270.0,159.2 L271.0,159.2 L272.0,159.2 L273.0,159.2 L274.0,159.2 L275.0,159.2 L276.0,159.2 L277.0,159.2 L278.0,159.2 L279.0,159.2 L280.0,159.2 L281.0,159.2 L282.0,159.2 L283.0,159.2 L284.0,159.2 L285.0,159.2 L286.0,159.2 L287.0,159.2 L288.0,159.2 L289.0,159.3 L290.0,159.3 L291.0,159.3 L292.0,159.3 L293.0,159.4 L294.0,159.4 L295.0,159.4 L296.0,159.4 L297.0,159.5 L298.0,159.5 L299.0,159.5 L300.0,159.6 L301.0,159.6 L302.0,159.6 L303.0,159.7 L304.0,159.7 L305.0,159.7 L306.0,159.8 L307.0,159.8 L308.0,159.8 L309.0,159.9 L310.0,159.9 L311.0,159.9 L312.0,159.9 L313.0,160.0 L314.0,160.0 L315.0,160.0 L316.0,160.0 L317.0,160.0 L318.0,160.1 L319.0,160.1 L320.0,160.1 L321.0,160.1 L322.0,160.1 L323.0,160.1 L324.0,160.2 L325.0,160.2 L326.0,160.2 L327.0,160.2 L328.0,160.2 L329.0,160.2 L330.0,160.2 L331.0,160.2 L332.0,160.3 L333.0,160.3 L334.0,160.3 L335.0,160.3 L336.0,160.3 L337.0,160.3 L338.0,160.3 L339.0,160.3 L340.0,160.4 L341.0,160.4 L342.0,160.4 L343.0,160.4 L344.0,160.4 L345.0,160.4 L346.0,160.4 L347.0,160.5 L348.0,160.5 L349.0,160.5 L350.0,160.5 L351.0,160.5 L352.0,160.5 L353.0,160.5 L354.0,160.6 L355.0,160.6 L356.0,160.6 L357.0,160.6 L358.0,160.6 L359.0,160.7 L360.0,160.7 L361.0,160.7 L362.0,160.7 L363.0,160.7 L364.0,160.7 L365.0,160.8 L366.0,160.8 L367.0,160.8 L368.0,160.8 L369.0,160.8 L370.0,160.9 L371.0,160.9 L372.0,160.9 L373.0,160.9 L374.0,160.9 L375.0,161.0 L376.0,161.0 L377.0,161.0 L378.0,161.0 L379.0,161.1 L380.0,161.1 L381.0,161.1 L382.0,161.1 L383.0,161.1 L384.0,161.2 L385.0,161.2 L386.0,161.2 L387.0,161.2 L388.0,161.3 L389.0,161.3 L390.0,161.3 L391.0,161.3 L392.0,161.3 L393.0,161.4 L394.0,161.4 L395.0,161.4 L396.0,161.4 L397.0,161.5 L398.0,161.5 L399.0,161.5 L400.0,161.5 L401.0,161.6 L402.0,161.6 L403.0,161.6 L404.0,161.6 L405.0,161.7 L406.0,161.7 L407.0,161.7 L408.0,161.7 L409.0,161.8 L410.0,161.8 L411.0,161.8 L412.0,161.8 L413.0,161.9 L414.0,161.9 L415.0,161.9 L416.0,161.9 L417.0,162.0 L418.0,162.0 L419.0,162.0 L420.0,162.1 L421.0,162.1 L422.0,162.1 L423.0,162.1 L424.0,162.2 L425.0,162.2 L426.0,162.2 L427.0,162.2 L428.0,162.3 L429.0,162.3 L430.0,162.3 L431.0,162.4 L432.0,162.4 L433.0,162.4 L434.0,162.4 L435.0,162.5 L436.0,162.5 L437.0,162.5 L438.0,162.5 L439.0,162.6 L440.0,162.6 L441.0,162.6 L442.0,162.7 L443.0,162.7 L444.0,162.7 L445.0,162.7 L446.0,162.8 L447.0,162.8 L448.0,162.8 L449.0,162.9 L450.0,162.9 L451.0,162.9 L452.0,162.9 L453.0,163.0 L454.0,163.0 L455.0,163.0 L456.0,163.0 L457.0,163.1 L458.0,163.1 L459.0,163.1 L460.0,163.2 L461.0,163.2 L462.0,163.2 L463.0,163.2 L464.0,163.3 L465.0,163.3 L466.0,163.3 L467.0,163.4 L468.0,163.4 L469.0,163.4 L470.0,163.4 L471.0,163.5 L472.0,163.5 L473.0,163.5 L474.0,163.5 L475.0,163.6 L476.0,163.6 L477.0,163.6 L478.0,163.7 L479.0,163.7 L480.0,163.7 L481.0,163.7 L482.0,163.8 L483.0,163.8 L484.0,163.8 L485.0,163.8 L486.0,163.9 L487.0,163.9 L488.0,163.9 L489.0,164.0 L490.0,164.0 L491.0,164.0 L492.0,164.0 L493.0,164.1 L494.0,164.1 L495.0,164.1 L496.0,164.1 L497.0,164.2 L498.0,164.2 L499.0,164.2 L500.0,164.2 L501.0,164.3 L502.0,164.3 L503.0,164.3 L504.0,164.3 L505.0,164.4 L506.0,164.4 L507.0,164.4 L508.0,164.4 L509.0,164.5 L510.0,164.5 L511.0,164.5 L512.0,164.5 L513.0,164.6 L514.0,164.6 L515.0,164.6 L516.0,164.6 L517.0,164.7 L518.0,164.7 L519.0,164.7 L520.0,164.7 L521.0,164.8 L522.0,164.8 L523.0,164.8 L524.0,164.8 L525.0,164.9 L526.0,164.9 L527.0,164.9 L528.0,164.9 L529.0,164.9 L530.0,165.0 L531.0,165.0 L532.0,165.0 L533.0,165.0 L534.0,165.0 L535.0,165.1 L536.0,165.1 L537.0,165.1 L538.0,165.1 L539.0,165.2 L540.0,165.2 L541.0,165.2 L542.0,165.2 L543.0,165.2 L544.0,165.2 L545.0,165.3 L546.0,165.3 L547.0,165.3 L548.0,165.3 L549.0,165.3 L550.0,165.4 L551.0,165.4 L552.0,165.4 L553.0,165.4 L554.0,165.4 L555.0,165.4 L556.0,165.5 L557.0,165.5 L558.0,165.5 L559.0,165.5 L560.0,165.5 L561.0,165.5 L562.0,165.6 L563.0,165.6 L564.0,165.6 L565.0,165.6 L566.0,165.6 L567.0,165.6 L568.0,165.7 L569.0,165.7 L570.0,165.7 L571.0,165.7 L572.0,165.7 L573.0,165.7 L574.0,165.7 L575.0,165.7 L576.0,165.8 L577.0,165.8 L578.0,165.8 L579.0,165.8 L580.0,165.8 L581.0,165.8 L582.0,165.8 L583.0,165.8 L584.0,165.8 L585.0,165.9 L586.0,165.9 L587.0,165.9 L588.0,165.9 L589.0,165.9 L590.0,165.9 L591.0,165.9 L592.0,165.9 L593.0,165.9 L594.0,165.9 L595.0,165.9 L596.0,165.9 L597.0,165.9 L598.0,166.0 L599.0,166.0 L600.0,166.0 L601.0,166.0 L602.0,166.0 L603.0,166.0 L604.0,166.0 L605.0,166.0 L606.0,166.0 L607.0,166.0 L608.0,166.0 L609.0,166.0 L610.0,166.0 L611.0,166.0 L612.0,166.0 L613.0,166.0 L614.0,166.0 L615.0,166.0 L616.0,166.0 L617.0,166.0 L618.0,166.0 L619.0,166.0 L620.0,166.0 L621.0,166.0 L622.0,166.0 L623.0,166.0 L624.0,166.0 L625.0,166.0 L626.0,166.0 L627.0,166.0 L628.0,166.0 L629.0,166.0 L630.0,166.0 L631.0,166.0 L632.0,166.0 L633.0,166.0 L634.0,166.0 L635.0,166.0 L636.0,166.0 L637.0,166.0 L638.0,166.0 L639.0,166.0 L640.0,166.0 L641.0,166.0 L642.0,166.0 L643.0,166.0 L644.0,166.0 L645.0,166.0 L646.0,166.0 L647.0,166.0 L648.0,166.0 L649.0,166.0 L650.0,166.0 L651.0,166.0 L652.0,166.0 L653.0,166.0 L654.0,166.0 L655.0,166.0 L656.0,166.0 L657.0,166.0 L658.0,166.0 L659.0,166.1 L660.0,166.1 L661.0,166.1 L662.0,166.1 L663.0,166.2 L664.0,166.2 L665.0,166.3 L666.0,166.3 L667.0,166.3 L668.0,166.4 L669.0,166.4 L670.0,166.5 L671.0,166.5 L672.0,166.6 L673.0,166.7 L674.0,166.7 L675.0,166.8 L676.0,166.8 L677.0,166.9 L678.0,166.9 L679.0,167.0 L680.0,167.1 L681.0,167.1 L682.0,167.2 L683.0,167.2 L684.0,167.3 L685.0,167.3 L686.0,167.4 L687.0,167.4 L688.0,167.5 L689.0,167.5 L690.0,167.6 L691.0,167.6 L692.0,167.6 L693.0,167.7 L694.0,167.7 L695.0,167.7 L696.0,167.8 L697.0,167.8 L698.0,167.8 L699.0,167.8 L700.0,167.9 L701.0,167.9 L702.0,167.9 L703.0,167.9 L704.0,168.0 L705.0,168.0 L706.0,168.0 L707.0,168.0 L708.0,168.1 L709.0,168.1 L710.0,168.1 L711.0,168.1 L712.0,168.2 L713.0,168.2 L714.0,168.2 L715.0,168.2 L716.0,168.2 L717.0,168.3 L718.0,168.3 L719.0,168.3 L720.0,168.3 L721.0,168.4 L722.0,168.4 L723.0,168.4 L724.0,168.4 L725.0,168.4 L726.0,168.5 L727.0,168.5 L728.0,168.5 L729.0,168.5 L730.0,168.6 L731.0,168.6 L732.0,168.6 L733.0,168.6 L734.0,168.6 L735.0,168.7 L736.0,168.7 L737.0,168.7 L738.0,168.7 L739.0,168.7 L740.0,168.8 L741.0,168.8 L742.0,168.8 L743.0,168.8 L744.0,168.8 L745.0,168.9 L746.0,168.9 L747.0,168.9 L748.0,168.9 L749.0,168.9 L750.0,168.9 L751.0,169.0 L752.0,169.0 L753.0,169.0 L754.0,169.0 L755.0,169.0 L756.0,169.1 L757.0,169.1 L758.0,169.1 L759.0,169.1 L760.0,169.1 L761.0,169.1 L762.0,169.2 L763.0,169.2 L764.0,169.2 L765.0,169.2 L766.0,169.2 L767.0,169.2 L768.0,169.3 L769.0,169.3 L770.0,169.3 L771.0,169.3 L772.0,169.3 L773.0,169.3 L774.0,169.4 L775.0,169.4 L776.0,169.4 L777.0,169.4 L778.0,169.4 L779.0,169.4 L780.0,169.4 L781.0,169.5 L782.0,169.5 L783.0,169.5 L784.0,169.5 L785.0,169.5 L786.0,169.5 L787.0,169.6 L788.0,169.6 L789.0,169.6 L790.0,169.6 L791.0,169.6 L792.0,169.6 L793.0,169.6 L794.0,169.7 L795.0,169.7 L796.0,169.7 L797.0,169.7 L798.0,169.7 L799.0,169.7 L800.0,169.7 L801.0,169.8 L802.0,169.8 L803.0,169.8 L804.0,169.8 L805.0,169.8 L806.0,169.8 L807.0,169.8 L808.0,169.9 L809.0,169.9 L810.0,169.9 L811.0,169.9 L812.0,169.9 L813.0,169.9 L814.0,169.9 L815.0,170.0 L816.0,170.0 L817.0,170.0 L818.0,170.0 L819.0,170.0 L820.0,170.0 L821.0,170.0 L822.0,170.1 L823.0,170.1 L824.0,170.1 L825.0,170.1 L826.0,170.1 L827.0,170.1 L828.0,170.1 L829.0,170.2 L830.0,170.2 L831.0,170.2 L832.0,170.2 L833.0,170.2 L834.0,170.2 L835.0,170.2 L836.0,170.2 L837.0,170.3 L838.0,170.3 L839.0,170.3 L840.0,170.3 L841.0,170.3 L842.0,170.3 L843.0,170.3 L844.0,170.4 L845.0,170.4 L846.0,170.4 L847.0,170.4 L848.0,170.4 L849.0,170.4 L850.0,170.4 L851.0,170.5 L852.0,170.5 L853.0,170.5 L854.0,170.5 L855.0,170.5 L856.0,170.5 L857.0,170.5 L858.0,170.6 L859.0,170.6 L860.0,170.6 L861.0,170.6 L862.0,170.6 L863.0,170.6 L864.0,170.6 L865.0,170.7 L866.0,170.7 L867.0,170.7 L868.0,170.7 L869.0,170.7 L870.0,170.7 L871.0,170.7 L872.0,170.8 L873.0,170.8 L874.0,170.8 L875.0,170.8 L876.0,170.8 L877.0,170.8 L878.0,170.9 L879.0,170.9 L880.0,170.9 L881.0,170.9 L882.0,170.9 L883.0,170.9 L884.0,171.0 L885.0,171.0 L886.0,171.0 L887.0,171.0 L888.0,171.0 L889.0,171.0 L890.0,171.0 L891.0,171.1 L892.0,171.1 L893.0,171.1 L894.0,171.1 L895.0,171.1 L896.0,171.1 L897.0,171.2 L898.0,171.2 L899.0,171.2 L900.0,171.2 L901.0,171.2 L902.0,171.2 L903.0,171.2 L904.0,171.3 L905.0,171.3 L906.0,171.3 L907.0,171.3 L908.0,171.3 L909.0,171.3 L910.0,171.4 L911.0,171.4 L912.0,171.4 L913.0,171.4 L914.0,171.4 L915.0,171.4 L916.0,171.4 L917.0,171.5 L918.0,171.5 L919.0,171.5 L920.0,171.5 L921.0,171.5 L922.0,171.5 L923.0,171.6 L924.0,171.6 L925.0,171.6 L926.0,171.6 L927.0,171.6 L928.0,171.7 L929.0,171.7 L930.0,171.7 L931.0,171.7 L932.0,171.7 L933.0,171.7 L934.0,171.8 L935.0,171.8 L936.0,171.8 L937.0,171.8 L938.0,171.8 L939.0,171.9 L940.0,171.9 L941.0,171.9 L942.0,171.9 L943.0,171.9 L944.0,172.0 L945.0,172.0 L946.0,172.0 L947.0,172.0 L948.0,172.0 L949.0,172.1 L950.0,172.1 L951.0,172.1 L952.0,172.1 L953.0,172.2 L954.0,172.2 L955.0,172.2 L956.0,172.2 L957.0,172.2 L958.0,172.3 L959.0,172.3 L960.0,172.3 L961.0,172.3 L962.0,172.4 L963.0,172.4 L964.0,172.4 L965.0,172.4 L966.0,172.4 L967.0,172.5 L968.0,172.5 L969.0,172.5 L970.0,172.6 L971.0,172.6 L972.0,172.6 L973.0,172.6 L974.0,172.7 L975.0,172.7 L976.0,172.7 L977.0,172.7 L978.0,172.8 L979.0,172.8 L980.0,172.8 L981.0,172.9 L982.0,172.9 L983.0,172.9 L984.0,172.9 L985.0,173.0 L986.0,173.0 L987.0,173.0 L988.0,173.1 L989.0,173.1 L990.0,173.1 L991.0,173.2 L992.0,173.2 L993.0,173.2 L994.0,173.2 L995.0,173.3 L996.0,173.3 L997.0,173.3 L998.0,173.4 L999.0,173.4 L1000.0,173.4 L1001.0,173.4 L1002.0,173.5 L1003.0,173.5 L1004.0,173.5 L1005.0,173.6 L1006.0,173.6 L1007.0,173.6 L1008.0,173.6 L1009.0,173.7 L1010.0,173.7 L1011.0,173.7 L1012.0,173.7 L1013.0,173.7 L1014.0,173.8 L1015.0,173.8 L1016.0,173.8 L1017.0,173.8 L1018.0,173.9 L1019.0,173.9 L1020.0,173.9 L1021.0,173.9 L1022.0,174.0 L1023.0,174.0 L1024.0,174.0 L1025.0,174.0 L1026.0,174.1 L1027.0,174.1 L1028.0,174.1 L1029.0,174.1 L1030.0,174.2 L1031.0,174.2 L1032.0,174.2 L1033.0,174.2 L1034.0,174.3 L1035.0,174.3 L1036.0,174.3 L1037.0,174.4 L1038.0,174.4 L1039.0,174.4 L1040.0,174.5 L1041.0,174.5 L1042.0,174.5 L1043.0,174.6 L1044.0,174.6 L1045.0,174.7 L1046.0,174.7 L1047.0,174.8 L1048.0,174.8 L1049.0,174.9 L1050.0,175.0 L1051.0,175.0 L1052.0,175.1 L1053.0,175.2 L1054.0,175.2 L1055.0,175.3 L1056.0,175.4 L1057.0,175.4 L1058.0,175.5 L1059.0,175.6 L1060.0,175.7 L1061.0,175.7 L1062.0,175.8 L1063.0,175.9 L1064.0,175.9 L1065.0,176.0 L1066.0,176.1 L1067.0,176.1 L1068.0,176.2 L1069.0,176.2 L1070.0,176.3 L1071.0,176.3 L1072.0,176.4 L1073.0,176.4 L1074.0,176.5 L1075.0,176.5 L1076.0,176.5 L1077.0,176.6 L1078.0,176.6 L1079.0,176.6 L1080.0,176.6 L1081.0,176.6 L1082.0,176.6 L1083.0,176.6 L1084.0,176.7 L1085.0,176.7 L1086.0,176.7 L1087.0,176.7 L1088.0,176.7 L1089.0,176.7 L1090.0,176.7 L1091.0,176.7 L1092.0,176.7 L1093.0,176.7 L1094.0,176.7 L1095.0,176.7 L1096.0,176.7 L1097.0,176.7 L1098.0,176.7 L1099.0,176.7 L1100.0,176.8 L1101.0,176.8 L1102.0,176.8 L1103.0,176.8 L1104.0,176.8 L1105.0,176.8 L1106.0,176.8 L1107.0,176.8 L1108.0,176.8 L1109.0,176.8 L1110.0,176.8 L1111.0,176.8 L1112.0,176.8 L1113.0,176.8 L1114.0,176.9 L1115.0,176.9 L1116.0,176.9 L1117.0,176.9 L1118.0,176.9 L1119.0,176.9 L1120.0,176.9 L1121.0,177.0 L1122.0,177.0 L1123.0,177.1 L1124.0,177.1 L1125.0,177.2 L1126.0,177.3 L1127.0,177.3 L1128.0,177.4 L1129.0,177.5 L1130.0,177.6 L1131.0,177.7 L1132.0,177.8 L1133.0,177.9 L1134.0,178.0 L1135.0,178.1 L1136.0,178.2 L1137.0,178.3 L1138.0,178.4 L1139.0,178.6 L1140.0,178.7 L1141.0,178.8 L1142.0,178.9 L1143.0,179.0 L1144.0,179.1 L1145.0,179.2 L1146.0,179.3 L1147.0,179.4 L1148.0,179.5 L1149.0,179.6 L1150.0,179.7 L1151.0,179.8 L1152.0,179.9 L1153.0,180.0 L1154.0,180.1 L1155.0,180.2 L1156.0,180.2 L1157.0,180.3 L1158.0,180.4 L1159.0,180.4 L1160.0,180.5 L1161.0,180.5 L1162.0,180.6 L1163.0,180.6 L1164.0,180.7 L1165.0,180.7 L1166.0,180.7 L1167.0,180.8 L1168.0,180.8 L1169.0,180.8 L1170.0,180.9 L1171.0,180.9 L1172.0,181.0 L1173.0,181.0 L1174.0,181.0 L1175.0,181.1 L1176.0,181.1 L1177.0,181.1 L1178.0,181.2 L1179.0,181.2 L1180.0,181.2 L1181.0,181.3 L1182.0,181.3 L1183.0,181.4 L1184.0,181.4 L1185.0,181.4 L1186.0,181.5 L1187.0,181.5 L1188.0,181.6 L1189.0,181.6 L1190.0,181.7 L1191.0,181.7 L1192.0,181.8 L1193.0,181.9 L1194.0,181.9 L1195.0,182.0 L1196.0,182.1 L1197.0,182.1 L1198.0,182.2 L1199.0,182.3 L1200.0,182.4 L1201.0,182.5 L1202.0,182.6 L1203.0,182.7 L1204.0,182.8 L1205.0,182.9 L1206.0,183.0 L1207.0,183.2 L1208.0,183.3 L1209.0,183.4 L1210.0,183.6 L1211.0,183.7 L1212.0,183.9 L1213.0,184.1 L1214.0,184.3 L1215.0,184.4 L1216.0,184.6 L1217.0,184.8 L1218.0,185.1 L1219.0,185.3 L1220.0,185.5 L1221.0,185.7 L1222.0,186.0 L1223.0,186.3 L1224.0,186.6 L1225.0,187.0 L1226.0,187.4 L1227.0,187.9 L1228.0,188.5 L1229.0,189.0 L1230.0,189.7 L1231.0,190.4 L1232.0,191.2 L1233.0,192.0 L1234.0,192.9 L1235.0,193.8 L1236.0,195.0 L1237.0,196.6 L1238.0,198.5 L1239.0,200.7 L1240.0,203.0 L1241.0,205.4 L1242.0,207.8 L1243.0,210.0 L1244.0,212.1 L1245.0,214.2 L1246.0,216.3 L1247.0,218.4 L1248.0,220.4 L1249.0,222.5 L1250.0,224.7 L1251.0,226.9 L1252.0,229.1 L1253.0,231.5 L1254.0,233.9 L1255.0,236.5 L1256.0,239.2 L1257.0,242.0 L1258.0,245.0 L1259.0,248.2 L1260.0,251.8 L1261.0,255.7 L1262.0,259.8 L1263.0,264.1 L1264.0,268.6 L1265.0,273.2 L1266.0,278.0 L1267.0,282.8 L1268.0,287.7 L1269.0,292.7 L1270.0,297.6 L1271.0,302.9 L1272.0,308.5 L1273.0,313.6 L1274.0,317.7 L1275.0,321.2 L1276.0,324.8 L1277.0,329.0 L1278.0,334.0 L1279.0,339.5 L1280.0,345.6 L1281.0,352.0 L1282.0,358.8 L1283.0,366.0 L1284.0,373.4 L1285.0,380.9 L1286.0,388.6 L1287.0,396.4 L1288.0,404.1 L1289.0,411.8 L1290.0,419.4 L1291.0,426.8 L1292.0,434.0 L1293.0,440.9 L1294.0,447.6 L1295.0,454.2 L1296.0,460.7 L1297.0,467.3 L1298.0,473.7 L1299.0,480.1 L1300.0,486.5 L1301.0,492.9 L1302.0,499.3 L1303.0,505.7 L1304.0,512.1 L1305.0,518.5 L1306.0,525.0 L1307.0,531.5 L1308.0,538.0 L1309.0,544.7 L1310.0,551.4 L1311.0,558.2 L1312.0,565.1 L1313.0,572.4 L1314.0,580.0 L1315.0,587.5 L1316.0,594.7 L1317.0,601.2 L1318.0,607.3 L1319.0,613.3 L1320.0,619.1 L1321.0,624.7 L1322.0,630.2 L1323.0,635.7 L1324.0,641.0 L1325.0,646.1 L1326.0,651.2 L1327.0,656.3 L1328.0,661.2 L1329.0,666.1 L1330.0,670.9 L1331.0,675.6 L1332.0,680.3 L1333.0,685.0 L1334.0,689.6 L1335.0,694.2 L1336.0,698.8 L1337.0,703.4 L1338.0,708.0 L1339.0,712.7 L1340.0,717.3 L1341.0,722.0 L1342.0,726.7 L1343.0,731.4 L1344.0,736.2 L1345.0,741.1 L1346.0,746.0 L1347.0,751.1 L1348.0,756.6 L1349.0,761.9 L1350.0,766.1 L1351.0,769.2 L1352.0,771.8 L1353.0,774.0 L1354.0,776.1 L1355.0,778.0 L1356.0,780.0 L1357.0,782.1 L1358.0,784.5 L1359.0,787.2 L1360.0,790.2 L1361.0,793.4 L1362.0,796.8 L1363.0,800.4 L1364.0,804.0 L1365.0,807.8 L1366.0,811.7 L1367.0,815.6 L1368.0,819.5 L1369.0,823.4 L1370.0,827.2 L1371.0,831.0 L1372.0,834.6 L1373.0,838.1 L1374.0,841.5 L1375.0,844.6 L1376.0,847.6 L1377.0,850.2 L1378.0,852.6 L1379.0,854.7 L1380.0,856.6 L1381.0,858.4 L1382.0,860.1 L1383.0,861.6 L1384.0,863.1 L1385.0,864.6 L1386.0,866.0 L1387.0,867.4 L1388.0,868.8 L1389.0,870.2 L1390.0,871.6 L1391.0,873.0 L1392.0,874.3 L1393.0,875.6 L1394.0,876.9 L1395.0,878.2 L1396.0,879.5 L1397.0,880.7 L1398.0,882.1 L1399.0,883.4 L1400.0,884.8 L1401.0,886.3 L1402.0,887.8 L1403.0,889.4 L1404.0,891.0 L1405.0,892.7 L1406.0,894.5 L1407.0,896.3 L1408.0,898.1 L1409.0,900.0 L1410.0,901.9 L1411.0,903.8 L1412.0,905.7 L1413.0,907.7 L1414.0,909.6 L1415.0,911.5 L1416.0,913.5 L1417.0,915.4 L1418.0,917.3 L1419.0,919.1 L1420.0,921.0 L1421.0,922.7 L1422.0,924.5 L1423.0,926.2 L1424.0,927.8 L1425.0,929.4 L1426.0,930.9 L1427.0,932.3 L1428.0,933.7 L1429.0,935.0 L1430.0,936.4 L1431.0,937.7 L1432.0,939.0 L1433.0,940.2 L1434.0,941.5 L1435.0,942.7 L1436.0,944.0 L1437.0,945.2 L1438.0,946.4 L1439.0,947.5 L1440.0,948.7 L1441.0,949.9 L1442.0,951.0 L1443.0,952.1 L1444.0,953.2 L1445.0,954.3 L1446.0,955.4 L1447.0,956.5 L1448.0,957.5 L1449.0,958.6 L1450.0,959.6 L1451.0,960.7 L1452.0,961.7 L1453.0,962.7 L1454.0,963.7 L1455.0,964.7 L1456.0,965.7 L1457.0,966.7 L1458.0,967.7 L1459.0,968.6 L1460.0,969.6 L1461.0,970.6 L1462.0,971.6 L1463.0,972.5 L1464.0,973.5 L1465.0,974.4 L1466.0,975.4 L1467.0,976.4 L1468.0,977.3 L1469.0,978.2 L1470.0,979.2 L1471.0,980.1 L1472.0,981.0 L1473.0,981.9 L1474.0,982.8 L1475.0,983.7 L1476.0,984.6 L1477.0,985.5 L1478.0,986.4 L1479.0,987.2 L1480.0,988.1 L1481.0,989.0 L1482.0,989.8 L1483.0,990.7 L1484.0,991.5 L1485.0,992.4 L1486.0,993.2 L1487.0,994.0 L1488.0,994.8 L1489.0,995.7 L1490.0,996.5 L1491.0,997.3 L1492.0,998.1 L1493.0,998.9 L1494.0,999.7 L1495.0,1000.5 L1496.0,1001.3 L1497.0,1002.1 L1498.0,1002.9 L1499.0,1003.6 L1500.0,1004.4 L1501.0,1005.2 L1502.0,1006.0 L1503.0,1006.7 L1504.0,1007.5 L1505.0,1008.3 L1506.0,1009.0 L1507.0,1009.8 L1508.0,1010.6 L1509.0,1011.3 L1510.0,1012.1 L1511.0,1012.8 L1512.0,1013.6 L1513.0,1014.3 L1514.0,1015.1 L1515.0,1015.8 L1516.0,1016.5 L1517.0,1017.3 L1518.0,1018.0 L1519.0,1018.7 L1520.0,1019.5 L1521.0,1020.2 L1522.0,1020.9 L1523.0,1021.6 L1524.0,1022.3 L1525.0,1023.0 L1526.0,1023.7 L1527.0,1024.4 L1528.0,1025.1 L1529.0,1025.8 L1530.0,1026.5 L1531.0,1027.2 L1532.0,1027.9 L1533.0,1028.5 L1534.0,1029.2 L1535.0,1029.8 L1536.0,1030.5 L1537.0,1031.1 L1538.0,1031.8 L1539.0,1032.4 L1540.0,1033.1 L1541.0,1033.7 L1542.0,1034.3 L1543.0,1034.9 L1544.0,1035.5 L1545.0,1036.1 L1546.0,1036.7 L1547.0,1037.3 L1548.0,1037.8 L1549.0,1038.4 L1550.0,1039.0 L1551.0,1039.5 L1552.0,1040.1 L1553.0,1040.6 L1554.0,1041.2 L1555.0,1041.7 L1556.0,1042.3 L1557.0,1042.8 L1558.0,1043.3 L1559.0,1043.8 L1560.0,1044.4 L1561.0,1044.9 L1562.0,1045.4 L1563.0,1045.9 L1564.0,1046.4 L1565.0,1046.9 L1566.0,1047.5 L1567.0,1048.0 L1568.0,1048.5 L1569.0,1049.0 L1570.0,1049.5 L1571.0,1050.0 L1572.0,1050.5 L1573.0,1051.0 L1574.0,1051.5 L1575.0,1052.1 L1576.0,1052.6 L1577.0,1053.1 L1578.0,1053.6 L1579.0,1054.1 L1580.0,1054.7 L1581.0,1055.2 L1582.0,1055.7 L1583.0,1056.3 L1584.0,1056.8 L1585.0,1057.3 L1586.0,1057.9 L1587.0,1058.4 L1588.0,1058.9 L1589.0,1059.4 L1590.0,1060.0 L1591.0,1060.5 L1592.0,1061.0 L1593.0,1061.6 L1594.0,1062.1 L1595.0,1062.6 L1596.0,1063.2 L1597.0,1063.7 L1598.0,1064.2 L1599.0,1064.7 L1600.0,1065.3 L1601.0,1065.8 L1602.0,1066.3 L1603.0,1066.9 L1604.0,1067.4 L1605.0,1067.9 L1606.0,1068.4 L1607.0,1069.0 L1608.0,1069.5 L1609.0,1070.0 L1610.0,1070.6 L1611.0,1071.1 L1612.0,1071.6 L1613.0,1072.1 L1614.0,1072.7 L1615.0,1073.2 L1616.0,1073.7 L1617.0,1074.2 L1618.0,1074.8 L1619.0,1075.3" fill="none" stroke="#111111" stroke-width="3"/>
<rect x="247.5" y="144.5" width="29.0" height="29.6" fill="#fff" stroke="#3a3a3a" stroke-width="2.2"/>
<rect x="267.9" y="144.4" width="29.0" height="29.6" fill="#fff" stroke="#3a3a3a" stroke-width="2.2"/>
<rect x="300.0" y="145.2" width="29.0" height="29.6" fill="#fff" stroke="#3a3a3a" stroke-width="2.2"/>
<rect x="335.5" y="145.7" width="29.0" height="29.6" fill="#fff" stroke="#3a3a3a" stroke-width="2.2"/>
<rect x="370.5" y="146.4" width="29.0" height="29.6" fill="#fff" stroke="#3a3a3a" stroke-width="2.2"/>
<rect x="407.5" y="147.3" width="29.0" height="29.6" fill="#fff" stroke="#3a3a3a" stroke-width="2.2"/>
<rect x="445.5" y="148.4" width="29.0" height="29.6" fill="#fff" stroke="#3a3a3a" stroke-width="2.2"/>
<rect x="484.5" y="149.4" width="29.0" height="29.6" fill="#fff" stroke="#3a3a3a" stroke-width="2.2"/>
<rect x="522.5" y="150.3" width="29.0" height="29.6" fill="#fff" stroke="#3a3a3a" stroke-width="2.2"/>
<rect x="562.1" y="151.0" width="29.0" height="29.6" fill="#fff" stroke="#3a3a3a" stroke-width="2.2"/>
<rect x="600.7" y="151.2" width="29.0" height="29.6" fill="#fff" stroke="#3a3a3a" stroke-width="2.2"/>
<rect x="639.5" y="151.2" width="29.0" height="29.6" fill="#fff" stroke="#3a3a3a" stroke-width="2.2"/>
<rect x="679.4" y="152.9" width="29.0" height="29.6" fill="#fff" stroke="#3a3a3a" stroke-width="2.2"/>
<rect x="718.0" y="153.8" width="29.0" height="29.6" fill="#fff" stroke="#3a3a3a" stroke-width="2.2"/>
<rect x="756.5" y="154.5" width="29.0" height="29.6" fill="#fff" stroke="#3a3a3a" stroke-width="2.2"/>
<rect x="795.5" y="155.1" width="29.0" height="29.6" fill="#fff" stroke="#3a3a3a" stroke-width="2.2"/>
<rect x="834.5" y="155.6" width="29.0" height="29.6" fill="#fff" stroke="#3a3a3a" stroke-width="2.2"/>
<rect x="872.8" y="156.2" width="29.0" height="29.6" fill="#fff" stroke="#3a3a3a" stroke-width="2.2"/>
<rect x="910.8" y="156.8" width="29.0" height="29.6" fill="#fff" stroke="#3a3a3a" stroke-width="2.2"/>
<rect x="949.5" y="157.6" width="29.0" height="29.6" fill="#fff" stroke="#3a3a3a" stroke-width="2.2"/>
<rect x="988.1" y="158.7" width="29.0" height="29.6" fill="#fff" stroke="#3a3a3a" stroke-width="2.2"/>
<rect x="1026.2" y="159.7" width="29.0" height="29.6" fill="#fff" stroke="#3a3a3a" stroke-width="2.2"/>
<rect x="1064.8" y="161.8" width="29.0" height="29.6" fill="#fff" stroke="#3a3a3a" stroke-width="2.2"/>
<rect x="1103.9" y="162.1" width="29.0" height="29.6" fill="#fff" stroke="#3a3a3a" stroke-width="2.2"/>
<rect x="1142.7" y="165.5" width="29.0" height="29.6" fill="#fff" stroke="#3a3a3a" stroke-width="2.2"/>
<rect x="1180.7" y="167.2" width="29.0" height="29.6" fill="#fff" stroke="#3a3a3a" stroke-width="2.2"/>
<rect x="1220.4" y="178.9" width="29.0" height="29.6" fill="#fff" stroke="#3a3a3a" stroke-width="2.2"/>
<rect x="1258.4" y="298.3" width="29.0" height="29.6" fill="#fff" stroke="#3a3a3a" stroke-width="2.2"/>
<rect x="1297.1" y="547.5" width="29.0" height="29.6" fill="#fff" stroke="#3a3a3a" stroke-width="2.2"/>
<rect x="1335.1" y="749.8" width="29.0" height="29.6" fill="#fff" stroke="#3a3a3a" stroke-width="2.2"/>
<rect x="1374.2" y="855.0" width="29.0" height="29.6" fill="#fff" stroke="#3a3a3a" stroke-width="2.2"/>
<rect x="1412.2" y="917.1" width="29.0" height="29.6" fill="#fff" stroke="#3a3a3a" stroke-width="2.2"/>
<rect x="1451.5" y="960.6" width="29.0" height="29.6" fill="#fff" stroke="#3a3a3a" stroke-width="2.2"/>
<rect x="1489.5" y="992.7" width="29.0" height="29.6" fill="#fff" stroke="#3a3a3a" stroke-width="2.2"/>
<rect x="1528.7" y="1020.2" width="29.0" height="29.6" fill="#fff" stroke="#3a3a3a" stroke-width="2.2"/>
<rect x="1566.7" y="1040.5" width="29.0" height="29.6" fill="#fff" stroke="#3a3a3a" stroke-width="2.2"/>
<rect x="1604.7" y="1060.6" width="29.0" height="29.6" fill="#fff" stroke="#3a3a3a" stroke-width="2.2"/>
</g>
<g clip-path="url(#ce)"><g clip-path="url(#cr)">
<path d="M550.0,380.0 L551.0,380.1 L552.0,380.2 L553.0,380.3 L554.0,380.4 L555.0,380.5 L556.0,380.6 L557.0,380.7 L558.0,380.9 L559.0,381.0 L560.0,381.1 L561.0,381.3 L562.0,381.4 L563.0,381.6 L564.0,381.7 L565.0,381.9 L566.0,382.0 L567.0,382.2 L568.0,382.4 L569.0,382.5 L570.0,382.7 L571.0,382.9 L572.0,383.1 L573.0,383.3 L574.0,383.4 L575.0,383.6 L576.0,383.8 L577.0,384.0 L578.0,384.2 L579.0,384.4 L580.0,384.7 L581.0,384.9 L582.0,385.1 L583.0,385.3 L584.0,385.5 L585.0,385.7 L586.0,386.0 L587.0,386.2 L588.0,386.4 L589.0,386.7 L590.0,386.9 L591.0,387.1 L592.0,387.4 L593.0,387.6 L594.0,387.9 L595.0,388.1 L596.0,388.3 L597.0,388.6 L598.0,388.8 L599.0,389.1 L600.0,389.4 L601.0,389.6 L602.0,389.9 L603.0,390.1 L604.0,390.4 L605.0,390.6 L606.0,390.9 L607.0,391.2 L608.0,391.4 L609.0,391.7 L610.0,392.0 L611.0,392.3 L612.0,392.6 L613.0,392.9 L614.0,393.2 L615.0,393.5 L616.0,393.9 L617.0,394.2 L618.0,394.5 L619.0,394.9 L620.0,395.2 L621.0,395.6 L622.0,395.9 L623.0,396.3 L624.0,396.7 L625.0,397.0 L626.0,397.4 L627.0,397.8 L628.0,398.2 L629.0,398.6 L630.0,399.0 L631.0,399.4 L632.0,399.8 L633.0,400.2 L634.0,400.6 L635.0,401.0 L636.0,401.5 L637.0,401.9 L638.0,402.3 L639.0,402.8 L640.0,403.2 L641.0,403.6 L642.0,404.1 L643.0,404.5 L644.0,405.0 L645.0,405.4 L646.0,405.9 L647.0,406.4 L648.0,406.8 L649.0,407.3 L650.0,407.8 L651.0,408.3 L652.0,408.7 L653.0,409.2 L654.0,409.7 L655.0,410.2 L656.0,410.7 L657.0,411.2 L658.0,411.7 L659.0,412.1 L660.0,412.7 L661.0,413.2 L662.0,413.7 L663.0,414.2 L664.0,414.7 L665.0,415.3 L666.0,415.8 L667.0,416.4 L668.0,416.9 L669.0,417.5 L670.0,418.1 L671.0,418.7 L672.0,419.3 L673.0,419.9 L674.0,420.5 L675.0,421.1 L676.0,421.7 L677.0,422.3 L678.0,422.9 L679.0,423.6 L680.0,424.2 L681.0,424.8 L682.0,425.5 L683.0,426.1 L684.0,426.8 L685.0,427.5 L686.0,428.1 L687.0,428.8 L688.0,429.5 L689.0,430.2 L690.0,430.8 L691.0,431.5 L692.0,432.2 L693.0,432.9 L694.0,433.6 L695.0,434.3 L696.0,435.0 L697.0,435.8 L698.0,436.5 L699.0,437.2 L700.0,437.9 L701.0,438.6 L702.0,439.4 L703.0,440.1 L704.0,440.8 L705.0,441.6 L706.0,442.3 L707.0,443.0 L708.0,443.8 L709.0,444.5 L710.0,445.3 L711.0,446.0 L712.0,446.8 L713.0,447.5 L714.0,448.3 L715.0,449.0 L716.0,449.8 L717.0,450.5 L718.0,451.3 L719.0,452.1 L720.0,452.9 L721.0,453.6 L722.0,454.4 L723.0,455.2 L724.0,456.0 L725.0,456.8 L726.0,457.6 L727.0,458.4 L728.0,459.2 L729.0,460.0 L730.0,460.8 L731.0,461.6 L732.0,462.4 L733.0,463.3 L734.0,464.1 L735.0,464.9 L736.0,465.8 L737.0,466.6 L738.0,467.5 L739.0,468.4 L740.0,469.2 L741.0,470.1 L742.0,471.0 L743.0,471.8 L744.0,472.7 L745.0,473.6 L746.0,474.5 L747.0,475.4 L748.0,476.3 L749.0,477.3 L750.0,478.2 L751.0,479.1 L752.0,480.0 L753.0,481.0 L754.0,481.9 L755.0,482.9 L756.0,483.9 L757.0,484.8 L758.0,485.8 L759.0,486.8 L760.0,487.8 L761.0,488.8 L762.0,489.8 L763.0,490.8 L764.0,491.8 L765.0,492.8 L766.0,493.9 L767.0,494.9 L768.0,496.0 L769.0,497.0 L770.0,498.1 L771.0,499.2 L772.0,500.3 L773.0,501.4 L774.0,502.5 L775.0,503.7 L776.0,504.8 L777.0,506.0 L778.0,507.2 L779.0,508.3 L780.0,509.5 L781.0,510.8 L782.0,512.0 L783.0,513.2 L784.0,514.4 L785.0,515.7 L786.0,516.9 L787.0,518.2 L788.0,519.5 L789.0,520.7 L790.0,522.0 L791.0,523.3 L792.0,524.6 L793.0,525.9 L794.0,527.2 L795.0,528.6 L796.0,529.9 L797.0,531.2 L798.0,532.6 L799.0,533.9 L800.0,535.3 L801.0,536.6 L802.0,538.0 L803.0,539.4 L804.0,540.7 L805.0,542.1 L806.0,543.5 L807.0,544.9 L808.0,546.2 L809.0,547.6 L810.0,549.0 L811.0,550.4 L812.0,551.8 L813.0,553.2 L814.0,554.6 L815.0,556.0 L816.0,557.4 L817.0,558.8 L818.0,560.2 L819.0,561.6 L820.0,563.0 L821.0,564.4 L822.0,565.8 L823.0,567.2 L824.0,568.6 L825.0,570.0 L826.0,571.5 L827.0,572.9 L828.0,574.3 L829.0,575.8 L830.0,577.2 L831.0,578.7 L832.0,580.2 L833.0,581.6 L834.0,583.1 L835.0,584.6 L836.0,586.1 L837.0,587.6 L838.0,589.2 L839.0,590.7 L840.0,592.2 L841.0,593.8 L842.0,595.3 L843.0,596.9 L844.0,598.4 L845.0,600.0 L846.0,601.5 L847.0,603.1 L848.0,604.6 L849.0,606.2 L850.0,607.8 L851.0,609.3 L852.0,610.9 L853.0,612.5 L854.0,614.1 L855.0,615.6 L856.0,617.2 L857.0,618.8 L858.0,620.3 L859.0,621.9 L860.0,623.5 L861.0,625.0 L862.0,626.6 L863.0,628.1 L864.0,629.7 L865.0,631.2 L866.0,632.8 L867.0,634.3 L868.0,635.8 L869.0,637.4 L870.0,638.9 L871.0,640.4 L872.0,641.9 L873.0,643.4 L874.0,644.9 L875.0,646.3 L876.0,647.8 L877.0,649.3 L878.0,650.7 L879.0,652.2 L880.0,653.6 L881.0,655.1 L882.0,656.5 L883.0,657.9 L884.0,659.3 L885.0,660.8 L886.0,662.2 L887.0,663.6 L888.0,665.0 L889.0,666.4 L890.0,667.9 L891.0,669.3 L892.0,670.7 L893.0,672.1 L894.0,673.5 L895.0,674.9 L896.0,676.3 L897.0,677.7 L898.0,679.0 L899.0,680.4 L900.0,681.8 L901.0,683.2 L902.0,684.6 L903.0,686.0 L904.0,687.3 L905.0,688.7 L906.0,690.1 L907.0,691.5 L908.0,692.8 L909.0,694.2 L910.0,695.6 L911.0,696.9 L912.0,698.3 L913.0,699.7 L914.0,701.0 L915.0,702.4 L916.0,703.8 L917.0,705.1 L918.0,706.5 L919.0,707.8 L920.0,709.2 L921.0,710.5 L922.0,711.9 L923.0,713.3 L924.0,714.6 L925.0,716.0 L926.0,717.3 L927.0,718.7 L928.0,720.0 L929.0,721.4 L930.0,722.7 L931.0,724.1 L932.0,725.5 L933.0,726.8 L934.0,728.2 L935.0,729.5 L936.0,730.8 L937.0,732.1 L938.0,733.5 L939.0,734.8 L940.0,736.1 L941.0,737.4 L942.0,738.7 L943.0,740.0 L944.0,741.3 L945.0,742.6 L946.0,743.9 L947.0,745.2 L948.0,746.5 L949.0,747.8 L950.0,749.1 L951.0,750.5 L952.0,751.8 L953.0,753.2 L954.0,754.5 L955.0,755.9 L956.0,757.3 L957.0,758.7 L958.0,760.1 L959.0,761.5 L960.0,763.0 L961.0,764.4 L962.0,765.9 L963.0,767.4 L964.0,768.8 L965.0,770.3 L966.0,771.8 L967.0,773.3 L968.0,774.8 L969.0,776.3 L970.0,777.9 L971.0,779.4 L972.0,780.9 L973.0,782.5 L974.0,784.0 L975.0,785.6 L976.0,787.2 L977.0,788.8 L978.0,790.3 L979.0,791.9 L980.0,793.5 L981.0,795.2 L982.0,796.8 L983.0,798.4 L984.0,800.0 L985.0,801.7 L986.0,803.3 L987.0,805.0 L988.0,806.6 L989.0,808.3 L990.0,810.0" fill="none" stroke="#6e1e1e" stroke-width="3.2"/>
<polygon points="605.6,367.1 611.3,382.7 627.5,383.5 614.8,393.9 619.1,410.0 605.6,400.8 592.1,410.0 596.4,393.9 583.7,383.5 599.9,382.7" fill="#fff" stroke="#8a4c4c" stroke-width="2.0" stroke-linejoin="bevel"/>
<polygon points="658.7,388.3 664.4,403.9 680.6,404.7 667.9,415.1 672.2,431.2 658.7,422.0 645.2,431.2 649.5,415.1 636.8,404.7 653.0,403.9" fill="#fff" stroke="#8a4c4c" stroke-width="2.0" stroke-linejoin="bevel"/>
<polygon points="713.9,424.5 719.6,440.1 735.8,440.9 723.1,451.3 727.4,467.4 713.9,458.2 700.4,467.4 704.7,451.3 692.0,440.9 708.2,440.1" fill="#fff" stroke="#8a4c4c" stroke-width="2.0" stroke-linejoin="bevel"/>
<polygon points="767.0,471.2 772.7,486.8 788.9,487.6 776.2,498.0 780.5,514.1 767.0,504.9 753.5,514.1 757.8,498.0 745.1,487.6 761.3,486.8" fill="#fff" stroke="#8a4c4c" stroke-width="2.0" stroke-linejoin="bevel"/>
<polygon points="824.4,545.5 830.1,561.1 846.3,561.9 833.6,572.3 837.9,588.4 824.4,579.2 810.9,588.4 815.2,572.3 802.5,561.9 818.7,561.1" fill="#fff" stroke="#8a4c4c" stroke-width="2.0" stroke-linejoin="bevel"/>
<polygon points="877.5,626.3 883.2,641.9 899.4,642.7 886.7,653.1 891.0,669.2 877.5,660.0 864.0,669.2 868.3,653.1 855.6,642.7 871.8,641.9" fill="#fff" stroke="#8a4c4c" stroke-width="2.0" stroke-linejoin="bevel"/>
<polygon points="932.7,702.7 938.4,718.3 954.6,719.1 941.9,729.5 946.2,745.6 932.7,736.4 919.2,745.6 923.5,729.5 910.8,719.1 927.0,718.3" fill="#fff" stroke="#8a4c4c" stroke-width="2.0" stroke-linejoin="bevel"/>
<polygon points="990.0,786.3 995.7,801.9 1011.9,802.7 999.2,813.1 1003.5,829.2 990.0,820.0 976.5,829.2 980.8,813.1 968.1,802.7 984.3,801.9" fill="#fff" stroke="#8a4c4c" stroke-width="2.0" stroke-linejoin="bevel"/>
<path d="M550.0,350.0 L551.0,350.0 L552.0,350.1 L553.0,350.1 L554.0,350.2 L555.0,350.2 L556.0,350.3 L557.0,350.3 L558.0,350.4 L559.0,350.4 L560.0,350.5 L561.0,350.5 L562.0,350.6 L563.0,350.6 L564.0,350.7 L565.0,350.7 L566.0,350.8 L567.0,350.8 L568.0,350.9 L569.0,350.9 L570.0,351.0 L571.0,351.0 L572.0,351.1 L573.0,351.1 L574.0,351.2 L575.0,351.2 L576.0,351.3 L577.0,351.3 L578.0,351.4 L579.0,351.4 L580.0,351.5 L581.0,351.6 L582.0,351.6 L583.0,351.7 L584.0,351.7 L585.0,351.8 L586.0,351.8 L587.0,351.9 L588.0,352.0 L589.0,352.0 L590.0,352.1 L591.0,352.1 L592.0,352.2 L593.0,352.2 L594.0,352.3 L595.0,352.4 L596.0,352.4 L597.0,352.5 L598.0,352.5 L599.0,352.6 L600.0,352.7 L601.0,352.7 L602.0,352.8 L603.0,352.8 L604.0,352.9 L605.0,353.0 L606.0,353.0 L607.0,353.1 L608.0,353.1 L609.0,353.2 L610.0,353.3 L611.0,353.3 L612.0,353.4 L613.0,353.4 L614.0,353.5 L615.0,353.6 L616.0,353.6 L617.0,353.7 L618.0,353.7 L619.0,353.8 L620.0,353.8 L621.0,353.9 L622.0,354.0 L623.0,354.0 L624.0,354.1 L625.0,354.1 L626.0,354.2 L627.0,354.3 L628.0,354.3 L629.0,354.4 L630.0,354.4 L631.0,354.5 L632.0,354.6 L633.0,354.6 L634.0,354.7 L635.0,354.8 L636.0,354.8 L637.0,354.9 L638.0,355.0 L639.0,355.1 L640.0,355.1 L641.0,355.2 L642.0,355.3 L643.0,355.4 L644.0,355.4 L645.0,355.5 L646.0,355.6 L647.0,355.7 L648.0,355.8 L649.0,355.8 L650.0,355.9 L651.0,356.0 L652.0,356.1 L653.0,356.2 L654.0,356.3 L655.0,356.4 L656.0,356.5 L657.0,356.6 L658.0,356.7 L659.0,356.8 L660.0,356.9 L661.0,357.1 L662.0,357.2 L663.0,357.3 L664.0,357.4 L665.0,357.6 L666.0,357.7 L667.0,357.9 L668.0,358.0 L669.0,358.2 L670.0,358.3 L671.0,358.5 L672.0,358.7 L673.0,358.9 L674.0,359.0 L675.0,359.2 L676.0,359.4 L677.0,359.6 L678.0,359.8 L679.0,360.0 L680.0,360.2 L681.0,360.4 L682.0,360.6 L683.0,360.8 L684.0,361.1 L685.0,361.3 L686.0,361.5 L687.0,361.8 L688.0,362.0 L689.0,362.2 L690.0,362.5 L691.0,362.7 L692.0,363.0 L693.0,363.3 L694.0,363.5 L695.0,363.8 L696.0,364.1 L697.0,364.4 L698.0,364.6 L699.0,364.9 L700.0,365.2 L701.0,365.5 L702.0,365.8 L703.0,366.1 L704.0,366.4 L705.0,366.7 L706.0,367.0 L707.0,367.3 L708.0,367.6 L709.0,368.0 L710.0,368.3 L711.0,368.6 L712.0,369.0 L713.0,369.3 L714.0,369.6 L715.0,370.0 L716.0,370.4 L717.0,370.7 L718.0,371.1 L719.0,371.6 L720.0,372.0 L721.0,372.5 L722.0,372.9 L723.0,373.4 L724.0,373.9 L725.0,374.4 L726.0,375.0 L727.0,375.5 L728.0,376.1 L729.0,376.6 L730.0,377.2 L731.0,377.8 L732.0,378.4 L733.0,379.0 L734.0,379.6 L735.0,380.3 L736.0,380.9 L737.0,381.6 L738.0,382.2 L739.0,382.9 L740.0,383.6 L741.0,384.3 L742.0,385.0 L743.0,385.7 L744.0,386.4 L745.0,387.1 L746.0,387.8 L747.0,388.5 L748.0,389.3 L749.0,390.0 L750.0,390.7 L751.0,391.5 L752.0,392.2 L753.0,393.0 L754.0,393.7 L755.0,394.5 L756.0,395.2 L757.0,396.0 L758.0,396.7 L759.0,397.5 L760.0,398.2 L761.0,399.0 L762.0,399.8 L763.0,400.5 L764.0,401.3 L765.0,402.0 L766.0,402.8 L767.0,403.5 L768.0,404.2 L769.0,405.0 L770.0,405.7 L771.0,406.5 L772.0,407.3 L773.0,408.0 L774.0,408.8 L775.0,409.6 L776.0,410.4 L777.0,411.2 L778.0,412.0 L779.0,412.8 L780.0,413.6 L781.0,414.4 L782.0,415.2 L783.0,416.0 L784.0,416.9 L785.0,417.7 L786.0,418.5 L787.0,419.4 L788.0,420.2 L789.0,421.1 L790.0,422.0 L791.0,422.8 L792.0,423.7 L793.0,424.6 L794.0,425.4 L795.0,426.3 L796.0,427.2 L797.0,428.1 L798.0,429.0 L799.0,429.9 L800.0,430.8 L801.0,431.7 L802.0,432.7 L803.0,433.6 L804.0,434.5 L805.0,435.4 L806.0,436.4 L807.0,437.3 L808.0,438.3 L809.0,439.2 L810.0,440.2 L811.0,441.1 L812.0,442.1 L813.0,443.1 L814.0,444.1 L815.0,445.0 L816.0,446.0 L817.0,447.0 L818.0,448.0 L819.0,449.0 L820.0,450.0 L821.0,451.0 L822.0,452.0 L823.0,453.1 L824.0,454.1 L825.0,455.1 L826.0,456.2 L827.0,457.2 L828.0,458.3 L829.0,459.4 L830.0,460.5 L831.0,461.6 L832.0,462.8 L833.0,463.9 L834.0,465.1 L835.0,466.3 L836.0,467.5 L837.0,468.7 L838.0,469.9 L839.0,471.1 L840.0,472.3 L841.0,473.5 L842.0,474.8 L843.0,476.0 L844.0,477.3 L845.0,478.6 L846.0,479.8 L847.0,481.1 L848.0,482.4 L849.0,483.6 L850.0,484.9 L851.0,486.2 L852.0,487.5 L853.0,488.8 L854.0,490.0 L855.0,491.3 L856.0,492.6 L857.0,493.9 L858.0,495.1 L859.0,496.4 L860.0,497.7 L861.0,498.9 L862.0,500.2 L863.0,501.5 L864.0,502.7 L865.0,503.9 L866.0,505.2 L867.0,506.4 L868.0,507.6 L869.0,508.8 L870.0,510.0 L871.0,511.2 L872.0,512.3 L873.0,513.5 L874.0,514.6 L875.0,515.8 L876.0,516.9 L877.0,518.0 L878.0,519.1 L879.0,520.2 L880.0,521.3 L881.0,522.4 L882.0,523.4 L883.0,524.5 L884.0,525.6 L885.0,526.6 L886.0,527.7 L887.0,528.7 L888.0,529.7 L889.0,530.8 L890.0,531.8 L891.0,532.8 L892.0,533.9 L893.0,534.9 L894.0,535.9 L895.0,536.9 L896.0,537.9 L897.0,538.9 L898.0,539.9 L899.0,540.9 L900.0,541.9 L901.0,542.9 L902.0,543.9 L903.0,544.9 L904.0,545.9 L905.0,546.9 L906.0,547.9 L907.0,548.9 L908.0,549.9 L909.0,550.9 L910.0,551.9 L911.0,552.9 L912.0,553.9 L913.0,554.9 L914.0,556.0 L915.0,557.0 L916.0,558.0 L917.0,559.0 L918.0,560.0 L919.0,561.0 L920.0,562.1 L921.0,563.1 L922.0,564.1 L923.0,565.2 L924.0,566.2 L925.0,567.3 L926.0,568.3 L927.0,569.4 L928.0,570.5 L929.0,571.6 L930.0,572.6 L931.0,573.7 L932.0,574.8 L933.0,575.9 L934.0,577.0 L935.0,578.2 L936.0,579.3 L937.0,580.4 L938.0,581.5 L939.0,582.6 L940.0,583.8 L941.0,584.9 L942.0,586.0 L943.0,587.2 L944.0,588.3 L945.0,589.4 L946.0,590.6 L947.0,591.7 L948.0,592.9 L949.0,594.0 L950.0,595.2 L951.0,596.4 L952.0,597.5 L953.0,598.7 L954.0,599.9 L955.0,601.0 L956.0,602.2 L957.0,603.4 L958.0,604.6 L959.0,605.7 L960.0,606.9 L961.0,608.1 L962.0,609.3 L963.0,610.5 L964.0,611.7 L965.0,612.9 L966.0,614.1 L967.0,615.3 L968.0,616.5 L969.0,617.7 L970.0,618.9 L971.0,620.1 L972.0,621.3 L973.0,622.6 L974.0,623.8 L975.0,625.0 L976.0,626.2 L977.0,627.4 L978.0,628.7 L979.0,629.9 L980.0,631.1 L981.0,632.4 L982.0,633.6 L983.0,634.9 L984.0,636.1 L985.0,637.3 L986.0,638.6 L987.0,639.8 L988.0,641.1 L989.0,642.3 L990.0,643.6 L991.0,644.9 L992.0,646.1 L993.0,647.4 L994.0,648.6 L995.0,649.9 L996.0,651.1 L997.0,652.4 L998.0,653.6 L999.0,654.9 L1000.0,656.2 L1001.0,657.4 L1002.0,658.7 L1003.0,660.0 L1004.0,661.2 L1005.0,662.5 L1006.0,663.8 L1007.0,665.0 L1008.0,666.3 L1009.0,667.6 L1010.0,668.9 L1011.0,670.2 L1012.0,671.5 L1013.0,672.8 L1014.0,674.1 L1015.0,675.4 L1016.0,676.7 L1017.0,678.0 L1018.0,679.3 L1019.0,680.6 L1020.0,681.9 L1021.0,683.3 L1022.0,684.6 L1023.0,686.0 L1024.0,687.3 L1025.0,688.7 L1026.0,690.0 L1027.0,691.4 L1028.0,692.8 L1029.0,694.2 L1030.0,695.6 L1031.0,697.0 L1032.0,698.4 L1033.0,699.8 L1034.0,701.2 L1035.0,702.7 L1036.0,704.1 L1037.0,705.6 L1038.0,707.1 L1039.0,708.5 L1040.0,710.0 L1041.0,711.5 L1042.0,713.0 L1043.0,714.5 L1044.0,716.1 L1045.0,717.6 L1046.0,719.2 L1047.0,720.8 L1048.0,722.3 L1049.0,724.0 L1050.0,725.6 L1051.0,727.2 L1052.0,728.8 L1053.0,730.5 L1054.0,732.2 L1055.0,733.8 L1056.0,735.5 L1057.0,737.2 L1058.0,738.9 L1059.0,740.6 L1060.0,742.4 L1061.0,744.1 L1062.0,745.8 L1063.0,747.6 L1064.0,749.3 L1065.0,751.1 L1066.0,752.9 L1067.0,754.6 L1068.0,756.4 L1069.0,758.2 L1070.0,760.0" fill="none" stroke="#28286e" stroke-width="3.2"/>
<polygon points="605.6,328.4 626.2,365.3 585.0,365.3" fill="#fff" stroke="#5e5ea0" stroke-width="2.0" stroke-linejoin="miter"/>
<polygon points="658.7,332.2 679.3,369.1 638.1,369.1" fill="#fff" stroke="#5e5ea0" stroke-width="2.0" stroke-linejoin="miter"/>
<polygon points="713.9,345.0 734.5,381.9 693.3,381.9" fill="#fff" stroke="#5e5ea0" stroke-width="2.0" stroke-linejoin="miter"/>
<polygon points="767.0,378.9 787.6,415.8 746.4,415.8" fill="#fff" stroke="#5e5ea0" stroke-width="2.0" stroke-linejoin="miter"/>
<polygon points="824.4,429.9 845.0,466.8 803.8,466.8" fill="#fff" stroke="#5e5ea0" stroke-width="2.0" stroke-linejoin="miter"/>
<polygon points="875.3,491.5 895.9,528.4 854.7,528.4" fill="#fff" stroke="#5e5ea0" stroke-width="2.0" stroke-linejoin="miter"/>
<polygon points="932.7,551.0 953.3,587.9 912.1,587.9" fill="#fff" stroke="#5e5ea0" stroke-width="2.0" stroke-linejoin="miter"/>
<polygon points="990.0,619.0 1010.6,655.9 969.4,655.9" fill="#fff" stroke="#5e5ea0" stroke-width="2.0" stroke-linejoin="miter"/>
<polygon points="1041.0,686.9 1061.6,723.8 1020.4,723.8" fill="#fff" stroke="#5e5ea0" stroke-width="2.0" stroke-linejoin="miter"/>
<path d="M550.0,355.0 L551.0,355.0 L552.0,355.1 L553.0,355.1 L554.0,355.2 L555.0,355.2 L556.0,355.3 L557.0,355.3 L558.0,355.4 L559.0,355.4 L560.0,355.5 L561.0,355.5 L562.0,355.5 L563.0,355.6 L564.0,355.6 L565.0,355.7 L566.0,355.7 L567.0,355.8 L568.0,355.8 L569.0,355.9 L570.0,355.9 L571.0,356.0 L572.0,356.1 L573.0,356.1 L574.0,356.2 L575.0,356.2 L576.0,356.3 L577.0,356.3 L578.0,356.4 L579.0,356.4 L580.0,356.5 L581.0,356.5 L582.0,356.6 L583.0,356.6 L584.0,356.7 L585.0,356.8 L586.0,356.8 L587.0,356.9 L588.0,356.9 L589.0,357.0 L590.0,357.1 L591.0,357.1 L592.0,357.2 L593.0,357.2 L594.0,357.3 L595.0,357.3 L596.0,357.4 L597.0,357.5 L598.0,357.5 L599.0,357.6 L600.0,357.7 L601.0,357.7 L602.0,357.8 L603.0,357.8 L604.0,357.9 L605.0,358.0 L606.0,358.0 L607.0,358.1 L608.0,358.1 L609.0,358.2 L610.0,358.3 L611.0,358.3 L612.0,358.4 L613.0,358.4 L614.0,358.5 L615.0,358.6 L616.0,358.6 L617.0,358.7 L618.0,358.7 L619.0,358.8 L620.0,358.9 L621.0,358.9 L622.0,359.0 L623.0,359.0 L624.0,359.1 L625.0,359.2 L626.0,359.2 L627.0,359.3 L628.0,359.3 L629.0,359.4 L630.0,359.5 L631.0,359.5 L632.0,359.6 L633.0,359.7 L634.0,359.7 L635.0,359.8 L636.0,359.9 L637.0,359.9 L638.0,360.0 L639.0,360.1 L640.0,360.2 L641.0,360.2 L642.0,360.3 L643.0,360.4 L644.0,360.5 L645.0,360.6 L646.0,360.7 L647.0,360.8 L648.0,360.9 L649.0,360.9 L650.0,361.0 L651.0,361.1 L652.0,361.2 L653.0,361.4 L654.0,361.5 L655.0,361.6 L656.0,361.7 L657.0,361.8 L658.0,361.9 L659.0,362.0 L660.0,362.2 L661.0,362.3 L662.0,362.5 L663.0,362.6 L664.0,362.8 L665.0,363.0 L666.0,363.2 L667.0,363.4 L668.0,363.6 L669.0,363.8 L670.0,364.1 L671.0,364.3 L672.0,364.6 L673.0,364.8 L674.0,365.1 L675.0,365.4 L676.0,365.6 L677.0,365.9 L678.0,366.2 L679.0,366.5 L680.0,366.9 L681.0,367.2 L682.0,367.5 L683.0,367.8 L684.0,368.2 L685.0,368.5 L686.0,368.9 L687.0,369.2 L688.0,369.6 L689.0,370.0 L690.0,370.3 L691.0,370.7 L692.0,371.1 L693.0,371.5 L694.0,371.9 L695.0,372.3 L696.0,372.7 L697.0,373.1 L698.0,373.5 L699.0,373.9 L700.0,374.3 L701.0,374.7 L702.0,375.1 L703.0,375.5 L704.0,376.0 L705.0,376.4 L706.0,376.8 L707.0,377.2 L708.0,377.7 L709.0,378.1 L710.0,378.5 L711.0,379.0 L712.0,379.4 L713.0,379.8 L714.0,380.2 L715.0,380.7 L716.0,381.1 L717.0,381.6 L718.0,382.0 L719.0,382.5 L720.0,383.0 L721.0,383.5 L722.0,383.9 L723.0,384.4 L724.0,384.9 L725.0,385.5 L726.0,386.0 L727.0,386.5 L728.0,387.0 L729.0,387.6 L730.0,388.1 L731.0,388.7 L732.0,389.2 L733.0,389.8 L734.0,390.4 L735.0,391.0 L736.0,391.6 L737.0,392.2 L738.0,392.8 L739.0,393.4 L740.0,394.0 L741.0,394.6 L742.0,395.2 L743.0,395.9 L744.0,396.5 L745.0,397.1 L746.0,397.8 L747.0,398.4 L748.0,399.1 L749.0,399.8 L750.0,400.4 L751.0,401.1 L752.0,401.8 L753.0,402.5 L754.0,403.2 L755.0,403.9 L756.0,404.6 L757.0,405.3 L758.0,406.0 L759.0,406.7 L760.0,407.4 L761.0,408.2 L762.0,408.9 L763.0,409.6 L764.0,410.4 L765.0,411.1 L766.0,411.9 L767.0,412.6 L768.0,413.4 L769.0,414.1 L770.0,414.9 L771.0,415.7 L772.0,416.5 L773.0,417.3 L774.0,418.1 L775.0,418.9 L776.0,419.8 L777.0,420.6 L778.0,421.5 L779.0,422.4 L780.0,423.2 L781.0,424.1 L782.0,425.0 L783.0,426.0 L784.0,426.9 L785.0,427.8 L786.0,428.8 L787.0,429.7 L788.0,430.7 L789.0,431.7 L790.0,432.6 L791.0,433.6 L792.0,434.6 L793.0,435.6 L794.0,436.6 L795.0,437.6 L796.0,438.7 L797.0,439.7 L798.0,440.7 L799.0,441.8 L800.0,442.8 L801.0,443.9 L802.0,444.9 L803.0,446.0 L804.0,447.1 L805.0,448.1 L806.0,449.2 L807.0,450.3 L808.0,451.4 L809.0,452.5 L810.0,453.5 L811.0,454.6 L812.0,455.7 L813.0,456.8 L814.0,457.9 L815.0,459.0 L816.0,460.1 L817.0,461.2 L818.0,462.3 L819.0,463.4 L820.0,464.5 L821.0,465.6 L822.0,466.8 L823.0,467.9 L824.0,469.0 L825.0,470.1 L826.0,471.2 L827.0,472.3 L828.0,473.4 L829.0,474.6 L830.0,475.7 L831.0,476.9 L832.0,478.0 L833.0,479.2 L834.0,480.4 L835.0,481.6 L836.0,482.8 L837.0,484.0 L838.0,485.2 L839.0,486.4 L840.0,487.6 L841.0,488.8 L842.0,490.0 L843.0,491.3 L844.0,492.5 L845.0,493.7 L846.0,495.0 L847.0,496.2 L848.0,497.5 L849.0,498.7 L850.0,500.0 L851.0,501.3 L852.0,502.5 L853.0,503.8 L854.0,505.0 L855.0,506.3 L856.0,507.6 L857.0,508.9 L858.0,510.1 L859.0,511.4 L860.0,512.7 L861.0,514.0 L862.0,515.2 L863.0,516.5 L864.0,517.8 L865.0,519.1 L866.0,520.3 L867.0,521.6 L868.0,522.9 L869.0,524.1 L870.0,525.4 L871.0,526.7 L872.0,527.9 L873.0,529.2 L874.0,530.4 L875.0,531.7 L876.0,532.9 L877.0,534.2 L878.0,535.4 L879.0,536.7 L880.0,537.9 L881.0,539.1 L882.0,540.3 L883.0,541.6 L884.0,542.8 L885.0,544.0 L886.0,545.2 L887.0,546.5 L888.0,547.7 L889.0,548.9 L890.0,550.1 L891.0,551.3 L892.0,552.5 L893.0,553.7 L894.0,554.9 L895.0,556.2 L896.0,557.4 L897.0,558.6 L898.0,559.8 L899.0,561.0 L900.0,562.2 L901.0,563.4 L902.0,564.6 L903.0,565.8 L904.0,567.0 L905.0,568.3 L906.0,569.5 L907.0,570.7 L908.0,571.9 L909.0,573.1 L910.0,574.3 L911.0,575.6 L912.0,576.8 L913.0,578.0 L914.0,579.2 L915.0,580.4 L916.0,581.7 L917.0,582.9 L918.0,584.1 L919.0,585.4 L920.0,586.6 L921.0,587.8 L922.0,589.1 L923.0,590.3 L924.0,591.6 L925.0,592.8 L926.0,594.1 L927.0,595.3 L928.0,596.6 L929.0,597.9 L930.0,599.1 L931.0,600.4 L932.0,601.7 L933.0,603.0 L934.0,604.3 L935.0,605.6 L936.0,606.9 L937.0,608.2 L938.0,609.5 L939.0,610.8 L940.0,612.1 L941.0,613.4 L942.0,614.7 L943.0,616.0 L944.0,617.4 L945.0,618.7 L946.0,620.0 L947.0,621.4 L948.0,622.7 L949.0,624.0 L950.0,625.4 L951.0,626.7 L952.0,628.1 L953.0,629.4 L954.0,630.8 L955.0,632.2 L956.0,633.5 L957.0,634.9 L958.0,636.3 L959.0,637.6 L960.0,639.0 L961.0,640.4 L962.0,641.7 L963.0,643.1 L964.0,644.5 L965.0,645.9 L966.0,647.2 L967.0,648.6 L968.0,650.0 L969.0,651.4 L970.0,652.8 L971.0,654.1 L972.0,655.5 L973.0,656.9 L974.0,658.3 L975.0,659.7 L976.0,661.1 L977.0,662.5 L978.0,663.8 L979.0,665.2 L980.0,666.6 L981.0,668.0 L982.0,669.4 L983.0,670.7 L984.0,672.1 L985.0,673.5 L986.0,674.9 L987.0,676.3 L988.0,677.6 L989.0,679.0 L990.0,680.4 L991.0,681.8 L992.0,683.1 L993.0,684.5 L994.0,685.9 L995.0,687.3 L996.0,688.7 L997.0,690.0 L998.0,691.4 L999.0,692.8 L1000.0,694.2 L1001.0,695.6 L1002.0,697.0 L1003.0,698.3 L1004.0,699.7 L1005.0,701.1 L1006.0,702.5 L1007.0,703.9 L1008.0,705.3 L1009.0,706.7 L1010.0,708.1 L1011.0,709.4 L1012.0,710.8 L1013.0,712.2 L1014.0,713.6 L1015.0,715.0 L1016.0,716.4 L1017.0,717.8 L1018.0,719.2 L1019.0,720.6 L1020.0,722.0 L1021.0,723.4 L1022.0,724.8 L1023.0,726.2 L1024.0,727.6 L1025.0,729.0 L1026.0,730.4 L1027.0,731.8 L1028.0,733.2 L1029.0,734.6 L1030.0,736.0 L1031.0,737.4 L1032.0,738.8 L1033.0,740.2 L1034.0,741.6 L1035.0,743.0 L1036.0,744.4 L1037.0,745.8 L1038.0,747.2 L1039.0,748.6 L1040.0,750.0" fill="none" stroke="#2e7a36" stroke-width="3.2"/>
<polygon points="605.6,382.6 626.2,345.7 585.0,345.7" fill="#fff" stroke="#6a9e6a" stroke-width="2.0" stroke-linejoin="miter"/>
<polygon points="658.7,386.6 679.3,349.7 638.1,349.7" fill="#fff" stroke="#6a9e6a" stroke-width="2.0" stroke-linejoin="miter"/>
<polygon points="713.9,404.8 734.5,367.9 693.3,367.9" fill="#fff" stroke="#6a9e6a" stroke-width="2.0" stroke-linejoin="miter"/>
<polygon points="769.1,438.8 789.7,401.9 748.5,401.9" fill="#fff" stroke="#6a9e6a" stroke-width="2.0" stroke-linejoin="miter"/>
<polygon points="824.4,494.0 845.0,457.1 803.8,457.1" fill="#fff" stroke="#6a9e6a" stroke-width="2.0" stroke-linejoin="miter"/>
<polygon points="879.6,562.0 900.2,525.1 859.0,525.1" fill="#fff" stroke="#6a9e6a" stroke-width="2.0" stroke-linejoin="miter"/>
<polygon points="934.8,629.9 955.4,593.0 914.2,593.0" fill="#fff" stroke="#6a9e6a" stroke-width="2.0" stroke-linejoin="miter"/>
<polygon points="987.9,702.1 1008.5,665.2 967.3,665.2" fill="#fff" stroke="#6a9e6a" stroke-width="2.0" stroke-linejoin="miter"/>
<polygon points="1040.0,774.6 1060.6,737.7 1019.4,737.7" fill="#fff" stroke="#6a9e6a" stroke-width="2.0" stroke-linejoin="miter"/>
<path d="M550.0,345.0 L551.0,345.1 L552.0,345.2 L553.0,345.3 L554.0,345.4 L555.0,345.5 L556.0,345.5 L557.0,345.6 L558.0,345.7 L559.0,345.8 L560.0,345.9 L561.0,346.0 L562.0,346.1 L563.0,346.2 L564.0,346.3 L565.0,346.4 L566.0,346.4 L567.0,346.5 L568.0,346.6 L569.0,346.7 L570.0,346.8 L571.0,346.9 L572.0,347.0 L573.0,347.1 L574.0,347.2 L575.0,347.3 L576.0,347.3 L577.0,347.4 L578.0,347.5 L579.0,347.6 L580.0,347.7 L581.0,347.8 L582.0,347.9 L583.0,348.0 L584.0,348.1 L585.0,348.2 L586.0,348.2 L587.0,348.3 L588.0,348.4 L589.0,348.5 L590.0,348.6 L591.0,348.7 L592.0,348.8 L593.0,348.9 L594.0,349.0 L595.0,349.1 L596.0,349.1 L597.0,349.2 L598.0,349.3 L599.0,349.4 L600.0,349.5 L601.0,349.6 L602.0,349.7 L603.0,349.8 L604.0,349.9 L605.0,349.9 L606.0,350.0 L607.0,350.1 L608.0,350.2 L609.0,350.3 L610.0,350.4 L611.0,350.5 L612.0,350.5 L613.0,350.6 L614.0,350.7 L615.0,350.8 L616.0,350.9 L617.0,351.0 L618.0,351.0 L619.0,351.1 L620.0,351.2 L621.0,351.3 L622.0,351.3 L623.0,351.4 L624.0,351.5 L625.0,351.6 L626.0,351.7 L627.0,351.7 L628.0,351.8 L629.0,351.9 L630.0,352.0 L631.0,352.0 L632.0,352.1 L633.0,352.2 L634.0,352.3 L635.0,352.4 L636.0,352.5 L637.0,352.5 L638.0,352.6 L639.0,352.7 L640.0,352.8 L641.0,352.9 L642.0,353.0 L643.0,353.1 L644.0,353.2 L645.0,353.2 L646.0,353.3 L647.0,353.4 L648.0,353.5 L649.0,353.6 L650.0,353.7 L651.0,353.8 L652.0,353.9 L653.0,354.0 L654.0,354.2 L655.0,354.3 L656.0,354.4 L657.0,354.5 L658.0,354.6 L659.0,354.7 L660.0,354.9 L661.0,355.0 L662.0,355.1 L663.0,355.2 L664.0,355.4 L665.0,355.5 L666.0,355.7 L667.0,355.8 L668.0,355.9 L669.0,356.1 L670.0,356.2 L671.0,356.4 L672.0,356.5 L673.0,356.7 L674.0,356.8 L675.0,357.0 L676.0,357.2 L677.0,357.3 L678.0,357.5 L679.0,357.7 L680.0,357.9 L681.0,358.0 L682.0,358.2 L683.0,358.4 L684.0,358.6 L685.0,358.8 L686.0,359.0 L687.0,359.1 L688.0,359.3 L689.0,359.5 L690.0,359.7 L691.0,359.9 L692.0,360.1 L693.0,360.4 L694.0,360.6 L695.0,360.8 L696.0,361.0 L697.0,361.2 L698.0,361.4 L699.0,361.7 L700.0,361.9 L701.0,362.1 L702.0,362.3 L703.0,362.6 L704.0,362.8 L705.0,363.1 L706.0,363.3 L707.0,363.5 L708.0,363.8 L709.0,364.0 L710.0,364.3 L711.0,364.5 L712.0,364.8 L713.0,365.1 L714.0,365.3 L715.0,365.6 L716.0,365.9 L717.0,366.2 L718.0,366.5 L719.0,366.8 L720.0,367.1 L721.0,367.4 L722.0,367.7 L723.0,368.1 L724.0,368.4 L725.0,368.8 L726.0,369.1 L727.0,369.5 L728.0,369.9 L729.0,370.2 L730.0,370.6 L731.0,371.0 L732.0,371.4 L733.0,371.8 L734.0,372.2 L735.0,372.6 L736.0,373.1 L737.0,373.5 L738.0,373.9 L739.0,374.4 L740.0,374.8 L741.0,375.2 L742.0,375.7 L743.0,376.1 L744.0,376.6 L745.0,377.0 L746.0,377.5 L747.0,378.0 L748.0,378.4 L749.0,378.9 L750.0,379.4 L751.0,379.9 L752.0,380.3 L753.0,380.8 L754.0,381.3 L755.0,381.8 L756.0,382.3 L757.0,382.8 L758.0,383.3 L759.0,383.7 L760.0,384.2 L761.0,384.7 L762.0,385.2 L763.0,385.7 L764.0,386.2 L765.0,386.7 L766.0,387.2 L767.0,387.7 L768.0,388.2 L769.0,388.7 L770.0,389.1 L771.0,389.6 L772.0,390.1 L773.0,390.6 L774.0,391.1 L775.0,391.6 L776.0,392.1 L777.0,392.6 L778.0,393.1 L779.0,393.6 L780.0,394.1 L781.0,394.7 L782.0,395.2 L783.0,395.7 L784.0,396.2 L785.0,396.7 L786.0,397.3 L787.0,397.8 L788.0,398.3 L789.0,398.9 L790.0,399.4 L791.0,400.0 L792.0,400.5 L793.0,401.1 L794.0,401.6 L795.0,402.2 L796.0,402.7 L797.0,403.3 L798.0,403.9 L799.0,404.4 L800.0,405.0 L801.0,405.6 L802.0,406.2 L803.0,406.8 L804.0,407.4 L805.0,408.0 L806.0,408.6 L807.0,409.2 L808.0,409.8 L809.0,410.4 L810.0,411.0 L811.0,411.6 L812.0,412.3 L813.0,412.9 L814.0,413.5 L815.0,414.2 L816.0,414.8 L817.0,415.5 L818.0,416.2 L819.0,416.8 L820.0,417.5 L821.0,418.2 L822.0,418.8 L823.0,419.5 L824.0,420.2 L825.0,420.9 L826.0,421.6 L827.0,422.4 L828.0,423.1 L829.0,423.8 L830.0,424.6 L831.0,425.4 L832.0,426.2 L833.0,426.9 L834.0,427.7 L835.0,428.6 L836.0,429.4 L837.0,430.2 L838.0,431.0 L839.0,431.9 L840.0,432.7 L841.0,433.6 L842.0,434.5 L843.0,435.4 L844.0,436.2 L845.0,437.1 L846.0,438.0 L847.0,438.9 L848.0,439.8 L849.0,440.8 L850.0,441.7 L851.0,442.6 L852.0,443.5 L853.0,444.5 L854.0,445.4 L855.0,446.3 L856.0,447.3 L857.0,448.2 L858.0,449.1 L859.0,450.1 L860.0,451.0 L861.0,452.0 L862.0,452.9 L863.0,453.9 L864.0,454.8 L865.0,455.8 L866.0,456.7 L867.0,457.7 L868.0,458.6 L869.0,459.6 L870.0,460.5 L871.0,461.5 L872.0,462.4 L873.0,463.3 L874.0,464.3 L875.0,465.2 L876.0,466.1 L877.0,467.0 L878.0,467.9 L879.0,468.9 L880.0,469.8 L881.0,470.7 L882.0,471.6 L883.0,472.5 L884.0,473.4 L885.0,474.3 L886.0,475.2 L887.0,476.1 L888.0,476.9 L889.0,477.8 L890.0,478.7 L891.0,479.6 L892.0,480.5 L893.0,481.4 L894.0,482.3 L895.0,483.2 L896.0,484.1 L897.0,485.0 L898.0,485.9 L899.0,486.8 L900.0,487.7 L901.0,488.6 L902.0,489.5 L903.0,490.4 L904.0,491.3 L905.0,492.2 L906.0,493.1 L907.0,494.0 L908.0,494.9 L909.0,495.8 L910.0,496.7 L911.0,497.6 L912.0,498.5 L913.0,499.4 L914.0,500.4 L915.0,501.3 L916.0,502.2 L917.0,503.2 L918.0,504.1 L919.0,505.0 L920.0,506.0 L921.0,506.9 L922.0,507.9 L923.0,508.8 L924.0,509.8 L925.0,510.7 L926.0,511.7 L927.0,512.7 L928.0,513.6 L929.0,514.6 L930.0,515.6 L931.0,516.6 L932.0,517.6 L933.0,518.6 L934.0,519.6 L935.0,520.6 L936.0,521.6 L937.0,522.6 L938.0,523.7 L939.0,524.7 L940.0,525.7 L941.0,526.7 L942.0,527.8 L943.0,528.8 L944.0,529.8 L945.0,530.9 L946.0,531.9 L947.0,533.0 L948.0,534.0 L949.0,535.1 L950.0,536.1 L951.0,537.2 L952.0,538.2 L953.0,539.3 L954.0,540.4 L955.0,541.5 L956.0,542.5 L957.0,543.6 L958.0,544.7 L959.0,545.8 L960.0,546.9 L961.0,548.0 L962.0,549.1 L963.0,550.2 L964.0,551.4 L965.0,552.5 L966.0,553.6 L967.0,554.7 L968.0,555.9 L969.0,557.0 L970.0,558.2 L971.0,559.3 L972.0,560.5 L973.0,561.7 L974.0,562.8 L975.0,564.0 L976.0,565.2 L977.0,566.4 L978.0,567.6 L979.0,568.8 L980.0,570.0 L981.0,571.2 L982.0,572.4 L983.0,573.7 L984.0,574.9 L985.0,576.2 L986.0,577.4 L987.0,578.7 L988.0,579.9 L989.0,581.2 L990.0,582.5 L991.0,583.7 L992.0,585.0 L993.0,586.3 L994.0,587.6 L995.0,588.9 L996.0,590.2 L997.0,591.5 L998.0,592.8 L999.0,594.1 L1000.0,595.4 L1001.0,596.8 L1002.0,598.1 L1003.0,599.4 L1004.0,600.8 L1005.0,602.1 L1006.0,603.5 L1007.0,604.8 L1008.0,606.2 L1009.0,607.6 L1010.0,609.0 L1011.0,610.4 L1012.0,611.8 L1013.0,613.2 L1014.0,614.6 L1015.0,616.0 L1016.0,617.4 L1017.0,618.9 L1018.0,620.3 L1019.0,621.8 L1020.0,623.3 L1021.0,624.7 L1022.0,626.2 L1023.0,627.7 L1024.0,629.2 L1025.0,630.8 L1026.0,632.3 L1027.0,633.8 L1028.0,635.4 L1029.0,637.0 L1030.0,638.5 L1031.0,640.1 L1032.0,641.7 L1033.0,643.4 L1034.0,645.0 L1035.0,646.6 L1036.0,648.3 L1037.0,649.9 L1038.0,651.6 L1039.0,653.3 L1040.0,655.0 L1041.0,656.7 L1042.0,658.5 L1043.0,660.2 L1044.0,662.0 L1045.0,663.8 L1046.0,665.6 L1047.0,667.4 L1048.0,669.3 L1049.0,671.2 L1050.0,673.1 L1051.0,675.0 L1052.0,677.0 L1053.0,679.0 L1054.0,681.0 L1055.0,683.1 L1056.0,685.1 L1057.0,687.2 L1058.0,689.3 L1059.0,691.4 L1060.0,693.6 L1061.0,695.8 L1062.0,697.9 L1063.0,700.2 L1064.0,702.4 L1065.0,704.6 L1066.0,706.9 L1067.0,709.2 L1068.0,711.5 L1069.0,713.8 L1070.0,716.1 L1071.0,718.4 L1072.0,720.8 L1073.0,723.1 L1074.0,725.5 L1075.0,727.9 L1076.0,730.3 L1077.0,732.7 L1078.0,735.1 L1079.0,737.6 L1080.0,740.0" fill="none" stroke="#bc4640" stroke-width="3.2"/>
<ellipse cx="605.6" cy="350.0" rx="16.3" ry="17.1" fill="#fff" stroke="#c46e68" stroke-width="2.0"/>
<ellipse cx="658.7" cy="354.7" rx="16.3" ry="17.1" fill="#fff" stroke="#c46e68" stroke-width="2.0"/>
<ellipse cx="713.9" cy="365.3" rx="16.3" ry="17.1" fill="#fff" stroke="#c46e68" stroke-width="2.0"/>
<ellipse cx="769.1" cy="388.7" rx="16.3" ry="17.1" fill="#fff" stroke="#c46e68" stroke-width="2.0"/>
<ellipse cx="824.4" cy="420.5" rx="16.3" ry="17.1" fill="#fff" stroke="#c46e68" stroke-width="2.0"/>
<ellipse cx="879.6" cy="469.4" rx="16.3" ry="17.1" fill="#fff" stroke="#c46e68" stroke-width="2.0"/>
<ellipse cx="934.8" cy="520.4" rx="16.3" ry="17.1" fill="#fff" stroke="#c46e68" stroke-width="2.0"/>
<ellipse cx="987.9" cy="579.8" rx="16.3" ry="17.1" fill="#fff" stroke="#c46e68" stroke-width="2.0"/>
<ellipse cx="1044.4" cy="662.7" rx="16.3" ry="17.1" fill="#fff" stroke="#c46e68" stroke-width="2.0"/>
<path d="M550.0,365.0 L551.0,365.1 L552.0,365.3 L553.0,365.4 L554.0,365.6 L555.0,365.7 L556.0,365.8 L557.0,366.0 L558.0,366.1 L559.0,366.3 L560.0,366.4 L561.0,366.6 L562.0,366.7 L563.0,366.9 L564.0,367.0 L565.0,367.2 L566.0,367.3 L567.0,367.5 L568.0,367.6 L569.0,367.8 L570.0,367.9 L571.0,368.1 L572.0,368.2 L573.0,368.4 L574.0,368.5 L575.0,368.7 L576.0,368.8 L577.0,369.0 L578.0,369.2 L579.0,369.3 L580.0,369.5 L581.0,369.6 L582.0,369.8 L583.0,370.0 L584.0,370.1 L585.0,370.3 L586.0,370.5 L587.0,370.6 L588.0,370.8 L589.0,370.9 L590.0,371.1 L591.0,371.3 L592.0,371.5 L593.0,371.6 L594.0,371.8 L595.0,372.0 L596.0,372.1 L597.0,372.3 L598.0,372.5 L599.0,372.6 L600.0,372.8 L601.0,373.0 L602.0,373.2 L603.0,373.3 L604.0,373.5 L605.0,373.7 L606.0,373.9 L607.0,374.0 L608.0,374.2 L609.0,374.4 L610.0,374.6 L611.0,374.7 L612.0,374.9 L613.0,375.1 L614.0,375.3 L615.0,375.4 L616.0,375.6 L617.0,375.8 L618.0,375.9 L619.0,376.1 L620.0,376.3 L621.0,376.4 L622.0,376.6 L623.0,376.8 L624.0,377.0 L625.0,377.1 L626.0,377.3 L627.0,377.5 L628.0,377.7 L629.0,377.9 L630.0,378.0 L631.0,378.2 L632.0,378.4 L633.0,378.6 L634.0,378.8 L635.0,379.0 L636.0,379.2 L637.0,379.4 L638.0,379.6 L639.0,379.8 L640.0,380.0 L641.0,380.2 L642.0,380.4 L643.0,380.6 L644.0,380.8 L645.0,381.0 L646.0,381.2 L647.0,381.5 L648.0,381.7 L649.0,381.9 L650.0,382.2 L651.0,382.4 L652.0,382.6 L653.0,382.9 L654.0,383.1 L655.0,383.4 L656.0,383.7 L657.0,383.9 L658.0,384.2 L659.0,384.5 L660.0,384.8 L661.0,385.1 L662.0,385.4 L663.0,385.7 L664.0,386.0 L665.0,386.3 L666.0,386.7 L667.0,387.0 L668.0,387.4 L669.0,387.7 L670.0,388.1 L671.0,388.5 L672.0,388.9 L673.0,389.3 L674.0,389.7 L675.0,390.1 L676.0,390.5 L677.0,390.9 L678.0,391.4 L679.0,391.8 L680.0,392.2 L681.0,392.7 L682.0,393.2 L683.0,393.6 L684.0,394.1 L685.0,394.6 L686.0,395.0 L687.0,395.5 L688.0,396.0 L689.0,396.5 L690.0,397.0 L691.0,397.5 L692.0,398.0 L693.0,398.5 L694.0,399.0 L695.0,399.6 L696.0,400.1 L697.0,400.6 L698.0,401.1 L699.0,401.7 L700.0,402.2 L701.0,402.7 L702.0,403.3 L703.0,403.8 L704.0,404.4 L705.0,404.9 L706.0,405.5 L707.0,406.0 L708.0,406.6 L709.0,407.1 L710.0,407.7 L711.0,408.3 L712.0,408.8 L713.0,409.4 L714.0,410.0 L715.0,410.5 L716.0,411.1 L717.0,411.7 L718.0,412.3 L719.0,412.9 L720.0,413.5 L721.0,414.1 L722.0,414.7 L723.0,415.3 L724.0,415.9 L725.0,416.5 L726.0,417.2 L727.0,417.8 L728.0,418.5 L729.0,419.1 L730.0,419.8 L731.0,420.4 L732.0,421.1 L733.0,421.8 L734.0,422.5 L735.0,423.2 L736.0,423.8 L737.0,424.5 L738.0,425.3 L739.0,426.0 L740.0,426.7 L741.0,427.4 L742.0,428.1 L743.0,428.9 L744.0,429.6 L745.0,430.4 L746.0,431.1 L747.0,431.9 L748.0,432.6 L749.0,433.4 L750.0,434.2 L751.0,435.0 L752.0,435.7 L753.0,436.5 L754.0,437.3 L755.0,438.1 L756.0,438.9 L757.0,439.8 L758.0,440.6 L759.0,441.4 L760.0,442.2 L761.0,443.1 L762.0,443.9 L763.0,444.8 L764.0,445.6 L765.0,446.5 L766.0,447.3 L767.0,448.2 L768.0,449.1 L769.0,450.0 L770.0,450.9 L771.0,451.8 L772.0,452.7 L773.0,453.6 L774.0,454.6 L775.0,455.5 L776.0,456.5 L777.0,457.5 L778.0,458.4 L779.0,459.4 L780.0,460.4 L781.0,461.5 L782.0,462.5 L783.0,463.5 L784.0,464.5 L785.0,465.6 L786.0,466.7 L787.0,467.7 L788.0,468.8 L789.0,469.9 L790.0,471.0 L791.0,472.1 L792.0,473.2 L793.0,474.3 L794.0,475.4 L795.0,476.5 L796.0,477.6 L797.0,478.8 L798.0,479.9 L799.0,481.1 L800.0,482.2 L801.0,483.4 L802.0,484.6 L803.0,485.7 L804.0,486.9 L805.0,488.1 L806.0,489.3 L807.0,490.5 L808.0,491.7 L809.0,492.9 L810.0,494.1 L811.0,495.3 L812.0,496.5 L813.0,497.8 L814.0,499.0 L815.0,500.2 L816.0,501.4 L817.0,502.7 L818.0,503.9 L819.0,505.2 L820.0,506.4 L821.0,507.6 L822.0,508.9 L823.0,510.1 L824.0,511.4 L825.0,512.7 L826.0,513.9 L827.0,515.2 L828.0,516.5 L829.0,517.8 L830.0,519.2 L831.0,520.5 L832.0,521.9 L833.0,523.3 L834.0,524.7 L835.0,526.1 L836.0,527.5 L837.0,528.9 L838.0,530.3 L839.0,531.8 L840.0,533.2 L841.0,534.7 L842.0,536.1 L843.0,537.6 L844.0,539.1 L845.0,540.6 L846.0,542.1 L847.0,543.6 L848.0,545.1 L849.0,546.6 L850.0,548.1 L851.0,549.6 L852.0,551.1 L853.0,552.6 L854.0,554.1 L855.0,555.6 L856.0,557.1 L857.0,558.6 L858.0,560.1 L859.0,561.6 L860.0,563.1 L861.0,564.6 L862.0,566.1 L863.0,567.6 L864.0,569.1 L865.0,570.6 L866.0,572.1 L867.0,573.5 L868.0,575.0 L869.0,576.4 L870.0,577.9 L871.0,579.3 L872.0,580.7 L873.0,582.1 L874.0,583.5 L875.0,584.9 L876.0,586.3 L877.0,587.6 L878.0,589.0 L879.0,590.3 L880.0,591.6 L881.0,593.0 L882.0,594.3 L883.0,595.6 L884.0,596.9 L885.0,598.2 L886.0,599.5 L887.0,600.8 L888.0,602.1 L889.0,603.4 L890.0,604.7 L891.0,605.9 L892.0,607.2 L893.0,608.5 L894.0,609.7 L895.0,611.0 L896.0,612.2 L897.0,613.5 L898.0,614.7 L899.0,616.0 L900.0,617.2 L901.0,618.5 L902.0,619.7 L903.0,621.0 L904.0,622.2 L905.0,623.4 L906.0,624.7 L907.0,625.9 L908.0,627.1 L909.0,628.4 L910.0,629.6 L911.0,630.8 L912.0,632.1 L913.0,633.3 L914.0,634.5 L915.0,635.7 L916.0,637.0 L917.0,638.2 L918.0,639.5 L919.0,640.7 L920.0,641.9 L921.0,643.2 L922.0,644.4 L923.0,645.7 L924.0,646.9 L925.0,648.2 L926.0,649.4 L927.0,650.7 L928.0,651.9 L929.0,653.2 L930.0,654.5 L931.0,655.7 L932.0,657.0 L933.0,658.3 L934.0,659.6 L935.0,660.9 L936.0,662.1 L937.0,663.4 L938.0,664.7 L939.0,666.0 L940.0,667.3 L941.0,668.6 L942.0,669.9 L943.0,671.2 L944.0,672.5 L945.0,673.8 L946.0,675.1 L947.0,676.4 L948.0,677.7 L949.0,679.0 L950.0,680.3 L951.0,681.6 L952.0,682.9 L953.0,684.2 L954.0,685.5 L955.0,686.8 L956.0,688.1 L957.0,689.4 L958.0,690.8 L959.0,692.1 L960.0,693.4 L961.0,694.7 L962.0,696.0 L963.0,697.3 L964.0,698.7 L965.0,700.0 L966.0,701.3 L967.0,702.6 L968.0,703.9 L969.0,705.3 L970.0,706.6 L971.0,707.9 L972.0,709.3 L973.0,710.6 L974.0,711.9 L975.0,713.3 L976.0,714.6 L977.0,716.0 L978.0,717.3 L979.0,718.6 L980.0,720.0 L981.0,721.3 L982.0,722.7 L983.0,724.0 L984.0,725.4 L985.0,726.8 L986.0,728.1 L987.0,729.5 L988.0,730.8 L989.0,732.2 L990.0,733.6 L991.0,734.9 L992.0,736.3 L993.0,737.7 L994.0,739.1 L995.0,740.4 L996.0,741.8 L997.0,743.2 L998.0,744.6 L999.0,746.0 L1000.0,747.4 L1001.0,748.8 L1002.0,750.2 L1003.0,751.6 L1004.0,753.0 L1005.0,754.4 L1006.0,755.8 L1007.0,757.2 L1008.0,758.6 L1009.0,760.0 L1010.0,761.4 L1011.0,762.8 L1012.0,764.2 L1013.0,765.6 L1014.0,767.1 L1015.0,768.5 L1016.0,769.9 L1017.0,771.3 L1018.0,772.8 L1019.0,774.2 L1020.0,775.6 L1021.0,777.0 L1022.0,778.5 L1023.0,779.9 L1024.0,781.3 L1025.0,782.8 L1026.0,784.2 L1027.0,785.7 L1028.0,787.1 L1029.0,788.6 L1030.0,790.0" fill="none" stroke="#b83c8c" stroke-width="3.2"/>
<polygon points="605.6,352.8 626.6,373.8 605.6,394.8 584.6,373.8" fill="#fff" stroke="#c878b0" stroke-width="2.0" stroke-linejoin="miter"/>
<polygon points="658.7,363.4 679.7,384.4 658.7,405.4 637.7,384.4" fill="#fff" stroke="#c878b0" stroke-width="2.0" stroke-linejoin="miter"/>
<polygon points="713.9,388.9 734.9,409.9 713.9,430.9 692.9,409.9" fill="#fff" stroke="#c878b0" stroke-width="2.0" stroke-linejoin="miter"/>
<polygon points="767.0,427.2 788.0,448.2 767.0,469.2 746.0,448.2" fill="#fff" stroke="#c878b0" stroke-width="2.0" stroke-linejoin="miter"/>
<polygon points="824.4,490.9 845.4,511.9 824.4,532.9 803.4,511.9" fill="#fff" stroke="#c878b0" stroke-width="2.0" stroke-linejoin="miter"/>
<polygon points="877.5,567.3 898.5,588.3 877.5,609.3 856.5,588.3" fill="#fff" stroke="#c878b0" stroke-width="2.0" stroke-linejoin="miter"/>
<polygon points="934.8,639.6 955.8,660.6 934.8,681.6 913.8,660.6" fill="#fff" stroke="#c878b0" stroke-width="2.0" stroke-linejoin="miter"/>
<polygon points="987.9,709.7 1008.9,730.7 987.9,751.7 966.9,730.7" fill="#fff" stroke="#c878b0" stroke-width="2.0" stroke-linejoin="miter"/>
<path d="M560.0,318.0 L561.0,318.0 L562.0,318.0 L563.0,318.0 L564.0,318.0 L565.0,318.0 L566.0,318.0 L567.0,318.0 L568.0,318.0 L569.0,318.0 L570.0,318.0 L571.0,318.0 L572.0,317.9 L573.0,317.9 L574.0,317.9 L575.0,317.9 L576.0,317.9 L577.0,317.9 L578.0,317.9 L579.0,317.9 L580.0,317.9 L581.0,317.8 L582.0,317.8 L583.0,317.8 L584.0,317.8 L585.0,317.8 L586.0,317.8 L587.0,317.7 L588.0,317.7 L589.0,317.7 L590.0,317.7 L591.0,317.7 L592.0,317.6 L593.0,317.6 L594.0,317.6 L595.0,317.6 L596.0,317.6 L597.0,317.5 L598.0,317.5 L599.0,317.5 L600.0,317.5 L601.0,317.4 L602.0,317.4 L603.0,317.4 L604.0,317.4 L605.0,317.3 L606.0,317.3 L607.0,317.3 L608.0,317.3 L609.0,317.2 L610.0,317.2 L611.0,317.2 L612.0,317.1 L613.0,317.1 L614.0,317.1 L615.0,317.1 L616.0,317.0 L617.0,317.0 L618.0,317.0 L619.0,316.9 L620.0,316.9 L621.0,316.9 L622.0,316.8 L623.0,316.8 L624.0,316.8 L625.0,316.8 L626.0,316.7 L627.0,316.7 L628.0,316.7 L629.0,316.6 L630.0,316.6 L631.0,316.6 L632.0,316.5 L633.0,316.5 L634.0,316.5 L635.0,316.4 L636.0,316.4 L637.0,316.3 L638.0,316.3 L639.0,316.2 L640.0,316.2 L641.0,316.1 L642.0,316.0 L643.0,316.0 L644.0,315.9 L645.0,315.8 L646.0,315.7 L647.0,315.6 L648.0,315.6 L649.0,315.5 L650.0,315.4 L651.0,315.3 L652.0,315.2 L653.0,315.1 L654.0,315.0 L655.0,314.9 L656.0,314.8 L657.0,314.7 L658.0,314.6 L659.0,314.6 L660.0,314.5 L661.0,314.4 L662.0,314.3 L663.0,314.2 L664.0,314.1 L665.0,314.0 L666.0,313.9 L667.0,313.9 L668.0,313.8 L669.0,313.7 L670.0,313.6 L671.0,313.6 L672.0,313.5 L673.0,313.5 L674.0,313.4 L675.0,313.3 L676.0,313.3 L677.0,313.3 L678.0,313.2 L679.0,313.2 L680.0,313.2 L681.0,313.1 L682.0,313.1 L683.0,313.1 L684.0,313.1 L685.0,313.1 L686.0,313.1 L687.0,313.1 L688.0,313.1 L689.0,313.1 L690.0,313.2 L691.0,313.2 L692.0,313.2 L693.0,313.2 L694.0,313.2 L695.0,313.3 L696.0,313.3 L697.0,313.3 L698.0,313.4 L699.0,313.4 L700.0,313.5 L701.0,313.5 L702.0,313.5 L703.0,313.6 L704.0,313.6 L705.0,313.7 L706.0,313.7 L707.0,313.8 L708.0,313.8 L709.0,313.9 L710.0,314.0 L711.0,314.0 L712.0,314.1 L713.0,314.1 L714.0,314.2 L715.0,314.3 L716.0,314.3 L717.0,314.4 L718.0,314.4 L719.0,314.5 L720.0,314.6 L721.0,314.6 L722.0,314.7 L723.0,314.8 L724.0,314.8 L725.0,314.9 L726.0,315.0 L727.0,315.1 L728.0,315.1 L729.0,315.2 L730.0,315.3 L731.0,315.3 L732.0,315.4 L733.0,315.5 L734.0,315.5 L735.0,315.6 L736.0,315.7 L737.0,315.7 L738.0,315.8 L739.0,315.9 L740.0,316.0 L741.0,316.0 L742.0,316.1 L743.0,316.2 L744.0,316.3 L745.0,316.4 L746.0,316.5 L747.0,316.6 L748.0,316.7 L749.0,316.8 L750.0,316.9 L751.0,317.0 L752.0,317.1 L753.0,317.2 L754.0,317.3 L755.0,317.4 L756.0,317.5 L757.0,317.6 L758.0,317.7 L759.0,317.8 L760.0,317.9 L761.0,318.0 L762.0,318.1 L763.0,318.3 L764.0,318.4 L765.0,318.5 L766.0,318.6 L767.0,318.7 L768.0,318.8 L769.0,318.9 L770.0,319.0 L771.0,319.1 L772.0,319.3 L773.0,319.4 L774.0,319.5 L775.0,319.6 L776.0,319.7 L777.0,319.8 L778.0,319.9 L779.0,320.0 L780.0,320.1 L781.0,320.2 L782.0,320.3 L783.0,320.4 L784.0,320.5 L785.0,320.6 L786.0,320.7 L787.0,320.8 L788.0,320.9 L789.0,321.0 L790.0,321.0 L791.0,321.1 L792.0,321.2 L793.0,321.3 L794.0,321.4 L795.0,321.4 L796.0,321.5 L797.0,321.6 L798.0,321.6 L799.0,321.7 L800.0,321.8 L801.0,321.9 L802.0,321.9 L803.0,322.0 L804.0,322.1 L805.0,322.1 L806.0,322.2 L807.0,322.3 L808.0,322.3 L809.0,322.4 L810.0,322.5 L811.0,322.5 L812.0,322.6 L813.0,322.7 L814.0,322.8 L815.0,322.8 L816.0,322.9 L817.0,323.0 L818.0,323.1 L819.0,323.1 L820.0,323.2 L821.0,323.3 L822.0,323.4 L823.0,323.5 L824.0,323.6 L825.0,323.6 L826.0,323.7 L827.0,323.8 L828.0,323.9 L829.0,324.0 L830.0,324.1 L831.0,324.3 L832.0,324.4 L833.0,324.5 L834.0,324.6 L835.0,324.7 L836.0,324.9 L837.0,325.0 L838.0,325.1 L839.0,325.3 L840.0,325.4 L841.0,325.6 L842.0,325.8 L843.0,326.0 L844.0,326.2 L845.0,326.4 L846.0,326.6 L847.0,326.8 L848.0,327.0 L849.0,327.3 L850.0,327.5 L851.0,327.8 L852.0,328.0 L853.0,328.3 L854.0,328.6 L855.0,328.9 L856.0,329.1 L857.0,329.4 L858.0,329.8 L859.0,330.1 L860.0,330.4 L861.0,330.7 L862.0,331.0 L863.0,331.4 L864.0,331.7 L865.0,332.1 L866.0,332.4 L867.0,332.8 L868.0,333.2 L869.0,333.5 L870.0,333.9 L871.0,334.3 L872.0,334.7 L873.0,335.1 L874.0,335.5 L875.0,335.9 L876.0,336.3 L877.0,336.7 L878.0,337.1 L879.0,337.5 L880.0,337.9 L881.0,338.4 L882.0,338.8 L883.0,339.2 L884.0,339.7 L885.0,340.1 L886.0,340.5 L887.0,341.0 L888.0,341.4 L889.0,341.9 L890.0,342.3 L891.0,342.8 L892.0,343.3 L893.0,343.7 L894.0,344.2 L895.0,344.7 L896.0,345.3 L897.0,345.8 L898.0,346.3 L899.0,346.9 L900.0,347.5 L901.0,348.0 L902.0,348.6 L903.0,349.2 L904.0,349.8 L905.0,350.5 L906.0,351.1 L907.0,351.7 L908.0,352.4 L909.0,353.0 L910.0,353.7 L911.0,354.4 L912.0,355.1 L913.0,355.8 L914.0,356.5 L915.0,357.2 L916.0,357.9 L917.0,358.7 L918.0,359.4 L919.0,360.2 L920.0,360.9 L921.0,361.7 L922.0,362.5 L923.0,363.3 L924.0,364.1 L925.0,364.9 L926.0,365.7 L927.0,366.5 L928.0,367.3 L929.0,368.2 L930.0,369.0 L931.0,369.9 L932.0,370.7 L933.0,371.6 L934.0,372.5 L935.0,373.3 L936.0,374.2 L937.0,375.1 L938.0,376.0 L939.0,376.9 L940.0,377.8 L941.0,378.7 L942.0,379.7 L943.0,380.6 L944.0,381.6 L945.0,382.5 L946.0,383.5 L947.0,384.5 L948.0,385.5 L949.0,386.5 L950.0,387.6 L951.0,388.6 L952.0,389.7 L953.0,390.7 L954.0,391.8 L955.0,392.9 L956.0,394.0 L957.0,395.2 L958.0,396.3 L959.0,397.5 L960.0,398.7 L961.0,399.8 L962.0,401.0 L963.0,402.3 L964.0,403.5 L965.0,404.7 L966.0,406.0 L967.0,407.3 L968.0,408.6 L969.0,409.9 L970.0,411.2 L971.0,412.5 L972.0,413.9 L973.0,415.3 L974.0,416.7 L975.0,418.1 L976.0,419.5 L977.0,420.9 L978.0,422.4 L979.0,423.8 L980.0,425.3 L981.0,426.8 L982.0,428.3 L983.0,429.9 L984.0,431.4 L985.0,433.0 L986.0,434.6 L987.0,436.2 L988.0,437.8 L989.0,439.5 L990.0,441.1 L991.0,442.8 L992.0,444.5 L993.0,446.2 L994.0,447.9 L995.0,449.7 L996.0,451.6 L997.0,453.4 L998.0,455.4 L999.0,457.3 L1000.0,459.4 L1001.0,461.4 L1002.0,463.5 L1003.0,465.7 L1004.0,467.9 L1005.0,470.1 L1006.0,472.4 L1007.0,474.7 L1008.0,477.0 L1009.0,479.4 L1010.0,481.8 L1011.0,484.2 L1012.0,486.7 L1013.0,489.2 L1014.0,491.8 L1015.0,494.3 L1016.0,496.9 L1017.0,499.6 L1018.0,502.2 L1019.0,504.9 L1020.0,507.6 L1021.0,510.3 L1022.0,513.1 L1023.0,515.9 L1024.0,518.7 L1025.0,521.5 L1026.0,524.3 L1027.0,527.2 L1028.0,530.0 L1029.0,532.9 L1030.0,535.8 L1031.0,538.7 L1032.0,541.7 L1033.0,544.6 L1034.0,547.5 L1035.0,550.5 L1036.0,553.5 L1037.0,556.4 L1038.0,559.4 L1039.0,562.4 L1040.0,565.4 L1041.0,568.4 L1042.0,571.4 L1043.0,574.4 L1044.0,577.4 L1045.0,580.4 L1046.0,583.5 L1047.0,586.5 L1048.0,589.6 L1049.0,592.8 L1050.0,596.0 L1051.0,599.2 L1052.0,602.5 L1053.0,605.7 L1054.0,609.1 L1055.0,612.4 L1056.0,615.8 L1057.0,619.2 L1058.0,622.6 L1059.0,626.1 L1060.0,629.6 L1061.0,633.1 L1062.0,636.6 L1063.0,640.2 L1064.0,643.8 L1065.0,647.4 L1066.0,651.1 L1067.0,654.7 L1068.0,658.4 L1069.0,662.1 L1070.0,665.8 L1071.0,669.6 L1072.0,673.3 L1073.0,677.1 L1074.0,680.9 L1075.0,684.7 L1076.0,688.6 L1077.0,692.4 L1078.0,696.3 L1079.0,700.2 L1080.0,704.1 L1081.0,708.1 L1082.0,712.2 L1083.0,716.2 L1084.0,720.3 L1085.0,724.5 L1086.0,728.6 L1087.0,732.8 L1088.0,737.1 L1089.0,741.3 L1090.0,745.6 L1091.0,749.9 L1092.0,754.3 L1093.0,758.7 L1094.0,763.1 L1095.0,767.5 L1096.0,772.0 L1097.0,776.4 L1098.0,780.9 L1099.0,785.5 L1100.0,790.0" fill="none" stroke="#111111" stroke-width="3.2"/>
<rect x="617.5" y="300.7" width="31.0" height="31.7" fill="#fff" stroke="#3a3a3a" stroke-width="2.0"/>
<rect x="668.7" y="297.3" width="31.0" height="31.7" fill="#fff" stroke="#3a3a3a" stroke-width="2.0"/>
<rect x="719.6" y="299.8" width="31.0" height="31.7" fill="#fff" stroke="#3a3a3a" stroke-width="2.0"/>
<rect x="770.6" y="304.9" width="31.0" height="31.7" fill="#fff" stroke="#3a3a3a" stroke-width="2.0"/>
<rect x="821.6" y="309.2" width="31.0" height="31.7" fill="#fff" stroke="#3a3a3a" stroke-width="2.0"/>
<rect x="873.8" y="326.2" width="31.0" height="31.7" fill="#fff" stroke="#3a3a3a" stroke-width="2.0"/>
<rect x="924.8" y="362.3" width="31.0" height="31.7" fill="#fff" stroke="#3a3a3a" stroke-width="2.0"/>
<rect x="977.9" y="431.1" width="31.0" height="31.7" fill="#fff" stroke="#3a3a3a" stroke-width="2.0"/>
<rect x="1028.9" y="562.8" width="31.0" height="31.7" fill="#fff" stroke="#3a3a3a" stroke-width="2.0"/>
</g></g>
<ellipse cx="833.9" cy="525.9" rx="313.3" ry="269.8" fill="none" stroke="#8a8a8a" stroke-width="2"/>
<line x1="1112.6" y1="288.4" x2="1066" y2="337" stroke="#111" stroke-width="3.6"/>
<polygon points="1036.8,369.2 1061,326.6 1078.2,342.1" fill="#111"/>
<g stroke="#1a1a1a" stroke-width="3.6" fill="none">
<rect x="255.5" y="55.0" width="1441.0" height="1061.5"/>
<line x1="255.5" y1="1116.5" x2="255.5" y2="1128.5" />
<line x1="351.6" y1="1116.5" x2="351.6" y2="1140.5" />
<line x1="447.6" y1="1116.5" x2="447.6" y2="1128.5" />
<line x1="543.7" y1="1116.5" x2="543.7" y2="1140.5" />
<line x1="639.8" y1="1116.5" x2="639.8" y2="1128.5" />
<line x1="735.8" y1="1116.5" x2="735.8" y2="1140.5" />
<line x1="831.9" y1="1116.5" x2="831.9" y2="1128.5" />
<line x1="928.0" y1="1116.5" x2="928.0" y2="1140.5" />
<line x1="1024.0" y1="1116.5" x2="1024.0" y2="1128.5" />
<line x1="1120.1" y1="1116.5" x2="1120.1" y2="1140.5" />
<line x1="1216.2" y1="1116.5" x2="1216.2" y2="1128.5" />
<line x1="1312.2" y1="1116.5" x2="1312.2" y2="1140.5" />
<line x1="1408.3" y1="1116.5" x2="1408.3" y2="1128.5" />
<line x1="1504.4" y1="1116.5" x2="1504.4" y2="1140.5" />
<line x1="1600.4" y1="1116.5" x2="1600.4" y2="1128.5" />
<line x1="1696.5" y1="1116.5" x2="1696.5" y2="1140.5" />
<line x1="255.5" y1="1116.5" x2="243.5" y2="1116.5" />
<line x1="255.5" y1="1010.4" x2="232.5" y2="1010.4" />
<line x1="255.5" y1="904.2" x2="243.5" y2="904.2" />
<line x1="255.5" y1="798.0" x2="232.5" y2="798.0" />
<line x1="255.5" y1="691.9" x2="243.5" y2="691.9" />
<line x1="255.5" y1="585.8" x2="232.5" y2="585.8" />
<line x1="255.5" y1="479.6" x2="243.5" y2="479.6" />
<line x1="255.5" y1="373.4" x2="232.5" y2="373.4" />
<line x1="255.5" y1="267.3" x2="243.5" y2="267.3" />
<line x1="255.5" y1="161.2" x2="232.5" y2="161.2" />
<line x1="255.5" y1="55.0" x2="243.5" y2="55.0" />
</g>
<g font-family="'Liberation Sans', Arial, sans-serif" font-weight="bold" font-size="56" fill="#111">
<text transform="translate(352.9,1197.5) scale(0.94,1.07)" text-anchor="middle" letter-spacing="2.7">100</text>
<text transform="translate(545.0,1197.5) scale(0.94,1.07)" text-anchor="middle" letter-spacing="2.7">200</text>
<text transform="translate(737.1,1197.5) scale(0.94,1.07)" text-anchor="middle" letter-spacing="2.7">300</text>
<text transform="translate(929.3,1197.5) scale(0.94,1.07)" text-anchor="middle" letter-spacing="2.7">400</text>
<text transform="translate(1121.4,1197.5) scale(0.94,1.07)" text-anchor="middle" letter-spacing="2.7">500</text>
<text transform="translate(1313.5,1197.5) scale(0.94,1.07)" text-anchor="middle" letter-spacing="2.7">600</text>
<text transform="translate(1505.7,1197.5) scale(0.94,1.07)" text-anchor="middle" letter-spacing="2.7">700</text>
<text transform="translate(1697.8,1197.5) scale(0.94,1.07)" text-anchor="middle" letter-spacing="2.7">800</text>
<text transform="translate(221,1026.2) scale(0.94,1.07)" text-anchor="end" letter-spacing="2.7">60</text>
<text transform="translate(221,813.8) scale(0.94,1.07)" text-anchor="end" letter-spacing="2.7">70</text>
<text transform="translate(221,601.5) scale(0.94,1.07)" text-anchor="end" letter-spacing="2.7">80</text>
<text transform="translate(221,389.2) scale(0.94,1.07)" text-anchor="end" letter-spacing="2.7">90</text>
<text transform="translate(221,177.0) scale(0.94,1.07)" text-anchor="end" letter-spacing="2.7">100</text>
</g>
<g font-family="'Liberation Sans', Arial, sans-serif" font-weight="bold" font-size="51" fill="#111">
<line x1="311" y1="671.4" x2="431" y2="671.4" stroke="#111111" stroke-width="4"/>
<rect x="357.0" y="656.6" width="29.0" height="29.6" fill="#fff" stroke="#3a3a3a" stroke-width="2.2"/>
<text x="444.5" y="689.2">PI-0</text>
<line x1="311" y1="736.6" x2="431" y2="736.6" stroke="#bc4640" stroke-width="4"/>
<ellipse cx="371.5" cy="737.1" rx="15.2" ry="16.0" fill="#fff" stroke="#c46e68" stroke-width="2.2"/>
<text x="444.5" y="754.4">PI-10</text>
<line x1="311" y1="802.2" x2="431" y2="802.2" stroke="#28286e" stroke-width="4"/>
<polygon points="371.5,779.2 390.8,813.7 352.2,813.7" fill="#fff" stroke="#5e5ea0" stroke-width="2.2" stroke-linejoin="miter"/>
<text x="444.5" y="820.0">PI-15</text>
<line x1="311" y1="866.8" x2="431" y2="866.8" stroke="#2e7a36" stroke-width="4"/>
<polygon points="371.5,889.8 390.8,855.3 352.2,855.3" fill="#fff" stroke="#6a9e6a" stroke-width="2.2" stroke-linejoin="miter"/>
<text x="444.5" y="884.6">PI-20</text>
<line x1="311" y1="932.4" x2="431" y2="932.4" stroke="#b83c8c" stroke-width="4"/>
<polygon points="371.5,912.1 389.5,932.4 371.5,952.7 353.5,932.4" fill="#fff" stroke="#c878b0" stroke-width="2.2" stroke-linejoin="miter"/>
<text x="444.5" y="950.2">PI-25</text>
<line x1="311" y1="997" x2="431" y2="997" stroke="#6e1e1e" stroke-width="4"/>
<polygon points="371.5,976.4 376.8,991.0 391.9,991.7 380.1,1001.4 384.1,1016.4 371.5,1007.8 358.9,1016.4 362.9,1001.4 351.1,991.7 366.2,991.0" fill="#fff" stroke="#8a4c4c" stroke-width="2.2" stroke-linejoin="bevel"/>
<text x="444.5" y="1014.8">PI-30</text>
<text x="311" y="1080.5" font-size="52">in nitrogen</text>
</g>
<text transform="translate(677.5,1292.6) scale(1,1.035)" font-family="'Liberation Sans', Arial, sans-serif" font-weight="bold" font-size="61" fill="#111">Temperature <tspan font-weight="normal">(</tspan><tspan font-weight="normal" font-size="37" dy="-30.5">o</tspan><tspan dy="30.5" dx="1">C</tspan><tspan font-weight="normal">)</tspan></text>
<text transform="translate(77.7,722) rotate(-90)" font-family="'Liberation Sans', Arial, sans-serif" font-weight="bold" font-size="62" fill="#111">Weight <tspan font-weight="normal">(%)</tspan></text>
</svg>
</body></html>
